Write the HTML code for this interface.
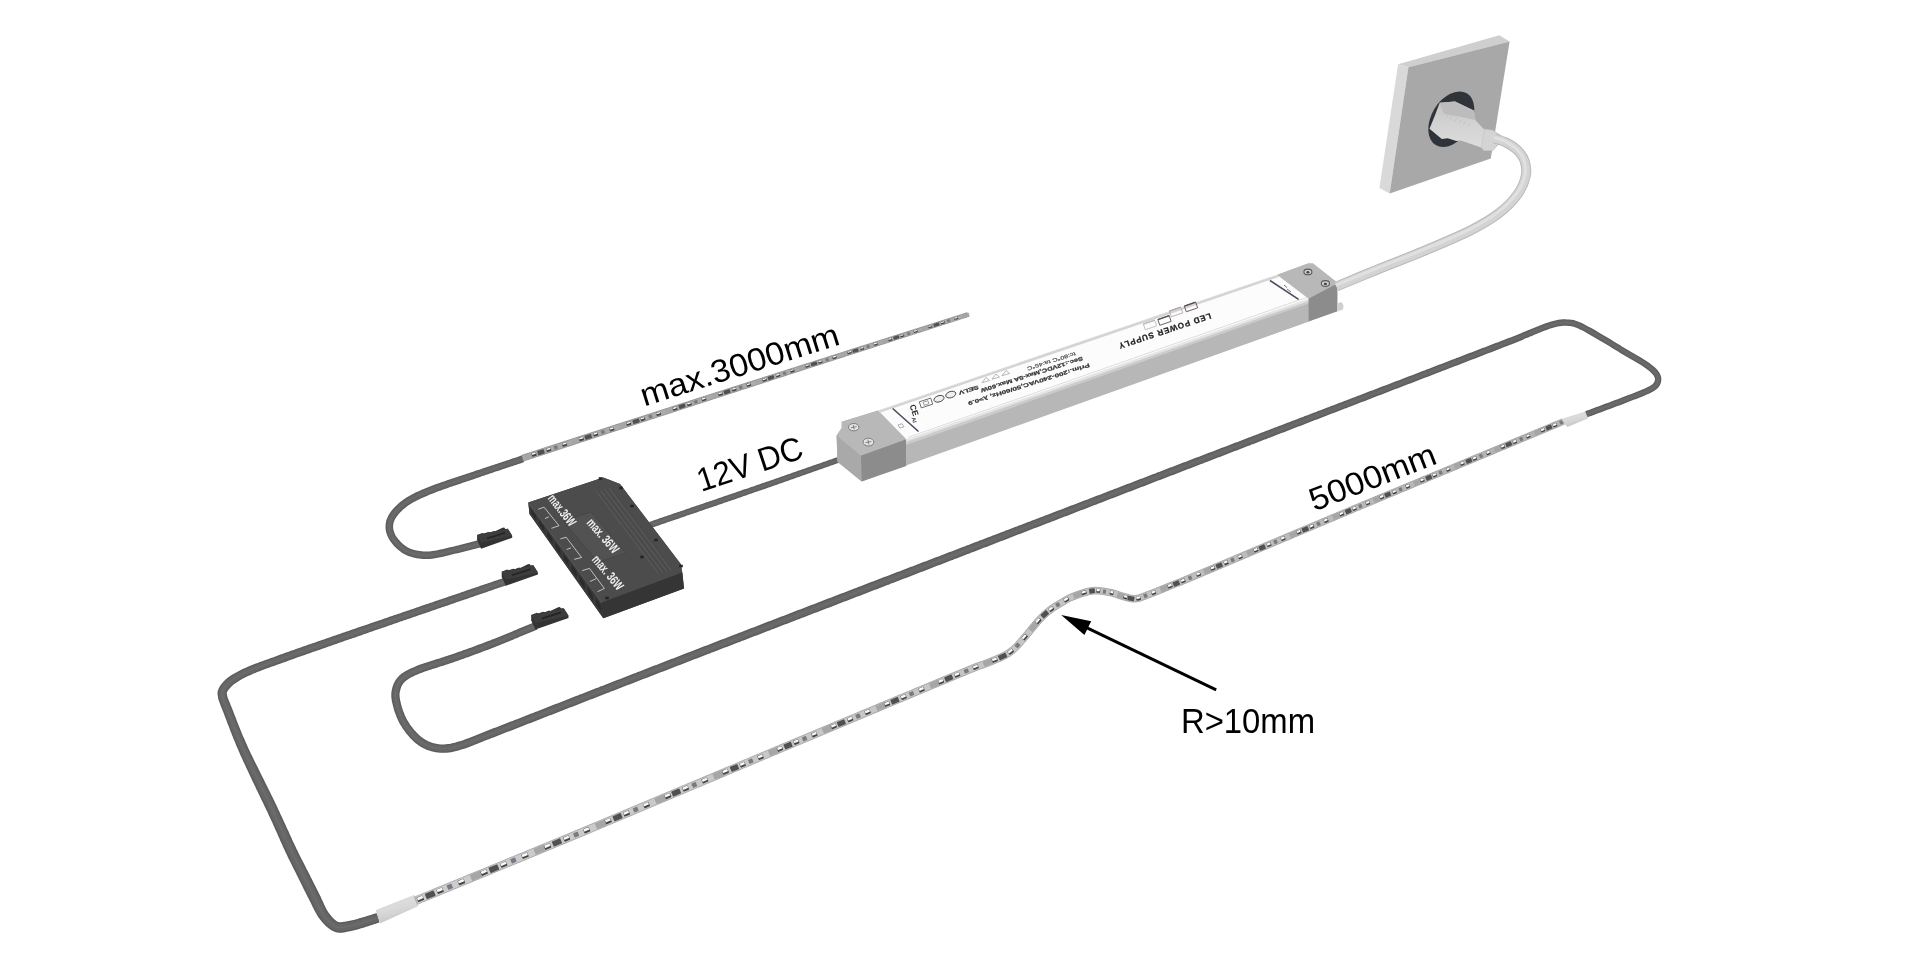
<!DOCTYPE html>
<html><head><meta charset="utf-8"><style>
html,body{margin:0;padding:0;background:#fff;width:1920px;height:961px;overflow:hidden}
svg{display:block;position:absolute;left:0;top:0;will-change:transform}
text{font-family:"Liberation Sans",sans-serif}
</style></head><body>
<svg width="1920" height="961" viewBox="0 0 1920 961">
<rect width="1920" height="961" fill="#ffffff"/>
<polygon points="534.5,622.2 532.7,623.0 530.8,623.7 529.0,624.5 527.1,625.3 525.3,626.0 523.4,626.8 521.6,627.6 519.7,628.3 517.9,629.1 516.0,629.9 514.2,630.6 512.3,631.4 510.5,632.2 508.6,632.9 506.8,633.7 504.9,634.4 503.1,635.2 501.2,635.9 499.4,636.7 497.5,637.4 495.7,638.2 493.8,638.9 492.0,639.6 490.1,640.4 488.3,641.1 486.4,641.8 484.5,642.5 482.7,643.2 480.8,643.9 478.9,644.6 477.1,645.3 475.2,646.0 473.3,646.7 471.5,647.4 469.6,648.1 467.7,648.7 465.8,649.4 463.9,650.1 462.1,650.8 460.2,651.4 458.3,652.1 456.4,652.7 454.5,653.4 452.7,654.1 450.8,654.7 448.9,655.3 447.0,655.9 445.1,656.6 443.2,657.2 441.3,657.8 439.4,658.4 437.5,659.0 435.6,659.6 433.7,660.2 431.8,660.8 429.9,661.4 428.0,662.0 426.0,662.7 424.1,663.3 422.2,664.0 420.2,664.6 418.3,665.3 416.4,666.1 414.5,666.9 412.6,667.7 410.6,668.5 408.7,669.4 406.8,670.4 404.9,671.5 403.0,672.7 401.2,674.1 399.4,675.6 397.8,677.3 396.2,679.2 394.9,681.2 393.9,683.3 393.0,685.5 392.3,687.7 391.8,690.0 391.4,692.3 391.3,694.6 391.3,697.0 391.6,699.3 391.9,701.4 392.4,703.6 392.9,705.6 393.4,707.6 394.0,709.7 394.6,711.7 395.3,713.6 396.0,715.6 396.8,717.6 397.7,719.6 398.6,721.5 399.6,723.4 400.7,725.3 401.8,727.1 403.0,728.9 404.2,730.6 405.4,732.3 406.7,734.0 408.1,735.6 409.5,737.2 410.9,738.7 412.5,740.3 414.0,741.7 415.7,743.2 417.4,744.5 419.2,745.8 421.1,747.0 423.1,748.1 425.1,749.0 427.1,749.9 429.2,750.6 431.3,751.3 433.5,751.8 435.7,752.3 437.9,752.6 440.1,752.7 442.3,752.8 444.5,752.8 446.6,752.7 448.8,752.5 451.0,752.2 453.1,751.8 455.2,751.3 457.3,750.8 459.3,750.2 461.2,749.6 463.2,749.0 465.1,748.4 467.1,747.7 469.1,747.0 471.0,746.2 472.9,745.5 474.7,744.7 476.6,744.0 478.5,743.2 480.3,742.5 482.2,741.8 484.0,741.0 485.9,740.3 487.8,739.6 489.6,738.9 491.5,738.1 493.3,737.4 495.2,736.7 497.1,736.0 498.9,735.2 500.8,734.5 502.7,733.8 504.5,733.1 506.4,732.3 508.3,731.6 510.1,730.9 512.0,730.2 513.9,729.4 515.7,728.7 517.6,728.0 519.5,727.2 521.3,726.5 523.2,725.8 525.1,725.1 526.9,724.3 528.8,723.6 530.7,722.9 532.5,722.2 534.4,721.4 536.2,720.7 538.1,720.0 540.0,719.2 541.8,718.5 543.7,717.8 545.6,717.1 547.4,716.3 549.3,715.6 551.2,714.9 553.0,714.2 554.9,713.4 556.8,712.7 558.6,712.0 560.5,711.2 562.4,710.5 564.2,709.8 566.1,709.1 568.0,708.3 569.8,707.6 571.7,706.9 573.6,706.2 575.4,705.4 577.3,704.7 579.1,704.0 581.0,703.3 582.9,702.5 584.7,701.8 586.6,701.1 588.5,700.3 590.3,699.6 592.2,698.9 594.1,698.2 595.9,697.4 597.8,696.7 599.7,696.0 601.5,695.3 603.4,694.5 605.3,693.8 607.1,693.1 609.0,692.4 610.9,691.6 612.7,690.9 614.6,690.2 616.5,689.5 618.3,688.7 620.2,688.0 622.1,687.3 623.9,686.6 625.8,685.8 627.7,685.1 629.5,684.4 631.4,683.7 633.3,682.9 635.1,682.2 637.0,681.5 638.9,680.8 640.7,680.1 642.6,679.3 644.5,678.6 646.3,677.9 648.2,677.2 650.1,676.4 651.9,675.7 653.8,675.0 655.7,674.3 657.5,673.6 659.4,672.8 661.3,672.1 663.1,671.4 665.0,670.7 666.9,669.9 668.7,669.2 670.6,668.5 672.5,667.8 674.3,667.1 676.2,666.3 678.1,665.6 679.9,664.9 681.8,664.2 683.7,663.5 685.5,662.7 687.4,662.0 689.3,661.3 691.1,660.6 693.0,659.8 694.9,659.1 696.7,658.4 698.6,657.7 700.5,657.0 702.3,656.2 704.2,655.5 706.1,654.8 707.9,654.1 709.8,653.4 711.7,652.6 713.5,651.9 715.4,651.2 717.3,650.5 719.1,649.8 721.0,649.1 722.9,648.3 724.8,647.6 726.6,646.9 728.5,646.2 730.4,645.5 732.2,644.7 734.1,644.0 736.0,643.3 737.8,642.6 739.7,641.9 741.6,641.1 743.4,640.4 745.3,639.7 747.2,639.0 749.0,638.3 750.9,637.5 752.8,636.8 754.6,636.1 756.5,635.4 758.4,634.7 760.3,634.0 762.1,633.2 764.0,632.5 765.9,631.8 767.7,631.1 769.6,630.4 771.5,629.6 773.3,628.9 775.2,628.2 777.1,627.5 778.9,626.8 780.8,626.0 782.7,625.3 784.5,624.6 786.4,623.9 788.3,623.2 790.1,622.5 792.0,621.7 793.9,621.0 795.8,620.3 797.6,619.6 799.5,618.9 801.4,618.1 803.2,617.4 805.1,616.7 807.0,616.0 808.8,615.3 810.7,614.6 812.6,613.8 814.4,613.1 816.3,612.4 818.2,611.7 820.0,611.0 821.9,610.2 823.8,609.5 825.7,608.8 827.5,608.1 829.4,607.4 831.3,606.7 833.1,605.9 835.0,605.2 836.9,604.5 838.7,603.8 840.6,603.1 842.5,602.3 844.3,601.6 846.2,600.9 848.1,600.2 849.9,599.5 851.8,598.7 853.7,598.0 855.5,597.3 857.4,596.6 859.3,595.9 861.2,595.2 863.0,594.4 864.9,593.7 866.8,593.0 868.6,592.3 870.5,591.6 872.4,590.8 874.2,590.1 876.1,589.4 878.0,588.7 879.8,588.0 881.7,587.2 883.6,586.5 885.4,585.8 887.3,585.1 889.2,584.4 891.0,583.6 892.9,582.9 894.8,582.2 896.6,581.5 898.5,580.8 900.4,580.0 902.2,579.3 904.1,578.6 906.0,577.9 907.9,577.2 909.7,576.4 911.6,575.7 913.5,575.0 915.3,574.3 917.2,573.6 919.1,572.8 920.9,572.1 922.8,571.4 924.7,570.7 926.5,569.9 928.4,569.2 930.3,568.5 932.1,567.8 934.0,567.1 935.9,566.3 937.7,565.6 939.6,564.9 941.5,564.2 943.3,563.5 945.2,562.7 947.1,562.0 948.9,561.3 950.8,560.6 952.7,559.9 954.5,559.1 956.4,558.4 958.3,557.7 960.1,557.0 962.0,556.3 963.9,555.5 965.8,554.8 967.6,554.1 969.5,553.4 971.4,552.6 973.2,551.9 975.1,551.2 977.0,550.5 978.8,549.8 980.7,549.0 982.6,548.3 984.4,547.6 986.3,546.9 988.2,546.2 990.0,545.4 991.9,544.7 993.8,544.0 995.6,543.3 997.5,542.5 999.4,541.8 1001.2,541.1 1003.1,540.4 1005.0,539.7 1006.8,538.9 1008.7,538.2 1010.6,537.5 1012.4,536.8 1014.3,536.1 1016.2,535.3 1018.0,534.6 1019.9,533.9 1021.8,533.2 1023.6,532.5 1025.5,531.7 1027.4,531.0 1029.2,530.3 1031.1,529.6 1033.0,528.8 1034.9,528.1 1036.7,527.4 1038.6,526.7 1040.5,526.0 1042.3,525.2 1044.2,524.5 1046.1,523.8 1047.9,523.1 1049.8,522.4 1051.7,521.6 1053.5,520.9 1055.4,520.2 1057.3,519.5 1059.1,518.8 1061.0,518.0 1062.9,517.3 1064.7,516.6 1066.6,515.9 1068.5,515.2 1070.3,514.4 1072.2,513.7 1074.1,513.0 1075.9,512.3 1077.8,511.6 1079.7,510.8 1081.5,510.1 1083.4,509.4 1085.3,508.7 1087.1,507.9 1089.0,507.2 1090.9,506.5 1092.8,505.8 1094.6,505.1 1096.5,504.4 1098.4,503.6 1100.2,502.9 1102.1,502.2 1104.0,501.5 1105.8,500.8 1107.7,500.0 1109.6,499.3 1111.4,498.6 1113.3,497.9 1115.2,497.2 1117.0,496.4 1118.9,495.7 1120.8,495.0 1122.6,494.3 1124.5,493.6 1126.4,492.8 1128.3,492.1 1130.1,491.4 1132.0,490.7 1133.9,490.0 1135.7,489.3 1137.6,488.5 1139.5,487.8 1141.3,487.1 1143.2,486.4 1145.1,485.7 1146.9,484.9 1148.8,484.2 1150.7,483.5 1152.5,482.8 1154.4,482.1 1156.3,481.3 1158.1,480.6 1160.0,479.9 1161.9,479.2 1163.8,478.5 1165.6,477.8 1167.5,477.0 1169.4,476.3 1171.2,475.6 1173.1,474.9 1175.0,474.2 1176.8,473.4 1178.7,472.7 1180.6,472.0 1182.4,471.3 1184.3,470.6 1186.2,469.8 1188.0,469.1 1189.9,468.4 1191.8,467.7 1193.6,467.0 1195.5,466.2 1197.4,465.5 1199.2,464.8 1201.1,464.1 1203.0,463.4 1204.9,462.6 1206.7,461.9 1208.6,461.2 1210.5,460.5 1212.3,459.8 1214.2,459.0 1216.1,458.3 1217.9,457.6 1219.8,456.9 1221.7,456.2 1223.5,455.4 1225.4,454.7 1227.3,454.0 1229.1,453.3 1231.0,452.6 1232.9,451.8 1234.7,451.1 1236.6,450.4 1238.5,449.7 1240.3,449.0 1242.2,448.2 1244.1,447.5 1245.9,446.8 1247.8,446.1 1249.7,445.4 1251.5,444.6 1253.4,443.9 1255.3,443.2 1257.2,442.5 1259.0,441.7 1260.9,441.0 1262.8,440.3 1264.6,439.6 1266.5,438.9 1268.4,438.1 1270.2,437.4 1272.1,436.7 1274.0,436.0 1275.8,435.3 1277.7,434.5 1279.6,433.8 1281.4,433.1 1283.3,432.4 1285.2,431.7 1287.0,430.9 1288.9,430.2 1290.8,429.5 1292.6,428.8 1294.5,428.0 1296.4,427.3 1298.2,426.6 1300.1,425.9 1302.0,425.2 1303.8,424.4 1305.7,423.7 1307.6,423.0 1309.4,422.3 1311.3,421.6 1313.2,420.8 1315.0,420.1 1316.9,419.4 1318.8,418.7 1320.6,418.0 1322.5,417.2 1324.4,416.5 1326.3,415.8 1328.1,415.1 1330.0,414.3 1331.9,413.6 1333.7,412.9 1335.6,412.2 1337.5,411.5 1339.3,410.7 1341.2,410.0 1343.1,409.3 1344.9,408.6 1346.8,407.9 1348.7,407.1 1350.5,406.4 1352.4,405.7 1354.3,405.0 1356.1,404.3 1358.0,403.5 1359.9,402.8 1361.7,402.1 1363.6,401.4 1365.5,400.7 1367.3,399.9 1369.2,399.2 1371.1,398.5 1372.9,397.8 1374.8,397.0 1376.7,396.3 1378.5,395.6 1380.4,394.9 1382.3,394.2 1384.2,393.4 1386.0,392.7 1387.9,392.0 1389.8,391.3 1391.6,390.6 1393.5,389.8 1395.4,389.1 1397.2,388.4 1399.1,387.7 1401.0,387.0 1402.8,386.2 1404.7,385.5 1406.6,384.8 1408.4,384.1 1410.3,383.4 1412.2,382.7 1414.0,381.9 1415.9,381.2 1417.8,380.5 1419.6,379.8 1421.5,379.1 1423.4,378.3 1425.3,377.6 1427.1,376.9 1429.0,376.2 1430.9,375.5 1432.7,374.7 1434.6,374.0 1436.5,373.3 1438.3,372.6 1440.2,371.9 1442.1,371.1 1443.9,370.4 1445.8,369.7 1447.7,369.0 1449.5,368.3 1451.4,367.6 1453.3,366.8 1455.1,366.1 1457.0,365.4 1458.9,364.7 1460.8,364.0 1462.6,363.2 1464.5,362.5 1466.4,361.8 1468.2,361.1 1470.1,360.3 1472.0,359.6 1473.8,358.9 1475.7,358.2 1477.6,357.5 1479.4,356.7 1481.3,356.0 1483.2,355.3 1485.0,354.6 1486.9,353.8 1488.8,353.1 1490.6,352.4 1492.5,351.7 1494.4,350.9 1496.2,350.2 1498.1,349.5 1500.0,348.8 1501.8,348.0 1503.7,347.3 1505.6,346.6 1507.4,345.9 1509.3,345.1 1511.2,344.4 1513.0,343.7 1514.9,342.9 1516.8,342.2 1518.6,341.5 1520.5,340.7 1522.4,340.0 1524.5,339.1 1524.7,338.9 1522.9,339.5 1524.5,338.8 1526.3,338.1 1528.2,337.4 1530.0,336.6 1531.9,335.9 1533.7,335.1 1535.6,334.3 1537.4,333.6 1539.3,332.8 1541.1,332.0 1542.9,331.3 1544.8,330.6 1546.6,329.9 1548.4,329.2 1550.3,328.6 1552.1,328.1 1554.0,327.5 1555.8,327.0 1557.7,326.6 1559.5,326.2 1561.3,325.9 1563.1,325.8 1564.9,325.7 1566.8,325.8 1568.6,325.9 1570.4,326.1 1572.2,326.4 1573.9,326.8 1575.6,327.4 1577.3,328.1 1579.0,328.9 1580.8,329.8 1582.5,330.6 1584.3,331.5 1586.0,332.5 1587.7,333.4 1589.4,334.4 1591.1,335.4 1592.9,336.4 1594.6,337.4 1596.3,338.4 1598.0,339.4 1599.7,340.4 1601.4,341.5 1603.2,342.5 1604.9,343.5 1606.6,344.6 1608.3,345.6 1610.0,346.6 1611.7,347.7 1613.4,348.7 1615.1,349.7 1616.8,350.8 1618.5,351.8 1620.3,352.9 1622.0,353.9 1623.7,354.9 1625.4,356.0 1627.2,357.0 1628.9,358.0 1630.6,359.0 1632.4,360.0 1634.1,361.0 1635.8,362.0 1637.5,363.0 1639.2,364.1 1640.9,365.1 1642.5,366.1 1644.1,367.2 1645.7,368.3 1647.2,369.4 1648.7,370.6 1650.1,371.8 1651.4,373.0 1652.6,374.3 1653.6,375.6 1654.4,376.9 1654.9,378.2 1655.0,379.4 1654.8,380.7 1654.3,381.9 1653.6,383.1 1652.6,384.2 1651.4,385.1 1649.9,386.0 1648.3,386.8 1646.5,387.7 1644.8,388.5 1643.0,389.3 1641.2,390.0 1639.4,390.8 1637.5,391.5 1635.7,392.2 1633.8,392.9 1632.0,393.7 1630.1,394.4 1628.2,395.1 1626.4,395.8 1624.5,396.5 1622.6,397.2 1620.8,398.0 1618.9,398.7 1617.0,399.4 1615.2,400.1 1613.3,400.8 1611.4,401.5 1609.6,402.2 1607.7,402.9 1605.8,403.6 1603.9,404.3 1602.1,405.0 1600.2,405.7 1598.3,406.4 1596.4,407.1 1594.6,407.8 1592.7,408.5 1590.8,409.2 1588.9,409.9 1587.1,410.6 1585.2,411.3 1587.4,417.3 1589.3,416.6 1591.2,415.9 1593.0,415.2 1594.9,414.5 1596.8,413.8 1598.7,413.1 1600.5,412.4 1602.4,411.7 1604.3,411.0 1606.2,410.3 1608.1,409.6 1609.9,408.9 1611.8,408.2 1613.7,407.5 1615.6,406.8 1617.4,406.1 1619.3,405.4 1621.2,404.7 1623.1,403.9 1624.9,403.2 1626.8,402.5 1628.7,401.8 1630.5,401.1 1632.4,400.3 1634.3,399.6 1636.2,398.9 1638.0,398.2 1639.9,397.4 1641.8,396.7 1643.7,395.9 1645.6,395.1 1647.4,394.3 1649.3,393.4 1651.2,392.5 1653.1,391.5 1655.1,390.3 1657.0,388.8 1658.7,386.9 1660.1,384.7 1661.0,382.2 1661.4,379.5 1661.1,376.8 1660.2,374.3 1659.0,372.2 1657.6,370.3 1656.0,368.6 1654.4,367.1 1652.8,365.7 1651.1,364.4 1649.5,363.1 1647.8,361.9 1646.0,360.8 1644.3,359.7 1642.5,358.6 1640.8,357.5 1639.1,356.5 1637.3,355.5 1635.6,354.5 1633.9,353.5 1632.1,352.5 1630.4,351.5 1628.7,350.5 1627.0,349.4 1625.3,348.4 1623.6,347.4 1621.9,346.4 1620.2,345.3 1618.4,344.3 1616.7,343.2 1615.0,342.2 1613.3,341.2 1611.6,340.1 1609.9,339.1 1608.2,338.0 1606.5,337.0 1604.7,336.0 1603.0,334.9 1601.3,333.9 1599.6,332.9 1597.8,331.9 1596.1,330.8 1594.3,329.8 1592.6,328.8 1590.8,327.8 1589.0,326.9 1587.2,325.9 1585.4,324.9 1583.6,324.0 1581.7,323.1 1579.8,322.2 1577.8,321.4 1575.7,320.7 1573.6,320.1 1571.4,319.7 1569.2,319.5 1567.1,319.4 1564.9,319.3 1562.8,319.3 1560.6,319.5 1558.4,319.8 1556.3,320.2 1554.3,320.7 1552.2,321.3 1550.3,321.8 1548.3,322.4 1546.3,323.1 1544.4,323.7 1542.4,324.5 1540.5,325.2 1538.7,325.9 1536.8,326.7 1534.9,327.5 1533.1,328.2 1531.2,329.0 1529.4,329.8 1527.5,330.5 1525.7,331.2 1523.8,332.0 1521.9,332.7 1519.8,333.6 1521.6,333.0 1521.5,333.2 1519.8,333.8 1518.0,334.5 1516.2,335.2 1514.3,335.9 1512.4,336.7 1510.6,337.4 1508.7,338.1 1506.8,338.8 1505.0,339.5 1503.1,340.2 1501.2,341.0 1499.4,341.7 1497.5,342.4 1495.6,343.1 1493.8,343.8 1491.9,344.5 1490.0,345.3 1488.2,346.0 1486.3,346.7 1484.4,347.4 1482.5,348.1 1480.7,348.8 1478.8,349.6 1476.9,350.3 1475.1,351.0 1473.2,351.7 1471.3,352.4 1469.5,353.1 1467.6,353.8 1465.7,354.6 1463.9,355.3 1462.0,356.0 1460.1,356.7 1458.2,357.4 1456.4,358.1 1454.5,358.9 1452.6,359.6 1450.8,360.3 1448.9,361.0 1447.0,361.7 1445.2,362.5 1443.3,363.2 1441.4,363.9 1439.6,364.6 1437.7,365.3 1435.8,366.0 1433.9,366.8 1432.1,367.5 1430.2,368.2 1428.3,368.9 1426.5,369.6 1424.6,370.4 1422.7,371.1 1420.9,371.8 1419.0,372.5 1417.1,373.2 1415.3,373.9 1413.4,374.7 1411.5,375.4 1409.7,376.1 1407.8,376.8 1405.9,377.5 1404.0,378.2 1402.2,379.0 1400.3,379.7 1398.4,380.4 1396.6,381.1 1394.7,381.8 1392.8,382.5 1391.0,383.3 1389.1,384.0 1387.2,384.7 1385.4,385.4 1383.5,386.1 1381.6,386.8 1379.7,387.6 1377.9,388.3 1376.0,389.0 1374.1,389.7 1372.3,390.4 1370.4,391.1 1368.5,391.8 1366.7,392.6 1364.8,393.3 1362.9,394.0 1361.0,394.7 1359.2,395.4 1357.3,396.1 1355.4,396.9 1353.6,397.6 1351.7,398.3 1349.8,399.0 1348.0,399.7 1346.1,400.4 1344.2,401.1 1342.3,401.9 1340.5,402.6 1338.6,403.3 1336.7,404.0 1334.9,404.7 1333.0,405.4 1331.1,406.1 1329.3,406.9 1327.4,407.6 1325.5,408.3 1323.6,409.0 1321.8,409.7 1319.9,410.4 1318.0,411.1 1316.2,411.9 1314.3,412.6 1312.4,413.3 1310.6,414.0 1308.7,414.7 1306.8,415.4 1304.9,416.1 1303.1,416.9 1301.2,417.6 1299.3,418.3 1297.5,419.0 1295.6,419.7 1293.7,420.4 1291.9,421.1 1290.0,421.9 1288.1,422.6 1286.2,423.3 1284.4,424.0 1282.5,424.7 1280.6,425.4 1278.8,426.1 1276.9,426.9 1275.0,427.6 1273.2,428.3 1271.3,429.0 1269.4,429.7 1267.5,430.4 1265.7,431.1 1263.8,431.9 1261.9,432.6 1260.1,433.3 1258.2,434.0 1256.3,434.7 1254.4,435.4 1252.6,436.1 1250.7,436.9 1248.8,437.6 1247.0,438.3 1245.1,439.0 1243.2,439.7 1241.4,440.4 1239.5,441.2 1237.6,441.9 1235.7,442.6 1233.9,443.3 1232.0,444.0 1230.1,444.7 1228.3,445.4 1226.4,446.2 1224.5,446.9 1222.7,447.6 1220.8,448.3 1218.9,449.0 1217.0,449.7 1215.2,450.4 1213.3,451.2 1211.4,451.9 1209.6,452.6 1207.7,453.3 1205.8,454.0 1204.0,454.7 1202.1,455.5 1200.2,456.2 1198.4,456.9 1196.5,457.6 1194.6,458.3 1192.7,459.0 1190.9,459.7 1189.0,460.5 1187.1,461.2 1185.3,461.9 1183.4,462.6 1181.5,463.3 1179.7,464.0 1177.8,464.8 1175.9,465.5 1174.0,466.2 1172.2,466.9 1170.3,467.6 1168.4,468.3 1166.6,469.1 1164.7,469.8 1162.8,470.5 1161.0,471.2 1159.1,471.9 1157.2,472.6 1155.4,473.4 1153.5,474.1 1151.6,474.8 1149.7,475.5 1147.9,476.2 1146.0,476.9 1144.1,477.7 1142.3,478.4 1140.4,479.1 1138.5,479.8 1136.7,480.5 1134.8,481.3 1132.9,482.0 1131.1,482.7 1129.2,483.4 1127.3,484.1 1125.5,484.8 1123.6,485.6 1121.7,486.3 1119.8,487.0 1118.0,487.7 1116.1,488.4 1114.2,489.1 1112.4,489.9 1110.5,490.6 1108.6,491.3 1106.8,492.0 1104.9,492.7 1103.0,493.4 1101.2,494.2 1099.3,494.9 1097.4,495.6 1095.5,496.3 1093.7,497.0 1091.8,497.7 1089.9,498.5 1088.1,499.2 1086.2,499.9 1084.3,500.6 1082.5,501.3 1080.6,502.0 1078.7,502.8 1076.9,503.5 1075.0,504.2 1073.1,504.9 1071.2,505.6 1069.4,506.3 1067.5,507.1 1065.6,507.8 1063.8,508.5 1061.9,509.2 1060.0,509.9 1058.2,510.6 1056.3,511.3 1054.4,512.1 1052.5,512.8 1050.7,513.5 1048.8,514.2 1046.9,514.9 1045.1,515.6 1043.2,516.4 1041.3,517.1 1039.5,517.8 1037.6,518.5 1035.7,519.2 1033.8,519.9 1032.0,520.6 1030.1,521.4 1028.2,522.1 1026.4,522.8 1024.5,523.5 1022.6,524.2 1020.8,524.9 1018.9,525.6 1017.0,526.4 1015.1,527.1 1013.3,527.8 1011.4,528.5 1009.5,529.2 1007.7,529.9 1005.8,530.6 1003.9,531.4 1002.1,532.1 1000.2,532.8 998.3,533.5 996.4,534.2 994.6,534.9 992.7,535.6 990.8,536.4 989.0,537.1 987.1,537.8 985.2,538.5 983.4,539.2 981.5,539.9 979.6,540.6 977.7,541.4 975.9,542.1 974.0,542.8 972.1,543.5 970.3,544.2 968.4,544.9 966.5,545.6 964.7,546.4 962.8,547.1 960.9,547.8 959.0,548.5 957.2,549.2 955.3,549.9 953.4,550.7 951.6,551.4 949.7,552.1 947.8,552.8 946.0,553.5 944.1,554.2 942.2,554.9 940.3,555.7 938.5,556.4 936.6,557.1 934.7,557.8 932.9,558.5 931.0,559.2 929.1,559.9 927.3,560.7 925.4,561.4 923.5,562.1 921.6,562.8 919.8,563.5 917.9,564.2 916.0,564.9 914.2,565.7 912.3,566.4 910.4,567.1 908.6,567.8 906.7,568.5 904.8,569.2 902.9,570.0 901.1,570.7 899.2,571.4 897.3,572.1 895.5,572.8 893.6,573.5 891.7,574.2 889.9,575.0 888.0,575.7 886.1,576.4 884.2,577.1 882.4,577.8 880.5,578.5 878.6,579.3 876.8,580.0 874.9,580.7 873.0,581.4 871.2,582.1 869.3,582.8 867.4,583.6 865.6,584.3 863.7,585.0 861.8,585.7 859.9,586.4 858.1,587.1 856.2,587.9 854.3,588.6 852.5,589.3 850.6,590.0 848.7,590.7 846.9,591.4 845.0,592.2 843.1,592.9 841.3,593.6 839.4,594.3 837.5,595.0 835.6,595.8 833.8,596.5 831.9,597.2 830.0,597.9 828.2,598.6 826.3,599.3 824.4,600.1 822.6,600.8 820.7,601.5 818.8,602.2 817.0,602.9 815.1,603.7 813.2,604.4 811.4,605.1 809.5,605.8 807.6,606.5 805.7,607.2 803.9,608.0 802.0,608.7 800.1,609.4 798.3,610.1 796.4,610.8 794.5,611.6 792.7,612.3 790.8,613.0 788.9,613.7 787.1,614.4 785.2,615.2 783.3,615.9 781.5,616.6 779.6,617.3 777.7,618.0 775.9,618.7 774.0,619.5 772.1,620.2 770.2,620.9 768.4,621.6 766.5,622.3 764.6,623.1 762.8,623.8 760.9,624.5 759.0,625.2 757.2,625.9 755.3,626.7 753.4,627.4 751.6,628.1 749.7,628.8 747.8,629.5 746.0,630.3 744.1,631.0 742.2,631.7 740.4,632.4 738.5,633.1 736.6,633.9 734.8,634.6 732.9,635.3 731.0,636.0 729.1,636.7 727.3,637.5 725.4,638.2 723.5,638.9 721.7,639.6 719.8,640.3 717.9,641.1 716.1,641.8 714.2,642.5 712.3,643.2 710.5,643.9 708.6,644.7 706.7,645.4 704.9,646.1 703.0,646.8 701.1,647.6 699.3,648.3 697.4,649.0 695.5,649.7 693.7,650.4 691.8,651.2 689.9,651.9 688.1,652.6 686.2,653.3 684.3,654.0 682.5,654.8 680.6,655.5 678.7,656.2 676.9,656.9 675.0,657.7 673.1,658.4 671.2,659.1 669.4,659.8 667.5,660.5 665.6,661.3 663.8,662.0 661.9,662.7 660.0,663.4 658.2,664.2 656.3,664.9 654.4,665.6 652.6,666.3 650.7,667.1 648.8,667.8 647.0,668.5 645.1,669.2 643.2,670.0 641.4,670.7 639.5,671.4 637.6,672.1 635.8,672.9 633.9,673.6 632.0,674.3 630.2,675.0 628.3,675.8 626.4,676.5 624.6,677.2 622.7,677.9 620.9,678.7 619.0,679.4 617.1,680.1 615.3,680.8 613.4,681.6 611.5,682.3 609.7,683.0 607.8,683.7 605.9,684.5 604.1,685.2 602.2,685.9 600.3,686.6 598.5,687.4 596.6,688.1 594.7,688.8 592.9,689.6 591.0,690.3 589.1,691.0 587.3,691.7 585.4,692.5 583.5,693.2 581.7,693.9 579.8,694.6 577.9,695.4 576.1,696.1 574.2,696.8 572.3,697.6 570.5,698.3 568.6,699.0 566.8,699.7 564.9,700.5 563.0,701.2 561.2,701.9 559.3,702.7 557.4,703.4 555.6,704.1 553.7,704.8 551.8,705.6 550.0,706.3 548.1,707.0 546.2,707.8 544.4,708.5 542.5,709.2 540.6,709.9 538.8,710.7 536.9,711.4 535.1,712.1 533.2,712.9 531.3,713.6 529.5,714.3 527.6,715.0 525.7,715.8 523.9,716.5 522.0,717.2 520.1,717.9 518.3,718.7 516.4,719.4 514.5,720.1 512.7,720.9 510.8,721.6 508.9,722.3 507.1,723.0 505.2,723.8 503.3,724.5 501.5,725.2 499.6,725.9 497.8,726.7 495.9,727.4 494.0,728.1 492.1,728.8 490.3,729.6 488.4,730.3 486.5,731.0 484.7,731.8 482.8,732.5 481.0,733.2 479.1,734.0 477.2,734.7 475.4,735.4 473.5,736.2 471.6,736.9 469.8,737.7 467.9,738.4 466.1,739.1 464.3,739.8 462.5,740.4 460.7,741.0 458.8,741.6 456.9,742.1 455.1,742.7 453.2,743.1 451.4,743.6 449.6,743.9 447.9,744.1 446.0,744.3 444.2,744.4 442.4,744.4 440.6,744.4 438.8,744.2 437.0,744.0 435.3,743.6 433.6,743.2 431.9,742.7 430.2,742.1 428.5,741.4 426.9,740.6 425.4,739.8 423.9,738.8 422.4,737.8 421.0,736.7 419.6,735.5 418.3,734.3 417.0,732.9 415.7,731.6 414.4,730.2 413.2,728.7 412.1,727.2 410.9,725.7 409.8,724.2 408.8,722.6 407.8,721.0 406.9,719.4 406.0,717.8 405.2,716.1 404.5,714.4 403.8,712.6 403.1,710.9 402.5,709.1 401.9,707.2 401.4,705.4 400.9,703.6 400.5,701.8 400.1,700.0 399.8,698.2 399.6,696.5 399.5,694.8 399.6,693.2 399.9,691.5 400.3,689.9 400.8,688.3 401.3,686.7 402.1,685.3 402.9,683.9 403.9,682.7 405.1,681.5 406.3,680.4 407.7,679.4 409.2,678.4 410.7,677.5 412.4,676.7 414.1,675.9 415.8,675.1 417.6,674.4 419.4,673.6 421.2,672.9 423.0,672.2 424.8,671.6 426.7,670.9 428.6,670.3 430.5,669.7 432.4,669.1 434.2,668.5 436.1,667.9 438.1,667.2 440.0,666.6 441.9,666.0 443.8,665.4 445.7,664.8 447.6,664.2 449.5,663.5 451.4,662.9 453.4,662.3 455.3,661.6 457.2,660.9 459.1,660.3 461.0,659.6 462.8,658.9 464.7,658.2 466.6,657.6 468.5,656.9 470.4,656.2 472.3,655.5 474.2,654.8 476.1,654.1 477.9,653.4 479.8,652.7 481.7,652.0 483.6,651.3 485.5,650.6 487.4,649.9 489.2,649.2 491.1,648.4 493.0,647.7 494.9,647.0 496.7,646.2 498.6,645.5 500.5,644.7 502.3,644.0 504.2,643.2 506.0,642.4 507.9,641.7 509.7,640.9 511.6,640.2 513.5,639.4 515.3,638.6 517.2,637.9 519.0,637.1 520.9,636.3 522.7,635.6 524.6,634.8 526.4,634.0 528.3,633.2 530.1,632.5 532.0,631.7 533.8,630.9 535.6,630.2 537.5,629.4" fill="#5c5c5c"/><polygon points="535.0,623.3 533.1,624.0 531.3,624.8 529.4,625.6 527.6,626.3 525.7,627.1 523.9,627.9 522.0,628.7 520.2,629.4 518.3,630.2 516.5,631.0 514.6,631.7 512.8,632.5 510.9,633.3 509.1,634.0 507.2,634.8 505.4,635.5 503.5,636.3 501.7,637.0 499.8,637.8 498.0,638.5 496.1,639.3 494.3,640.0 492.4,640.7 490.5,641.5 488.7,642.2 486.8,642.9 485.0,643.6 483.1,644.3 481.2,645.0 479.4,645.7 477.5,646.4 475.6,647.1 473.7,647.8 471.9,648.5 470.0,649.2 468.1,649.9 466.2,650.5 464.4,651.2 462.5,651.9 460.6,652.5 458.7,653.2 456.8,653.9 454.9,654.5 453.1,655.2 451.2,655.8 449.3,656.5 447.4,657.1 445.5,657.7 443.6,658.3 441.7,658.9 439.8,659.5 437.9,660.1 436.0,660.7 434.1,661.3 432.2,661.9 430.2,662.6 428.3,663.2 426.4,663.8 424.5,664.4 422.6,665.1 420.7,665.8 418.7,666.5 416.8,667.2 414.9,668.0 413.0,668.8 411.2,669.6 409.3,670.5 407.4,671.5 405.5,672.5 403.7,673.7 402.0,675.0 400.3,676.5 398.7,678.1 397.2,679.9 396.0,681.8 395.0,683.9 394.2,685.9 393.5,688.1 393.0,690.2 392.7,692.4 392.5,694.7 392.6,696.9 392.8,699.1 393.2,701.2 393.6,703.3 394.1,705.3 394.6,707.3 395.2,709.3 395.8,711.3 396.5,713.2 397.2,715.2 398.0,717.1 398.8,719.0 399.7,720.9 400.7,722.8 401.7,724.6 402.8,726.4 404.0,728.2 405.2,729.9 406.4,731.5 407.7,733.2 409.0,734.8 410.4,736.3 411.8,737.9 413.3,739.4 414.9,740.8 416.5,742.2 418.2,743.5 419.9,744.8 421.8,745.9 423.7,747.0 425.6,747.9 427.6,748.7 429.6,749.5 431.7,750.1 433.8,750.6 435.9,751.0 438.0,751.3 440.2,751.5 442.3,751.5 444.4,751.5 446.5,751.4 448.7,751.2 450.8,750.9 452.9,750.5 454.9,750.1 456.9,749.5 458.9,749.0 460.9,748.4 462.8,747.8 464.8,747.2 466.7,746.5 468.6,745.8 470.5,745.1 472.4,744.3 474.3,743.6 476.1,742.8 478.0,742.1 479.8,741.3 481.7,740.6 483.6,739.9 485.4,739.1 487.3,738.4 489.2,737.7 491.0,737.0 492.9,736.2 494.7,735.5 496.6,734.8 498.5,734.0 500.3,733.3 502.2,732.6 504.1,731.9 505.9,731.2 507.8,730.4 509.7,729.7 511.5,729.0 513.4,728.3 515.3,727.5 517.1,726.8 519.0,726.1 520.9,725.3 522.7,724.6 524.6,723.9 526.5,723.2 528.3,722.4 530.2,721.7 532.1,721.0 533.9,720.3 535.8,719.5 537.7,718.8 539.5,718.1 541.4,717.3 543.2,716.6 545.1,715.9 547.0,715.2 548.8,714.4 550.7,713.7 552.6,713.0 554.4,712.2 556.3,711.5 558.2,710.8 560.0,710.1 561.9,709.3 563.8,708.6 565.6,707.9 567.5,707.2 569.4,706.4 571.2,705.7 573.1,705.0 575.0,704.2 576.8,703.5 578.7,702.8 580.6,702.1 582.4,701.3 584.3,700.6 586.1,699.9 588.0,699.2 589.9,698.4 591.7,697.7 593.6,697.0 595.5,696.3 597.3,695.5 599.2,694.8 601.1,694.1 602.9,693.4 604.8,692.6 606.7,691.9 608.5,691.2 610.4,690.5 612.3,689.7 614.1,689.0 616.0,688.3 617.9,687.6 619.7,686.8 621.6,686.1 623.5,685.4 625.3,684.7 627.2,683.9 629.1,683.2 630.9,682.5 632.8,681.8 634.7,681.0 636.5,680.3 638.4,679.6 640.3,678.9 642.1,678.1 644.0,677.4 645.9,676.7 647.7,676.0 649.6,675.3 651.5,674.5 653.3,673.8 655.2,673.1 657.1,672.4 658.9,671.6 660.8,670.9 662.7,670.2 664.5,669.5 666.4,668.7 668.3,668.0 670.1,667.3 672.0,666.6 673.9,665.9 675.7,665.1 677.6,664.4 679.5,663.7 681.3,663.0 683.2,662.3 685.1,661.5 686.9,660.8 688.8,660.1 690.7,659.4 692.5,658.7 694.4,657.9 696.3,657.2 698.1,656.5 700.0,655.8 701.9,655.1 703.7,654.3 705.6,653.6 707.5,652.9 709.3,652.2 711.2,651.5 713.1,650.7 715.0,650.0 716.8,649.3 718.7,648.6 720.6,647.9 722.4,647.1 724.3,646.4 726.2,645.7 728.0,645.0 729.9,644.3 731.8,643.5 733.6,642.8 735.5,642.1 737.4,641.4 739.2,640.7 741.1,639.9 743.0,639.2 744.8,638.5 746.7,637.8 748.6,637.1 750.4,636.3 752.3,635.6 754.2,634.9 756.1,634.2 757.9,633.5 759.8,632.8 761.7,632.0 763.5,631.3 765.4,630.6 767.3,629.9 769.1,629.2 771.0,628.4 772.9,627.7 774.7,627.0 776.6,626.3 778.5,625.6 780.3,624.8 782.2,624.1 784.1,623.4 785.9,622.7 787.8,622.0 789.7,621.3 791.6,620.5 793.4,619.8 795.3,619.1 797.2,618.4 799.0,617.7 800.9,616.9 802.8,616.2 804.6,615.5 806.5,614.8 808.4,614.1 810.2,613.3 812.1,612.6 814.0,611.9 815.8,611.2 817.7,610.5 819.6,609.8 821.5,609.0 823.3,608.3 825.2,607.6 827.1,606.9 828.9,606.2 830.8,605.4 832.7,604.7 834.5,604.0 836.4,603.3 838.3,602.6 840.1,601.9 842.0,601.1 843.9,600.4 845.7,599.7 847.6,599.0 849.5,598.3 851.3,597.5 853.2,596.8 855.1,596.1 857.0,595.4 858.8,594.7 860.7,594.0 862.6,593.2 864.4,592.5 866.3,591.8 868.2,591.1 870.0,590.4 871.9,589.6 873.8,588.9 875.6,588.2 877.5,587.5 879.4,586.8 881.2,586.0 883.1,585.3 885.0,584.6 886.8,583.9 888.7,583.2 890.6,582.4 892.5,581.7 894.3,581.0 896.2,580.3 898.1,579.6 899.9,578.8 901.8,578.1 903.7,577.4 905.5,576.7 907.4,576.0 909.3,575.2 911.1,574.5 913.0,573.8 914.9,573.1 916.7,572.4 918.6,571.6 920.5,570.9 922.3,570.2 924.2,569.5 926.1,568.8 927.9,568.0 929.8,567.3 931.7,566.6 933.5,565.9 935.4,565.2 937.3,564.4 939.2,563.7 941.0,563.0 942.9,562.3 944.8,561.6 946.6,560.8 948.5,560.1 950.4,559.4 952.2,558.7 954.1,558.0 956.0,557.2 957.8,556.5 959.7,555.8 961.6,555.1 963.4,554.4 965.3,553.6 967.2,552.9 969.0,552.2 970.9,551.5 972.8,550.8 974.6,550.0 976.5,549.3 978.4,548.6 980.2,547.9 982.1,547.2 984.0,546.4 985.9,545.7 987.7,545.0 989.6,544.3 991.5,543.6 993.3,542.8 995.2,542.1 997.1,541.4 998.9,540.7 1000.8,540.0 1002.7,539.2 1004.5,538.5 1006.4,537.8 1008.3,537.1 1010.1,536.4 1012.0,535.6 1013.9,534.9 1015.7,534.2 1017.6,533.5 1019.5,532.8 1021.3,532.0 1023.2,531.3 1025.1,530.6 1026.9,529.9 1028.8,529.2 1030.7,528.4 1032.6,527.7 1034.4,527.0 1036.3,526.3 1038.2,525.6 1040.0,524.8 1041.9,524.1 1043.8,523.4 1045.6,522.7 1047.5,522.0 1049.4,521.2 1051.2,520.5 1053.1,519.8 1055.0,519.1 1056.8,518.4 1058.7,517.6 1060.6,516.9 1062.4,516.2 1064.3,515.5 1066.2,514.8 1068.0,514.0 1069.9,513.3 1071.8,512.6 1073.6,511.9 1075.5,511.2 1077.4,510.4 1079.3,509.7 1081.1,509.0 1083.0,508.3 1084.9,507.6 1086.7,506.8 1088.6,506.1 1090.5,505.4 1092.3,504.7 1094.2,504.0 1096.1,503.3 1097.9,502.5 1099.8,501.8 1101.7,501.1 1103.5,500.4 1105.4,499.7 1107.3,498.9 1109.1,498.2 1111.0,497.5 1112.9,496.8 1114.8,496.1 1116.6,495.3 1118.5,494.6 1120.4,493.9 1122.2,493.2 1124.1,492.5 1126.0,491.7 1127.8,491.0 1129.7,490.3 1131.6,489.6 1133.4,488.9 1135.3,488.2 1137.2,487.4 1139.0,486.7 1140.9,486.0 1142.8,485.3 1144.6,484.6 1146.5,483.9 1148.4,483.1 1150.3,482.4 1152.1,481.7 1154.0,481.0 1155.9,480.3 1157.7,479.5 1159.6,478.8 1161.5,478.1 1163.3,477.4 1165.2,476.7 1167.1,475.9 1168.9,475.2 1170.8,474.5 1172.7,473.8 1174.5,473.1 1176.4,472.4 1178.3,471.6 1180.2,470.9 1182.0,470.2 1183.9,469.5 1185.8,468.8 1187.6,468.0 1189.5,467.3 1191.4,466.6 1193.2,465.9 1195.1,465.2 1197.0,464.4 1198.8,463.7 1200.7,463.0 1202.6,462.3 1204.4,461.6 1206.3,460.8 1208.2,460.1 1210.0,459.4 1211.9,458.7 1213.8,458.0 1215.6,457.2 1217.5,456.5 1219.4,455.8 1221.3,455.1 1223.1,454.4 1225.0,453.7 1226.9,452.9 1228.7,452.2 1230.6,451.5 1232.5,450.8 1234.3,450.1 1236.2,449.3 1238.1,448.6 1239.9,447.9 1241.8,447.2 1243.7,446.5 1245.5,445.7 1247.4,445.0 1249.3,444.3 1251.1,443.6 1253.0,442.9 1254.9,442.1 1256.7,441.4 1258.6,440.7 1260.5,440.0 1262.3,439.3 1264.2,438.5 1266.1,437.8 1268.0,437.1 1269.8,436.4 1271.7,435.7 1273.6,434.9 1275.4,434.2 1277.3,433.5 1279.2,432.8 1281.0,432.1 1282.9,431.3 1284.8,430.6 1286.6,429.9 1288.5,429.2 1290.4,428.5 1292.2,427.7 1294.1,427.0 1296.0,426.3 1297.8,425.6 1299.7,424.9 1301.6,424.1 1303.4,423.4 1305.3,422.7 1307.2,422.0 1309.0,421.3 1310.9,420.5 1312.8,419.8 1314.7,419.1 1316.5,418.4 1318.4,417.7 1320.3,416.9 1322.1,416.2 1324.0,415.5 1325.9,414.8 1327.7,414.1 1329.6,413.3 1331.5,412.6 1333.3,411.9 1335.2,411.2 1337.1,410.4 1338.9,409.7 1340.8,409.0 1342.7,408.3 1344.5,407.6 1346.4,406.9 1348.3,406.1 1350.1,405.4 1352.0,404.7 1353.9,404.0 1355.7,403.3 1357.6,402.5 1359.5,401.8 1361.4,401.1 1363.2,400.4 1365.1,399.7 1367.0,398.9 1368.8,398.2 1370.7,397.5 1372.6,396.8 1374.4,396.1 1376.3,395.3 1378.2,394.6 1380.0,393.9 1381.9,393.2 1383.8,392.5 1385.6,391.7 1387.5,391.0 1389.4,390.3 1391.2,389.6 1393.1,388.9 1395.0,388.1 1396.8,387.4 1398.7,386.7 1400.6,386.0 1402.5,385.3 1404.3,384.5 1406.2,383.8 1408.1,383.1 1409.9,382.4 1411.8,381.7 1413.7,380.9 1415.5,380.2 1417.4,379.5 1419.3,378.8 1421.1,378.1 1423.0,377.4 1424.9,376.6 1426.7,375.9 1428.6,375.2 1430.5,374.5 1432.3,373.8 1434.2,373.0 1436.1,372.3 1438.0,371.6 1439.8,370.9 1441.7,370.2 1443.6,369.4 1445.4,368.7 1447.3,368.0 1449.2,367.3 1451.0,366.6 1452.9,365.9 1454.8,365.1 1456.6,364.4 1458.5,363.7 1460.4,363.0 1462.2,362.3 1464.1,361.5 1466.0,360.8 1467.8,360.1 1469.7,359.4 1471.6,358.6 1473.4,357.9 1475.3,357.2 1477.2,356.5 1479.1,355.8 1480.9,355.0 1482.8,354.3 1484.7,353.6 1486.5,352.9 1488.4,352.2 1490.3,351.4 1492.1,350.7 1494.0,350.0 1495.9,349.3 1497.7,348.5 1499.6,347.8 1501.5,347.1 1503.3,346.4 1505.2,345.6 1507.1,344.9 1508.9,344.2 1510.8,343.5 1512.7,342.7 1514.5,342.0 1516.4,341.3 1518.3,340.5 1520.1,339.8 1522.0,339.0 1524.0,338.2 1524.2,338.0 1522.4,338.6 1524.1,337.9 1525.9,337.2 1527.8,336.5 1529.6,335.7 1531.5,335.0 1533.4,334.2 1535.2,333.4 1537.1,332.6 1538.9,331.9 1540.7,331.1 1542.6,330.4 1544.4,329.7 1546.3,329.0 1548.1,328.3 1550.0,327.7 1551.8,327.1 1553.7,326.6 1555.6,326.1 1557.5,325.6 1559.3,325.2 1561.2,325.0 1563.0,324.8 1564.9,324.8 1566.8,324.8 1568.7,325.0 1570.6,325.1 1572.4,325.4 1574.2,325.9 1575.9,326.5 1577.7,327.3 1579.4,328.1 1581.2,328.9 1583.0,329.8 1584.7,330.7 1586.4,331.6 1588.2,332.6 1589.9,333.6 1591.6,334.6 1593.3,335.6 1595.1,336.6 1596.8,337.6 1598.5,338.6 1600.2,339.6 1601.9,340.6 1603.6,341.7 1605.4,342.7 1607.1,343.7 1608.8,344.8 1610.5,345.8 1612.2,346.8 1613.9,347.9 1615.6,348.9 1617.3,350.0 1619.0,351.0 1620.8,352.0 1622.5,353.1 1624.2,354.1 1625.9,355.1 1627.7,356.2 1629.4,357.2 1631.1,358.2 1632.9,359.2 1634.6,360.2 1636.3,361.2 1638.0,362.2 1639.7,363.2 1641.4,364.3 1643.1,365.3 1644.7,366.4 1646.3,367.5 1647.8,368.7 1649.3,369.9 1650.8,371.1 1652.1,372.4 1653.3,373.7 1654.4,375.1 1655.3,376.5 1655.8,378.0 1656.0,379.4 1655.7,380.9 1655.2,382.3 1654.4,383.7 1653.3,384.9 1651.9,385.9 1650.4,386.8 1648.7,387.7 1647.0,388.5 1645.2,389.3 1643.4,390.1 1641.6,390.9 1639.7,391.7 1637.9,392.4 1636.1,393.1 1634.2,393.8 1632.3,394.6 1630.5,395.3 1628.6,396.0 1626.7,396.7 1624.9,397.4 1623.0,398.1 1621.1,398.9 1619.3,399.6 1617.4,400.3 1615.5,401.0 1613.6,401.7 1611.8,402.4 1609.9,403.1 1608.0,403.8 1606.1,404.5 1604.3,405.2 1602.4,405.9 1600.5,406.6 1598.6,407.3 1596.8,408.0 1594.9,408.7 1593.0,409.4 1591.1,410.1 1589.3,410.8 1587.4,411.5 1585.5,412.2 1587.1,416.4 1589.0,415.7 1590.8,415.0 1592.7,414.3 1594.6,413.6 1596.5,412.9 1598.3,412.2 1600.2,411.5 1602.1,410.8 1604.0,410.1 1605.8,409.4 1607.7,408.7 1609.6,408.0 1611.5,407.3 1613.3,406.6 1615.2,405.9 1617.1,405.2 1619.0,404.5 1620.8,403.8 1622.7,403.0 1624.6,402.3 1626.5,401.6 1628.3,400.9 1630.2,400.2 1632.1,399.5 1633.9,398.7 1635.8,398.0 1637.7,397.3 1639.6,396.6 1641.4,395.8 1643.3,395.0 1645.2,394.2 1647.0,393.4 1648.9,392.6 1650.8,391.6 1652.6,390.7 1654.5,389.5 1656.4,388.1 1657.9,386.4 1659.2,384.3 1660.1,382.0 1660.5,379.5 1660.2,377.0 1659.4,374.7 1658.2,372.7 1656.8,370.9 1655.3,369.3 1653.8,367.8 1652.2,366.4 1650.6,365.1 1648.9,363.9 1647.2,362.7 1645.5,361.6 1643.8,360.5 1642.0,359.4 1640.3,358.4 1638.6,357.3 1636.8,356.3 1635.1,355.3 1633.4,354.3 1631.7,353.3 1629.9,352.3 1628.2,351.3 1626.5,350.3 1624.8,349.2 1623.1,348.2 1621.4,347.2 1619.7,346.1 1617.9,345.1 1616.2,344.1 1614.5,343.0 1612.8,342.0 1611.1,340.9 1609.4,339.9 1607.7,338.9 1606.0,337.8 1604.2,336.8 1602.5,335.8 1600.8,334.7 1599.1,333.7 1597.3,332.7 1595.6,331.7 1593.9,330.7 1592.1,329.7 1590.4,328.7 1588.6,327.7 1586.8,326.7 1585.0,325.8 1583.2,324.9 1581.3,324.0 1579.4,323.1 1577.5,322.3 1575.5,321.6 1573.4,321.0 1571.2,320.7 1569.1,320.5 1567.0,320.3 1564.9,320.2 1562.8,320.3 1560.7,320.5 1558.6,320.8 1556.5,321.2 1554.5,321.7 1552.5,322.2 1550.5,322.8 1548.6,323.4 1546.6,324.0 1544.7,324.7 1542.8,325.4 1540.9,326.1 1539.0,326.9 1537.2,327.6 1535.3,328.4 1533.4,329.1 1531.6,329.9 1529.7,330.7 1527.9,331.4 1526.1,332.2 1524.2,332.9 1522.3,333.7 1520.3,334.5 1522.1,333.9 1521.9,334.0 1520.2,334.7 1518.4,335.4 1516.5,336.1 1514.7,336.9 1512.8,337.6 1510.9,338.3 1509.1,339.0 1507.2,339.8 1505.3,340.5 1503.5,341.2 1501.6,341.9 1499.7,342.6 1497.9,343.3 1496.0,344.1 1494.1,344.8 1492.3,345.5 1490.4,346.2 1488.5,346.9 1486.7,347.7 1484.8,348.4 1482.9,349.1 1481.0,349.8 1479.2,350.5 1477.3,351.2 1475.4,352.0 1473.6,352.7 1471.7,353.4 1469.8,354.1 1468.0,354.8 1466.1,355.5 1464.2,356.3 1462.4,357.0 1460.5,357.7 1458.6,358.4 1456.8,359.1 1454.9,359.8 1453.0,360.6 1451.1,361.3 1449.3,362.0 1447.4,362.7 1445.5,363.4 1443.7,364.2 1441.8,364.9 1439.9,365.6 1438.1,366.3 1436.2,367.0 1434.3,367.7 1432.5,368.5 1430.6,369.2 1428.7,369.9 1426.9,370.6 1425.0,371.3 1423.1,372.1 1421.2,372.8 1419.4,373.5 1417.5,374.2 1415.6,374.9 1413.8,375.6 1411.9,376.4 1410.0,377.1 1408.2,377.8 1406.3,378.5 1404.4,379.2 1402.6,379.9 1400.7,380.7 1398.8,381.4 1396.9,382.1 1395.1,382.8 1393.2,383.5 1391.3,384.2 1389.5,385.0 1387.6,385.7 1385.7,386.4 1383.9,387.1 1382.0,387.8 1380.1,388.5 1378.3,389.3 1376.4,390.0 1374.5,390.7 1372.6,391.4 1370.8,392.1 1368.9,392.8 1367.0,393.6 1365.2,394.3 1363.3,395.0 1361.4,395.7 1359.6,396.4 1357.7,397.1 1355.8,397.9 1354.0,398.6 1352.1,399.3 1350.2,400.0 1348.3,400.7 1346.5,401.4 1344.6,402.1 1342.7,402.9 1340.9,403.6 1339.0,404.3 1337.1,405.0 1335.3,405.7 1333.4,406.4 1331.5,407.2 1329.6,407.9 1327.8,408.6 1325.9,409.3 1324.0,410.0 1322.2,410.7 1320.3,411.5 1318.4,412.2 1316.6,412.9 1314.7,413.6 1312.8,414.3 1310.9,415.0 1309.1,415.7 1307.2,416.5 1305.3,417.2 1303.5,417.9 1301.6,418.6 1299.7,419.3 1297.9,420.0 1296.0,420.8 1294.1,421.5 1292.2,422.2 1290.4,422.9 1288.5,423.6 1286.6,424.3 1284.8,425.0 1282.9,425.8 1281.0,426.5 1279.2,427.2 1277.3,427.9 1275.4,428.6 1273.6,429.3 1271.7,430.0 1269.8,430.8 1267.9,431.5 1266.1,432.2 1264.2,432.9 1262.3,433.6 1260.5,434.3 1258.6,435.1 1256.7,435.8 1254.9,436.5 1253.0,437.2 1251.1,437.9 1249.2,438.6 1247.4,439.4 1245.5,440.1 1243.6,440.8 1241.8,441.5 1239.9,442.2 1238.0,442.9 1236.2,443.6 1234.3,444.4 1232.4,445.1 1230.5,445.8 1228.7,446.5 1226.8,447.2 1224.9,447.9 1223.1,448.7 1221.2,449.4 1219.3,450.1 1217.5,450.8 1215.6,451.5 1213.7,452.2 1211.9,453.0 1210.0,453.7 1208.1,454.4 1206.2,455.1 1204.4,455.8 1202.5,456.5 1200.6,457.2 1198.8,458.0 1196.9,458.7 1195.0,459.4 1193.2,460.1 1191.3,460.8 1189.4,461.5 1187.5,462.3 1185.7,463.0 1183.8,463.7 1181.9,464.4 1180.1,465.1 1178.2,465.8 1176.3,466.6 1174.5,467.3 1172.6,468.0 1170.7,468.7 1168.9,469.4 1167.0,470.1 1165.1,470.9 1163.2,471.6 1161.4,472.3 1159.5,473.0 1157.6,473.7 1155.8,474.4 1153.9,475.2 1152.0,475.9 1150.2,476.6 1148.3,477.3 1146.4,478.0 1144.6,478.8 1142.7,479.5 1140.8,480.2 1139.0,480.9 1137.1,481.6 1135.2,482.3 1133.3,483.1 1131.5,483.8 1129.6,484.5 1127.7,485.2 1125.9,485.9 1124.0,486.7 1122.1,487.4 1120.3,488.1 1118.4,488.8 1116.5,489.5 1114.7,490.2 1112.8,491.0 1110.9,491.7 1109.1,492.4 1107.2,493.1 1105.3,493.8 1103.4,494.5 1101.6,495.3 1099.7,496.0 1097.8,496.7 1096.0,497.4 1094.1,498.1 1092.2,498.8 1090.4,499.6 1088.5,500.3 1086.6,501.0 1084.8,501.7 1082.9,502.4 1081.0,503.1 1079.1,503.9 1077.3,504.6 1075.4,505.3 1073.5,506.0 1071.7,506.7 1069.8,507.4 1067.9,508.2 1066.1,508.9 1064.2,509.6 1062.3,510.3 1060.5,511.0 1058.6,511.7 1056.7,512.5 1054.8,513.2 1053.0,513.9 1051.1,514.6 1049.2,515.3 1047.4,516.0 1045.5,516.8 1043.6,517.5 1041.8,518.2 1039.9,518.9 1038.0,519.6 1036.1,520.3 1034.3,521.0 1032.4,521.8 1030.5,522.5 1028.7,523.2 1026.8,523.9 1024.9,524.6 1023.1,525.3 1021.2,526.1 1019.3,526.8 1017.4,527.5 1015.6,528.2 1013.7,528.9 1011.8,529.6 1010.0,530.4 1008.1,531.1 1006.2,531.8 1004.4,532.5 1002.5,533.2 1000.6,533.9 998.8,534.6 996.9,535.4 995.0,536.1 993.1,536.8 991.3,537.5 989.4,538.2 987.5,538.9 985.7,539.7 983.8,540.4 981.9,541.1 980.1,541.8 978.2,542.5 976.3,543.2 974.4,543.9 972.6,544.7 970.7,545.4 968.8,546.1 967.0,546.8 965.1,547.5 963.2,548.2 961.4,549.0 959.5,549.7 957.6,550.4 955.7,551.1 953.9,551.8 952.0,552.5 950.1,553.2 948.3,554.0 946.4,554.7 944.5,555.4 942.7,556.1 940.8,556.8 938.9,557.5 937.1,558.3 935.2,559.0 933.3,559.7 931.4,560.4 929.6,561.1 927.7,561.8 925.8,562.6 924.0,563.3 922.1,564.0 920.2,564.7 918.4,565.4 916.5,566.1 914.6,566.8 912.7,567.6 910.9,568.3 909.0,569.0 907.1,569.7 905.3,570.4 903.4,571.1 901.5,571.9 899.7,572.6 897.8,573.3 895.9,574.0 894.1,574.7 892.2,575.4 890.3,576.2 888.4,576.9 886.6,577.6 884.7,578.3 882.8,579.0 881.0,579.7 879.1,580.5 877.2,581.2 875.4,581.9 873.5,582.6 871.6,583.3 869.8,584.0 867.9,584.8 866.0,585.5 864.1,586.2 862.3,586.9 860.4,587.6 858.5,588.3 856.7,589.1 854.8,589.8 852.9,590.5 851.1,591.2 849.2,591.9 847.3,592.6 845.5,593.4 843.6,594.1 841.7,594.8 839.8,595.5 838.0,596.2 836.1,597.0 834.2,597.7 832.4,598.4 830.5,599.1 828.6,599.8 826.8,600.5 824.9,601.3 823.0,602.0 821.2,602.7 819.3,603.4 817.4,604.1 815.6,604.9 813.7,605.6 811.8,606.3 809.9,607.0 808.1,607.7 806.2,608.5 804.3,609.2 802.5,609.9 800.6,610.6 798.7,611.3 796.9,612.0 795.0,612.8 793.1,613.5 791.3,614.2 789.4,614.9 787.5,615.6 785.7,616.4 783.8,617.1 781.9,617.8 780.1,618.5 778.2,619.2 776.3,620.0 774.4,620.7 772.6,621.4 770.7,622.1 768.8,622.8 767.0,623.5 765.1,624.3 763.2,625.0 761.4,625.7 759.5,626.4 757.6,627.1 755.8,627.9 753.9,628.6 752.0,629.3 750.2,630.0 748.3,630.7 746.4,631.5 744.6,632.2 742.7,632.9 740.8,633.6 738.9,634.3 737.1,635.1 735.2,635.8 733.3,636.5 731.5,637.2 729.6,637.9 727.7,638.7 725.9,639.4 724.0,640.1 722.1,640.8 720.3,641.5 718.4,642.3 716.5,643.0 714.7,643.7 712.8,644.4 710.9,645.1 709.1,645.9 707.2,646.6 705.3,647.3 703.5,648.0 701.6,648.7 699.7,649.5 697.9,650.2 696.0,650.9 694.1,651.6 692.3,652.4 690.4,653.1 688.5,653.8 686.6,654.5 684.8,655.2 682.9,656.0 681.0,656.7 679.2,657.4 677.3,658.1 675.4,658.9 673.6,659.6 671.7,660.3 669.8,661.0 668.0,661.7 666.1,662.5 664.2,663.2 662.4,663.9 660.5,664.6 658.6,665.4 656.8,666.1 654.9,666.8 653.0,667.5 651.2,668.3 649.3,669.0 647.4,669.7 645.6,670.4 643.7,671.1 641.8,671.9 640.0,672.6 638.1,673.3 636.2,674.0 634.4,674.8 632.5,675.5 630.6,676.2 628.8,676.9 626.9,677.7 625.0,678.4 623.2,679.1 621.3,679.8 619.4,680.6 617.6,681.3 615.7,682.0 613.8,682.7 612.0,683.5 610.1,684.2 608.3,684.9 606.4,685.7 604.5,686.4 602.7,687.1 600.8,687.8 598.9,688.6 597.1,689.3 595.2,690.0 593.3,690.7 591.5,691.5 589.6,692.2 587.7,692.9 585.9,693.6 584.0,694.4 582.1,695.1 580.3,695.8 578.4,696.6 576.5,697.3 574.7,698.0 572.8,698.7 570.9,699.5 569.1,700.2 567.2,700.9 565.3,701.7 563.5,702.4 561.6,703.1 559.8,703.8 557.9,704.6 556.0,705.3 554.2,706.0 552.3,706.7 550.4,707.5 548.6,708.2 546.7,708.9 544.8,709.7 543.0,710.4 541.1,711.1 539.2,711.8 537.4,712.6 535.5,713.3 533.6,714.0 531.8,714.8 529.9,715.5 528.1,716.2 526.2,716.9 524.3,717.7 522.5,718.4 520.6,719.1 518.7,719.9 516.9,720.6 515.0,721.3 513.1,722.0 511.3,722.8 509.4,723.5 507.5,724.2 505.7,724.9 503.8,725.7 501.9,726.4 500.1,727.1 498.2,727.8 496.3,728.6 494.5,729.3 492.6,730.0 490.7,730.7 488.9,731.5 487.0,732.2 485.1,732.9 483.3,733.7 481.4,734.4 479.5,735.1 477.7,735.9 475.8,736.6 474.0,737.4 472.1,738.1 470.2,738.8 468.4,739.6 466.6,740.3 464.8,741.0 462.9,741.6 461.0,742.2 459.2,742.8 457.3,743.3 455.4,743.9 453.5,744.4 451.7,744.8 449.8,745.1 448.0,745.4 446.1,745.6 444.3,745.6 442.4,745.7 440.5,745.6 438.7,745.5 436.8,745.2 435.0,744.9 433.2,744.4 431.5,743.9 429.7,743.2 428.0,742.5 426.3,741.7 424.7,740.9 423.2,739.9 421.7,738.8 420.2,737.7 418.8,736.4 417.4,735.2 416.1,733.8 414.8,732.4 413.5,731.0 412.3,729.5 411.1,728.0 409.9,726.4 408.8,724.9 407.7,723.3 406.7,721.7 405.8,720.0 404.9,718.3 404.1,716.6 403.3,714.9 402.6,713.1 402.0,711.3 401.3,709.5 400.7,707.6 400.2,705.8 399.7,703.9 399.2,702.0 398.8,700.2 398.5,698.4 398.3,696.6 398.3,694.8 398.4,693.0 398.7,691.3 399.1,689.6 399.6,687.9 400.2,686.2 401.0,684.7 401.9,683.2 403.0,681.9 404.2,680.7 405.6,679.5 407.0,678.4 408.5,677.4 410.1,676.5 411.8,675.6 413.5,674.8 415.3,674.0 417.1,673.2 418.9,672.5 420.8,671.8 422.6,671.1 424.4,670.4 426.3,669.8 428.2,669.2 430.1,668.5 432.0,667.9 433.9,667.3 435.8,666.7 437.7,666.1 439.6,665.5 441.5,664.9 443.4,664.3 445.3,663.7 447.2,663.0 449.1,662.4 451.1,661.8 453.0,661.1 454.9,660.5 456.8,659.8 458.7,659.1 460.6,658.5 462.4,657.8 464.3,657.1 466.2,656.4 468.1,655.8 470.0,655.1 471.9,654.4 473.8,653.7 475.7,653.0 477.5,652.3 479.4,651.6 481.3,650.9 483.2,650.2 485.1,649.5 486.9,648.8 488.8,648.0 490.7,647.3 492.5,646.6 494.4,645.9 496.3,645.1 498.2,644.4 500.0,643.6 501.9,642.9 503.7,642.1 505.6,641.4 507.4,640.6 509.3,639.8 511.2,639.1 513.0,638.3 514.9,637.5 516.7,636.8 518.6,636.0 520.4,635.2 522.3,634.5 524.1,633.7 526.0,632.9 527.8,632.2 529.7,631.4 531.5,630.6 533.3,629.9 535.2,629.1 537.0,628.3" fill="#666666"/><polygon points="535.8,625.2 533.9,626.0 532.1,626.8 530.2,627.5 528.4,628.3 526.5,629.1 524.7,629.8 522.8,630.6 521.0,631.4 519.1,632.1 517.3,632.9 515.4,633.7 513.6,634.4 511.7,635.2 509.9,636.0 508.0,636.7 506.2,637.5 504.3,638.2 502.5,639.0 500.6,639.7 498.8,640.5 496.9,641.2 495.0,642.0 493.2,642.7 491.3,643.4 489.5,644.2 487.6,644.9 485.7,645.6 483.9,646.3 482.0,647.0 480.1,647.7 478.2,648.4 476.4,649.1 474.5,649.8 472.6,650.5 470.7,651.2 468.8,651.9 467.0,652.5 465.1,653.2 463.2,653.9 461.3,654.6 459.4,655.2 457.5,655.9 455.6,656.6 453.8,657.2 451.9,657.9 450.0,658.5 448.1,659.1 446.2,659.8 444.3,660.4 442.4,661.0 440.5,661.6 438.5,662.2 436.6,662.8 434.7,663.4 432.8,664.0 430.9,664.6 429.0,665.2 427.1,665.9 425.2,666.5 423.3,667.2 421.4,667.8 419.5,668.5 417.6,669.2 415.8,670.0 413.9,670.8 412.1,671.6 410.2,672.5 408.4,673.4 406.7,674.4 405.0,675.5 403.3,676.8 401.8,678.1 400.3,679.6 399.0,681.2 397.9,682.9 397.0,684.8 396.3,686.7 395.7,688.6 395.2,690.6 394.9,692.7 394.7,694.7 394.8,696.8 395.0,698.8 395.4,700.8 395.8,702.8 396.2,704.8 396.8,706.7 397.3,708.6 397.9,710.6 398.6,712.5 399.3,714.4 400.0,716.3 400.8,718.1 401.7,719.9 402.6,721.7 403.7,723.5 404.7,725.2 405.8,726.9 407.0,728.5 408.2,730.2 409.5,731.8 410.8,733.3 412.1,734.8 413.5,736.3 414.9,737.7 416.4,739.1 417.9,740.5 419.5,741.7 421.2,742.9 422.9,744.0 424.7,744.9 426.5,745.8 428.4,746.6 430.3,747.3 432.3,747.9 434.2,748.4 436.2,748.8 438.3,749.1 440.3,749.2 442.3,749.3 444.4,749.2 446.4,749.2 448.4,749.0 450.4,748.7 452.4,748.3 454.4,747.9 456.3,747.4 458.3,746.8 460.2,746.2 462.1,745.6 464.0,745.0 466.0,744.4 467.8,743.7 469.7,742.9 471.6,742.2 473.4,741.5 475.3,740.7 477.2,740.0 479.0,739.2 480.9,738.5 482.7,737.8 484.6,737.0 486.5,736.3 488.3,735.6 490.2,734.8 492.1,734.1 493.9,733.4 495.8,732.7 497.7,731.9 499.5,731.2 501.4,730.5 503.2,729.8 505.1,729.0 507.0,728.3 508.8,727.6 510.7,726.9 512.6,726.1 514.4,725.4 516.3,724.7 518.2,724.0 520.0,723.2 521.9,722.5 523.8,721.8 525.6,721.0 527.5,720.3 529.4,719.6 531.2,718.9 533.1,718.1 535.0,717.4 536.8,716.7 538.7,716.0 540.6,715.2 542.4,714.5 544.3,713.8 546.2,713.0 548.0,712.3 549.9,711.6 551.7,710.9 553.6,710.1 555.5,709.4 557.3,708.7 559.2,707.9 561.1,707.2 562.9,706.5 564.8,705.8 566.7,705.0 568.5,704.3 570.4,703.6 572.3,702.9 574.1,702.1 576.0,701.4 577.9,700.7 579.7,699.9 581.6,699.2 583.5,698.5 585.3,697.8 587.2,697.0 589.0,696.3 590.9,695.6 592.8,694.9 594.6,694.1 596.5,693.4 598.4,692.7 600.2,692.0 602.1,691.2 604.0,690.5 605.8,689.8 607.7,689.0 609.6,688.3 611.4,687.6 613.3,686.9 615.2,686.1 617.0,685.4 618.9,684.7 620.8,684.0 622.6,683.2 624.5,682.5 626.4,681.8 628.2,681.1 630.1,680.3 632.0,679.6 633.8,678.9 635.7,678.2 637.6,677.5 639.4,676.7 641.3,676.0 643.2,675.3 645.0,674.6 646.9,673.8 648.8,673.1 650.6,672.4 652.5,671.7 654.4,670.9 656.2,670.2 658.1,669.5 660.0,668.8 661.8,668.0 663.7,667.3 665.6,666.6 667.4,665.9 669.3,665.2 671.2,664.4 673.0,663.7 674.9,663.0 676.8,662.3 678.6,661.6 680.5,660.8 682.4,660.1 684.2,659.4 686.1,658.7 688.0,657.9 689.8,657.2 691.7,656.5 693.6,655.8 695.4,655.1 697.3,654.3 699.2,653.6 701.0,652.9 702.9,652.2 704.8,651.5 706.6,650.7 708.5,650.0 710.4,649.3 712.3,648.6 714.1,647.9 716.0,647.1 717.9,646.4 719.7,645.7 721.6,645.0 723.5,644.3 725.3,643.5 727.2,642.8 729.1,642.1 730.9,641.4 732.8,640.7 734.7,639.9 736.5,639.2 738.4,638.5 740.3,637.8 742.1,637.1 744.0,636.3 745.9,635.6 747.7,634.9 749.6,634.2 751.5,633.5 753.4,632.7 755.2,632.0 757.1,631.3 759.0,630.6 760.8,629.9 762.7,629.2 764.6,628.4 766.4,627.7 768.3,627.0 770.2,626.3 772.0,625.6 773.9,624.8 775.8,624.1 777.6,623.4 779.5,622.7 781.4,622.0 783.2,621.2 785.1,620.5 787.0,619.8 788.9,619.1 790.7,618.4 792.6,617.6 794.5,616.9 796.3,616.2 798.2,615.5 800.1,614.8 801.9,614.1 803.8,613.3 805.7,612.6 807.5,611.9 809.4,611.2 811.3,610.5 813.1,609.7 815.0,609.0 816.9,608.3 818.7,607.6 820.6,606.9 822.5,606.2 824.4,605.4 826.2,604.7 828.1,604.0 830.0,603.3 831.8,602.6 833.7,601.8 835.6,601.1 837.4,600.4 839.3,599.7 841.2,599.0 843.0,598.3 844.9,597.5 846.8,596.8 848.6,596.1 850.5,595.4 852.4,594.7 854.3,593.9 856.1,593.2 858.0,592.5 859.9,591.8 861.7,591.1 863.6,590.4 865.5,589.6 867.3,588.9 869.2,588.2 871.1,587.5 872.9,586.8 874.8,586.0 876.7,585.3 878.5,584.6 880.4,583.9 882.3,583.2 884.2,582.4 886.0,581.7 887.9,581.0 889.8,580.3 891.6,579.6 893.5,578.9 895.4,578.1 897.2,577.4 899.1,576.7 901.0,576.0 902.8,575.3 904.7,574.5 906.6,573.8 908.4,573.1 910.3,572.4 912.2,571.7 914.1,571.0 915.9,570.2 917.8,569.5 919.7,568.8 921.5,568.1 923.4,567.4 925.3,566.6 927.1,565.9 929.0,565.2 930.9,564.5 932.7,563.8 934.6,563.1 936.5,562.3 938.3,561.6 940.2,560.9 942.1,560.2 943.9,559.5 945.8,558.7 947.7,558.0 949.6,557.3 951.4,556.6 953.3,555.9 955.2,555.2 957.0,554.4 958.9,553.7 960.8,553.0 962.6,552.3 964.5,551.6 966.4,550.8 968.2,550.1 970.1,549.4 972.0,548.7 973.8,548.0 975.7,547.3 977.6,546.5 979.5,545.8 981.3,545.1 983.2,544.4 985.1,543.7 986.9,542.9 988.8,542.2 990.7,541.5 992.5,540.8 994.4,540.1 996.3,539.3 998.1,538.6 1000.0,537.9 1001.9,537.2 1003.7,536.5 1005.6,535.8 1007.5,535.0 1009.4,534.3 1011.2,533.6 1013.1,532.9 1015.0,532.2 1016.8,531.4 1018.7,530.7 1020.6,530.0 1022.4,529.3 1024.3,528.6 1026.2,527.9 1028.0,527.1 1029.9,526.4 1031.8,525.7 1033.6,525.0 1035.5,524.3 1037.4,523.5 1039.2,522.8 1041.1,522.1 1043.0,521.4 1044.9,520.7 1046.7,520.0 1048.6,519.2 1050.5,518.5 1052.3,517.8 1054.2,517.1 1056.1,516.4 1057.9,515.6 1059.8,514.9 1061.7,514.2 1063.5,513.5 1065.4,512.8 1067.3,512.1 1069.1,511.3 1071.0,510.6 1072.9,509.9 1074.8,509.2 1076.6,508.5 1078.5,507.7 1080.4,507.0 1082.2,506.3 1084.1,505.6 1086.0,504.9 1087.8,504.1 1089.7,503.4 1091.6,502.7 1093.4,502.0 1095.3,501.3 1097.2,500.6 1099.0,499.8 1100.9,499.1 1102.8,498.4 1104.7,497.7 1106.5,497.0 1108.4,496.2 1110.3,495.5 1112.1,494.8 1114.0,494.1 1115.9,493.4 1117.7,492.7 1119.6,491.9 1121.5,491.2 1123.3,490.5 1125.2,489.8 1127.1,489.1 1128.9,488.3 1130.8,487.6 1132.7,486.9 1134.5,486.2 1136.4,485.5 1138.3,484.8 1140.2,484.0 1142.0,483.3 1143.9,482.6 1145.8,481.9 1147.6,481.2 1149.5,480.4 1151.4,479.7 1153.2,479.0 1155.1,478.3 1157.0,477.6 1158.8,476.9 1160.7,476.1 1162.6,475.4 1164.4,474.7 1166.3,474.0 1168.2,473.3 1170.1,472.6 1171.9,471.8 1173.8,471.1 1175.7,470.4 1177.5,469.7 1179.4,469.0 1181.3,468.2 1183.1,467.5 1185.0,466.8 1186.9,466.1 1188.7,465.4 1190.6,464.7 1192.5,463.9 1194.3,463.2 1196.2,462.5 1198.1,461.8 1200.0,461.1 1201.8,460.3 1203.7,459.6 1205.6,458.9 1207.4,458.2 1209.3,457.5 1211.2,456.8 1213.0,456.0 1214.9,455.3 1216.8,454.6 1218.6,453.9 1220.5,453.2 1222.4,452.4 1224.2,451.7 1226.1,451.0 1228.0,450.3 1229.9,449.6 1231.7,448.9 1233.6,448.1 1235.5,447.4 1237.3,446.7 1239.2,446.0 1241.1,445.3 1242.9,444.5 1244.8,443.8 1246.7,443.1 1248.5,442.4 1250.4,441.7 1252.3,441.0 1254.1,440.2 1256.0,439.5 1257.9,438.8 1259.8,438.1 1261.6,437.4 1263.5,436.6 1265.4,435.9 1267.2,435.2 1269.1,434.5 1271.0,433.8 1272.8,433.0 1274.7,432.3 1276.6,431.6 1278.4,430.9 1280.3,430.2 1282.2,429.5 1284.0,428.7 1285.9,428.0 1287.8,427.3 1289.7,426.6 1291.5,425.9 1293.4,425.1 1295.3,424.4 1297.1,423.7 1299.0,423.0 1300.9,422.3 1302.7,421.6 1304.6,420.8 1306.5,420.1 1308.3,419.4 1310.2,418.7 1312.1,418.0 1313.9,417.2 1315.8,416.5 1317.7,415.8 1319.6,415.1 1321.4,414.4 1323.3,413.7 1325.2,412.9 1327.0,412.2 1328.9,411.5 1330.8,410.8 1332.6,410.1 1334.5,409.3 1336.4,408.6 1338.2,407.9 1340.1,407.2 1342.0,406.5 1343.8,405.8 1345.7,405.0 1347.6,404.3 1349.4,403.6 1351.3,402.9 1353.2,402.2 1355.1,401.4 1356.9,400.7 1358.8,400.0 1360.7,399.3 1362.5,398.6 1364.4,397.9 1366.3,397.1 1368.1,396.4 1370.0,395.7 1371.9,395.0 1373.7,394.3 1375.6,393.5 1377.5,392.8 1379.3,392.1 1381.2,391.4 1383.1,390.7 1385.0,390.0 1386.8,389.2 1388.7,388.5 1390.6,387.8 1392.4,387.1 1394.3,386.4 1396.2,385.6 1398.0,384.9 1399.9,384.2 1401.8,383.5 1403.6,382.8 1405.5,382.1 1407.4,381.3 1409.2,380.6 1411.1,379.9 1413.0,379.2 1414.9,378.5 1416.7,377.7 1418.6,377.0 1420.5,376.3 1422.3,375.6 1424.2,374.9 1426.1,374.1 1427.9,373.4 1429.8,372.7 1431.7,372.0 1433.5,371.3 1435.4,370.6 1437.3,369.8 1439.1,369.1 1441.0,368.4 1442.9,367.7 1444.7,367.0 1446.6,366.2 1448.5,365.5 1450.4,364.8 1452.2,364.1 1454.1,363.4 1456.0,362.7 1457.8,361.9 1459.7,361.2 1461.6,360.5 1463.4,359.8 1465.3,359.1 1467.2,358.3 1469.0,357.6 1470.9,356.9 1472.8,356.2 1474.6,355.5 1476.5,354.7 1478.4,354.0 1480.2,353.3 1482.1,352.6 1484.0,351.9 1485.9,351.1 1487.7,350.4 1489.6,349.7 1491.5,349.0 1493.3,348.3 1495.2,347.5 1497.1,346.8 1498.9,346.1 1500.8,345.4 1502.7,344.6 1504.5,343.9 1506.4,343.2 1508.3,342.5 1510.1,341.7 1512.0,341.0 1513.9,340.3 1515.7,339.6 1517.6,338.8 1519.5,338.1 1521.3,337.4 1523.2,336.6 1523.4,336.4 1521.6,337.0 1523.4,336.3 1525.3,335.6 1527.1,334.8 1529.0,334.1 1530.8,333.3 1532.7,332.5 1534.5,331.8 1536.4,331.0 1538.2,330.2 1540.1,329.5 1541.9,328.7 1543.8,328.0 1545.7,327.3 1547.5,326.6 1549.4,326.0 1551.3,325.4 1553.2,324.9 1555.2,324.4 1557.1,323.9 1559.0,323.5 1561.0,323.2 1562.9,323.1 1564.9,323.0 1566.9,323.1 1568.9,323.2 1570.8,323.4 1572.8,323.7 1574.7,324.2 1576.5,324.9 1578.4,325.7 1580.2,326.5 1582.0,327.4 1583.7,328.2 1585.5,329.2 1587.3,330.1 1589.0,331.1 1590.8,332.1 1592.5,333.1 1594.2,334.1 1595.9,335.1 1597.7,336.1 1599.4,337.1 1601.1,338.1 1602.8,339.2 1604.5,340.2 1606.3,341.2 1608.0,342.3 1609.7,343.3 1611.4,344.3 1613.1,345.4 1614.8,346.4 1616.5,347.4 1618.2,348.5 1619.9,349.5 1621.7,350.6 1623.4,351.6 1625.1,352.6 1626.8,353.7 1628.5,354.7 1630.3,355.7 1632.0,356.7 1633.7,357.7 1635.5,358.7 1637.2,359.7 1638.9,360.7 1640.6,361.8 1642.3,362.8 1644.0,363.9 1645.7,365.0 1647.3,366.1 1648.9,367.3 1650.4,368.5 1651.9,369.8 1653.4,371.2 1654.7,372.6 1655.9,374.2 1656.8,375.8 1657.5,377.6 1657.7,379.5 1657.4,381.3 1656.7,383.1 1655.7,384.7 1654.5,386.1 1652.9,387.3 1651.2,388.3 1649.5,389.2 1647.7,390.1 1645.9,390.9 1644.1,391.7 1642.2,392.5 1640.4,393.3 1638.5,394.0 1636.7,394.7 1634.8,395.4 1632.9,396.2 1631.1,396.9 1629.2,397.6 1627.3,398.3 1625.5,399.0 1623.6,399.8 1621.7,400.5 1619.9,401.2 1618.0,401.9 1616.1,402.6 1614.2,403.3 1612.4,404.0 1610.5,404.7 1608.6,405.4 1606.7,406.1 1604.9,406.8 1603.0,407.5 1601.1,408.2 1599.2,408.9 1597.4,409.6 1595.5,410.3 1593.6,411.0 1591.7,411.7 1589.9,412.4 1588.0,413.1 1586.1,413.8 1586.5,414.8 1588.4,414.1 1590.2,413.4 1592.1,412.7 1594.0,412.0 1595.9,411.3 1597.7,410.6 1599.6,409.9 1601.5,409.2 1603.4,408.5 1605.2,407.8 1607.1,407.1 1609.0,406.4 1610.9,405.7 1612.7,405.0 1614.6,404.3 1616.5,403.6 1618.4,402.8 1620.2,402.1 1622.1,401.4 1624.0,400.7 1625.8,400.0 1627.7,399.3 1629.6,398.6 1631.4,397.8 1633.3,397.1 1635.2,396.4 1637.1,395.7 1638.9,394.9 1640.8,394.2 1642.6,393.4 1644.5,392.7 1646.3,391.8 1648.2,391.0 1650.0,390.1 1651.8,389.2 1653.5,388.1 1655.2,386.9 1656.6,385.3 1657.7,383.5 1658.4,381.6 1658.7,379.5 1658.5,377.4 1657.8,375.4 1656.7,373.6 1655.5,372.0 1654.1,370.5 1652.6,369.1 1651.1,367.8 1649.5,366.5 1647.9,365.3 1646.2,364.1 1644.6,363.0 1642.9,361.9 1641.2,360.9 1639.4,359.9 1637.7,358.8 1636.0,357.8 1634.2,356.8 1632.5,355.8 1630.8,354.8 1629.1,353.8 1627.3,352.8 1625.6,351.8 1623.9,350.7 1622.2,349.7 1620.5,348.7 1618.8,347.6 1617.1,346.6 1615.3,345.5 1613.6,344.5 1611.9,343.5 1610.2,342.4 1608.5,341.4 1606.8,340.3 1605.1,339.3 1603.3,338.3 1601.6,337.2 1599.9,336.2 1598.2,335.2 1596.5,334.2 1594.7,333.2 1593.0,332.2 1591.3,331.2 1589.5,330.2 1587.8,329.2 1586.0,328.3 1584.2,327.3 1582.4,326.4 1580.6,325.6 1578.8,324.7 1576.9,323.9 1575.0,323.3 1573.0,322.7 1571.0,322.4 1569.0,322.2 1566.9,322.1 1564.9,322.0 1562.9,322.0 1560.9,322.2 1558.9,322.5 1556.9,322.9 1554.9,323.4 1553.0,323.9 1551.0,324.4 1549.1,325.0 1547.2,325.7 1545.3,326.3 1543.4,327.0 1541.5,327.8 1539.7,328.5 1537.8,329.3 1536.0,330.0 1534.1,330.8 1532.3,331.6 1530.4,332.3 1528.6,333.1 1526.7,333.8 1524.9,334.6 1523.0,335.3 1521.1,336.1 1522.9,335.5 1522.7,335.7 1520.9,336.4 1519.1,337.1 1517.2,337.8 1515.3,338.6 1513.5,339.3 1511.6,340.0 1509.7,340.7 1507.9,341.5 1506.0,342.2 1504.1,342.9 1502.3,343.6 1500.4,344.3 1498.5,345.1 1496.7,345.8 1494.8,346.5 1492.9,347.2 1491.1,347.9 1489.2,348.7 1487.3,349.4 1485.5,350.1 1483.6,350.8 1481.7,351.5 1479.8,352.3 1478.0,353.0 1476.1,353.7 1474.2,354.4 1472.4,355.1 1470.5,355.9 1468.6,356.6 1466.8,357.3 1464.9,358.0 1463.0,358.7 1461.2,359.5 1459.3,360.2 1457.4,360.9 1455.6,361.6 1453.7,362.3 1451.8,363.0 1450.0,363.8 1448.1,364.5 1446.2,365.2 1444.3,365.9 1442.5,366.6 1440.6,367.4 1438.7,368.1 1436.9,368.8 1435.0,369.5 1433.1,370.2 1431.3,370.9 1429.4,371.7 1427.5,372.4 1425.7,373.1 1423.8,373.8 1421.9,374.5 1420.1,375.3 1418.2,376.0 1416.3,376.7 1414.4,377.4 1412.6,378.1 1410.7,378.8 1408.8,379.6 1407.0,380.3 1405.1,381.0 1403.2,381.7 1401.4,382.4 1399.5,383.2 1397.6,383.9 1395.8,384.6 1393.9,385.3 1392.0,386.0 1390.2,386.7 1388.3,387.5 1386.4,388.2 1384.5,388.9 1382.7,389.6 1380.8,390.3 1378.9,391.0 1377.1,391.8 1375.2,392.5 1373.3,393.2 1371.5,393.9 1369.6,394.6 1367.7,395.4 1365.9,396.1 1364.0,396.8 1362.1,397.5 1360.3,398.2 1358.4,398.9 1356.5,399.7 1354.6,400.4 1352.8,401.1 1350.9,401.8 1349.0,402.5 1347.2,403.2 1345.3,404.0 1343.4,404.7 1341.6,405.4 1339.7,406.1 1337.8,406.8 1336.0,407.5 1334.1,408.3 1332.2,409.0 1330.3,409.7 1328.5,410.4 1326.6,411.1 1324.7,411.9 1322.9,412.6 1321.0,413.3 1319.1,414.0 1317.3,414.7 1315.4,415.4 1313.5,416.2 1311.7,416.9 1309.8,417.6 1307.9,418.3 1306.0,419.0 1304.2,419.7 1302.3,420.5 1300.4,421.2 1298.6,421.9 1296.7,422.6 1294.8,423.3 1293.0,424.0 1291.1,424.8 1289.2,425.5 1287.4,426.2 1285.5,426.9 1283.6,427.6 1281.8,428.3 1279.9,429.1 1278.0,429.8 1276.1,430.5 1274.3,431.2 1272.4,431.9 1270.5,432.7 1268.7,433.4 1266.8,434.1 1264.9,434.8 1263.1,435.5 1261.2,436.2 1259.3,437.0 1257.5,437.7 1255.6,438.4 1253.7,439.1 1251.8,439.8 1250.0,440.5 1248.1,441.3 1246.2,442.0 1244.4,442.7 1242.5,443.4 1240.6,444.1 1238.8,444.8 1236.9,445.6 1235.0,446.3 1233.2,447.0 1231.3,447.7 1229.4,448.4 1227.5,449.1 1225.7,449.9 1223.8,450.6 1221.9,451.3 1220.1,452.0 1218.2,452.7 1216.3,453.5 1214.5,454.2 1212.6,454.9 1210.7,455.6 1208.9,456.3 1207.0,457.0 1205.1,457.8 1203.3,458.5 1201.4,459.2 1199.5,459.9 1197.6,460.6 1195.8,461.3 1193.9,462.1 1192.0,462.8 1190.2,463.5 1188.3,464.2 1186.4,464.9 1184.6,465.6 1182.7,466.4 1180.8,467.1 1179.0,467.8 1177.1,468.5 1175.2,469.2 1173.3,470.0 1171.5,470.7 1169.6,471.4 1167.7,472.1 1165.9,472.8 1164.0,473.5 1162.1,474.3 1160.3,475.0 1158.4,475.7 1156.5,476.4 1154.7,477.1 1152.8,477.8 1150.9,478.6 1149.1,479.3 1147.2,480.0 1145.3,480.7 1143.4,481.4 1141.6,482.2 1139.7,482.9 1137.8,483.6 1136.0,484.3 1134.1,485.0 1132.2,485.7 1130.4,486.5 1128.5,487.2 1126.6,487.9 1124.8,488.6 1122.9,489.3 1121.0,490.1 1119.2,490.8 1117.3,491.5 1115.4,492.2 1113.5,492.9 1111.7,493.6 1109.8,494.4 1107.9,495.1 1106.1,495.8 1104.2,496.5 1102.3,497.2 1100.5,498.0 1098.6,498.7 1096.7,499.4 1094.9,500.1 1093.0,500.8 1091.1,501.5 1089.3,502.3 1087.4,503.0 1085.5,503.7 1083.6,504.4 1081.8,505.1 1079.9,505.8 1078.0,506.6 1076.2,507.3 1074.3,508.0 1072.4,508.7 1070.6,509.4 1068.7,510.2 1066.8,510.9 1065.0,511.6 1063.1,512.3 1061.2,513.0 1059.3,513.7 1057.5,514.5 1055.6,515.2 1053.7,515.9 1051.9,516.6 1050.0,517.3 1048.1,518.0 1046.3,518.8 1044.4,519.5 1042.5,520.2 1040.7,520.9 1038.8,521.6 1036.9,522.4 1035.1,523.1 1033.2,523.8 1031.3,524.5 1029.4,525.2 1027.6,525.9 1025.7,526.7 1023.8,527.4 1022.0,528.1 1020.1,528.8 1018.2,529.5 1016.4,530.2 1014.5,531.0 1012.6,531.7 1010.8,532.4 1008.9,533.1 1007.0,533.8 1005.1,534.5 1003.3,535.3 1001.4,536.0 999.5,536.7 997.7,537.4 995.8,538.1 993.9,538.8 992.1,539.6 990.2,540.3 988.3,541.0 986.5,541.7 984.6,542.4 982.7,543.2 980.8,543.9 979.0,544.6 977.1,545.3 975.2,546.0 973.4,546.7 971.5,547.5 969.6,548.2 967.8,548.9 965.9,549.6 964.0,550.3 962.2,551.0 960.3,551.8 958.4,552.5 956.6,553.2 954.7,553.9 952.8,554.6 950.9,555.3 949.1,556.1 947.2,556.8 945.3,557.5 943.5,558.2 941.6,558.9 939.7,559.6 937.9,560.4 936.0,561.1 934.1,561.8 932.3,562.5 930.4,563.2 928.5,564.0 926.6,564.7 924.8,565.4 922.9,566.1 921.0,566.8 919.2,567.5 917.3,568.3 915.4,569.0 913.6,569.7 911.7,570.4 909.8,571.1 908.0,571.8 906.1,572.6 904.2,573.3 902.4,574.0 900.5,574.7 898.6,575.4 896.7,576.2 894.9,576.9 893.0,577.6 891.1,578.3 889.3,579.0 887.4,579.7 885.5,580.5 883.7,581.2 881.8,581.9 879.9,582.6 878.1,583.3 876.2,584.0 874.3,584.8 872.4,585.5 870.6,586.2 868.7,586.9 866.8,587.6 865.0,588.4 863.1,589.1 861.2,589.8 859.4,590.5 857.5,591.2 855.6,591.9 853.8,592.7 851.9,593.4 850.0,594.1 848.2,594.8 846.3,595.5 844.4,596.3 842.5,597.0 840.7,597.7 838.8,598.4 836.9,599.1 835.1,599.8 833.2,600.6 831.3,601.3 829.5,602.0 827.6,602.7 825.7,603.4 823.9,604.2 822.0,604.9 820.1,605.6 818.3,606.3 816.4,607.0 814.5,607.7 812.6,608.5 810.8,609.2 808.9,609.9 807.0,610.6 805.2,611.3 803.3,612.1 801.4,612.8 799.6,613.5 797.7,614.2 795.8,614.9 794.0,615.6 792.1,616.4 790.2,617.1 788.4,617.8 786.5,618.5 784.6,619.2 782.8,620.0 780.9,620.7 779.0,621.4 777.1,622.1 775.3,622.8 773.4,623.6 771.5,624.3 769.7,625.0 767.8,625.7 765.9,626.4 764.1,627.1 762.2,627.9 760.3,628.6 758.5,629.3 756.6,630.0 754.7,630.7 752.9,631.5 751.0,632.2 749.1,632.9 747.3,633.6 745.4,634.3 743.5,635.1 741.6,635.8 739.8,636.5 737.9,637.2 736.0,637.9 734.2,638.7 732.3,639.4 730.4,640.1 728.6,640.8 726.7,641.5 724.8,642.3 723.0,643.0 721.1,643.7 719.2,644.4 717.4,645.1 715.5,645.9 713.6,646.6 711.8,647.3 709.9,648.0 708.0,648.7 706.2,649.5 704.3,650.2 702.4,650.9 700.6,651.6 698.7,652.3 696.8,653.1 695.0,653.8 693.1,654.5 691.2,655.2 689.3,655.9 687.5,656.7 685.6,657.4 683.7,658.1 681.9,658.8 680.0,659.6 678.1,660.3 676.3,661.0 674.4,661.7 672.5,662.4 670.7,663.2 668.8,663.9 666.9,664.6 665.1,665.3 663.2,666.1 661.3,666.8 659.5,667.5 657.6,668.2 655.7,668.9 653.9,669.7 652.0,670.4 650.1,671.1 648.3,671.8 646.4,672.6 644.5,673.3 642.7,674.0 640.8,674.7 638.9,675.5 637.1,676.2 635.2,676.9 633.3,677.6 631.5,678.4 629.6,679.1 627.7,679.8 625.9,680.5 624.0,681.3 622.1,682.0 620.3,682.7 618.4,683.4 616.5,684.2 614.7,684.9 612.8,685.6 610.9,686.3 609.1,687.1 607.2,687.8 605.3,688.5 603.5,689.2 601.6,690.0 599.8,690.7 597.9,691.4 596.0,692.1 594.2,692.9 592.3,693.6 590.4,694.3 588.6,695.0 586.7,695.8 584.8,696.5 583.0,697.2 581.1,698.0 579.2,698.7 577.4,699.4 575.5,700.1 573.6,700.9 571.8,701.6 569.9,702.3 568.0,703.0 566.2,703.8 564.3,704.5 562.4,705.2 560.6,706.0 558.7,706.7 556.9,707.4 555.0,708.1 553.1,708.9 551.3,709.6 549.4,710.3 547.5,711.1 545.7,711.8 543.8,712.5 541.9,713.2 540.1,714.0 538.2,714.7 536.3,715.4 534.5,716.2 532.6,716.9 530.7,717.6 528.9,718.3 527.0,719.1 525.1,719.8 523.3,720.5 521.4,721.2 519.6,722.0 517.7,722.7 515.8,723.4 514.0,724.2 512.1,724.9 510.2,725.6 508.4,726.3 506.5,727.1 504.6,727.8 502.8,728.5 500.9,729.2 499.0,730.0 497.2,730.7 495.3,731.4 493.4,732.1 491.6,732.9 489.7,733.6 487.8,734.3 486.0,735.0 484.1,735.8 482.2,736.5 480.4,737.2 478.5,738.0 476.7,738.7 474.8,739.5 472.9,740.2 471.1,740.9 469.2,741.7 467.4,742.4 465.5,743.1 463.6,743.7 461.7,744.3 459.8,744.9 457.9,745.5 456.0,746.1 454.1,746.6 452.1,747.0 450.2,747.4 448.3,747.7 446.3,747.8 444.3,747.9 442.3,747.9 440.4,747.9 438.4,747.7 436.5,747.5 434.5,747.1 432.6,746.6 430.7,746.0 428.9,745.4 427.1,744.6 425.3,743.8 423.6,742.8 421.9,741.8 420.3,740.6 418.8,739.4 417.3,738.1 415.8,736.8 414.4,735.4 413.1,733.9 411.8,732.4 410.5,730.9 409.3,729.4 408.1,727.8 406.9,726.1 405.8,724.5 404.8,722.8 403.8,721.1 402.9,719.3 402.1,717.6 401.3,715.7 400.5,713.9 399.8,712.0 399.2,710.2 398.6,708.3 398.0,706.4 397.5,704.4 397.1,702.5 396.7,700.6 396.3,698.6 396.1,696.7 396.1,694.7 396.2,692.8 396.5,690.9 396.9,689.0 397.5,687.1 398.2,685.3 399.1,683.6 400.1,681.9 401.3,680.4 402.7,679.1 404.2,677.8 405.7,676.6 407.4,675.5 409.1,674.5 410.8,673.6 412.6,672.8 414.4,672.0 416.3,671.2 418.1,670.5 420.0,669.7 421.8,669.0 423.7,668.4 425.6,667.7 427.5,667.1 429.4,666.5 431.3,665.9 433.2,665.2 435.1,664.6 437.0,664.0 438.9,663.4 440.8,662.8 442.8,662.2 444.7,661.6 446.6,661.0 448.5,660.4 450.4,659.7 452.3,659.1 454.2,658.4 456.1,657.8 458.0,657.1 459.8,656.4 461.7,655.8 463.6,655.1 465.5,654.4 467.4,653.7 469.3,653.1 471.2,652.4 473.0,651.7 474.9,651.0 476.8,650.3 478.7,649.6 480.5,648.9 482.4,648.2 484.3,647.5 486.2,646.8 488.0,646.1 489.9,645.3 491.8,644.6 493.6,643.9 495.5,643.2 497.4,642.4 499.2,641.7 501.1,640.9 502.9,640.2 504.8,639.4 506.6,638.6 508.5,637.9 510.4,637.1 512.2,636.4 514.1,635.6 515.9,634.8 517.8,634.1 519.6,633.3 521.5,632.5 523.3,631.8 525.1,631.0 527.0,630.2 528.8,629.4 530.7,628.7 532.5,627.9 534.4,627.1 536.2,626.4" fill="#6d6d6d"/>
<polygon points="505.7,577.2 503.8,577.9 502.0,578.5 500.1,579.2 498.2,579.8 496.3,580.4 494.4,581.1 492.5,581.7 490.6,582.4 488.7,583.0 486.8,583.7 484.9,584.3 483.0,585.0 481.1,585.6 479.2,586.3 477.3,586.9 475.4,587.6 473.5,588.2 471.6,588.8 469.8,589.5 467.9,590.1 466.0,590.8 464.1,591.4 462.2,592.1 460.3,592.7 458.4,593.4 456.5,594.0 454.6,594.7 452.7,595.3 450.8,595.9 448.9,596.6 447.0,597.2 445.1,597.9 443.2,598.5 441.3,599.2 439.4,599.8 437.5,600.5 435.6,601.1 433.8,601.8 431.9,602.4 430.0,603.0 428.1,603.7 426.2,604.3 424.3,605.0 422.4,605.6 420.5,606.3 418.6,606.9 416.7,607.6 414.8,608.2 412.9,608.9 411.0,609.5 409.1,610.2 407.2,610.8 405.3,611.4 403.4,612.1 401.5,612.7 399.7,613.4 397.8,614.0 395.9,614.7 394.0,615.3 392.1,616.0 390.2,616.6 388.3,617.3 386.4,617.9 384.5,618.6 382.6,619.2 380.7,619.9 378.8,620.5 376.9,621.2 375.0,621.8 373.1,622.5 371.2,623.1 369.4,623.8 367.5,624.4 365.6,625.0 363.7,625.7 361.8,626.3 359.9,627.0 358.0,627.6 356.1,628.3 354.2,628.9 352.3,629.6 350.4,630.2 348.5,630.9 346.6,631.5 344.7,632.2 342.8,632.8 341.0,633.5 339.1,634.2 337.2,634.8 335.3,635.5 333.4,636.1 331.5,636.8 329.6,637.4 327.7,638.1 325.8,638.7 323.9,639.4 322.0,640.0 320.1,640.7 318.2,641.3 316.4,642.0 314.5,642.7 312.6,643.3 310.7,644.0 308.8,644.6 306.9,645.3 305.0,645.9 303.1,646.6 301.2,647.3 299.3,647.9 297.4,648.6 295.6,649.3 293.7,649.9 291.8,650.6 289.9,651.3 288.0,651.9 286.1,652.6 284.2,653.3 282.3,654.0 280.4,654.6 278.6,655.3 276.7,656.0 274.8,656.7 272.9,657.4 271.0,658.0 269.1,658.7 267.3,659.4 265.4,660.1 263.5,660.8 261.6,661.4 259.7,662.1 257.8,662.9 255.9,663.6 254.0,664.3 252.1,665.0 250.2,665.8 248.3,666.6 246.4,667.4 244.6,668.2 242.7,669.1 240.8,670.0 238.9,670.9 237.1,671.9 235.2,672.9 233.4,674.0 231.6,675.1 229.8,676.3 228.0,677.6 226.3,679.1 224.6,680.6 223.0,682.2 221.5,684.0 220.0,686.0 218.7,688.4 217.7,691.1 217.5,693.9 217.9,696.6 218.3,699.1 219.0,701.3 219.8,703.3 220.5,705.3 221.3,707.2 222.0,709.0 222.7,710.8 223.5,712.7 224.2,714.5 224.9,716.4 225.6,718.3 226.3,720.1 227.0,722.0 227.7,723.9 228.5,725.8 229.2,727.6 229.9,729.5 230.6,731.4 231.4,733.3 232.1,735.2 232.9,737.0 233.6,738.9 234.4,740.8 235.1,742.6 235.9,744.5 236.7,746.4 237.5,748.2 238.3,750.1 239.1,752.0 239.9,753.8 240.7,755.7 241.6,757.5 242.4,759.3 243.2,761.2 244.1,763.0 244.9,764.8 245.8,766.7 246.6,768.5 247.5,770.3 248.3,772.1 249.2,773.9 250.0,775.7 250.9,777.6 251.7,779.4 252.6,781.2 253.5,783.0 254.3,784.8 255.2,786.6 256.0,788.4 256.9,790.2 257.8,792.0 258.6,793.8 259.5,795.6 260.4,797.4 261.2,799.2 262.1,801.0 263.0,802.8 263.8,804.6 264.7,806.4 265.6,808.2 266.4,810.0 267.3,811.8 268.1,813.6 268.9,815.4 269.8,817.2 270.6,819.0 271.4,820.8 272.3,822.6 273.1,824.5 273.9,826.3 274.7,828.1 275.5,829.9 276.4,831.7 277.2,833.6 278.0,835.4 278.8,837.2 279.6,839.1 280.4,840.9 281.3,842.7 282.1,844.6 282.9,846.4 283.7,848.2 284.6,850.1 285.4,851.9 286.3,853.7 287.2,855.6 288.0,857.4 288.9,859.2 289.8,861.0 290.7,862.8 291.6,864.6 292.5,866.4 293.4,868.2 294.3,870.0 295.2,871.8 296.1,873.6 297.0,875.4 297.9,877.2 298.8,879.0 299.7,880.7 300.5,882.5 301.4,884.3 302.3,886.1 303.2,887.9 304.1,889.7 305.0,891.5 305.9,893.3 306.8,895.1 307.7,896.9 308.6,898.6 309.5,900.4 310.4,902.1 311.3,903.9 312.1,905.7 313.0,907.5 313.9,909.3 314.9,911.2 315.9,913.1 317.0,915.0 318.2,916.9 319.5,918.7 320.9,920.5 322.3,922.2 323.7,923.8 325.3,925.5 327.0,927.0 328.9,928.6 331.0,930.0 333.4,931.3 336.0,932.2 338.8,932.7 341.5,932.7 343.9,932.4 346.1,932.0 348.2,931.6 350.2,931.2 352.2,930.8 354.3,930.3 356.3,929.8 358.4,929.2 360.3,928.6 362.3,928.0 364.2,927.4 366.1,926.8 368.0,926.2 369.9,925.6 371.9,924.9 373.8,924.3 375.7,923.7 377.6,923.1 379.5,922.5 376.5,913.1 374.6,913.7 372.7,914.3 370.8,914.9 368.9,915.5 367.0,916.1 365.1,916.7 363.2,917.2 361.3,917.8 359.3,918.3 357.4,918.9 355.6,919.4 353.8,919.9 352.0,920.3 350.1,920.7 348.2,921.0 346.2,921.4 344.4,921.8 342.7,922.1 341.1,922.3 339.8,922.3 338.6,922.1 337.5,921.7 336.4,921.0 335.2,920.1 334.0,919.1 332.9,917.9 331.7,916.6 330.6,915.2 329.5,913.8 328.4,912.4 327.5,910.9 326.6,909.4 325.7,907.8 324.9,906.1 324.1,904.4 323.3,902.6 322.5,900.8 321.6,899.0 320.8,897.1 319.9,895.3 319.0,893.4 318.1,891.6 317.2,889.9 316.3,888.1 315.4,886.3 314.5,884.5 313.6,882.7 312.7,880.9 311.8,879.1 310.9,877.4 310.0,875.6 309.1,873.8 308.2,872.0 307.3,870.2 306.3,868.4 305.4,866.6 304.5,864.8 303.6,863.1 302.7,861.3 301.8,859.5 300.9,857.7 300.0,856.0 299.1,854.2 298.3,852.4 297.4,850.6 296.5,848.9 295.7,847.1 294.8,845.3 294.0,843.5 293.1,841.7 292.3,839.9 291.5,838.1 290.6,836.3 289.8,834.5 289.0,832.6 288.2,830.8 287.3,829.0 286.5,827.2 285.7,825.3 284.8,823.5 284.0,821.7 283.2,819.9 282.3,818.0 281.5,816.2 280.6,814.4 279.8,812.6 278.9,810.7 278.1,808.9 277.2,807.1 276.4,805.3 275.5,803.5 274.6,801.6 273.7,799.8 272.9,798.0 272.0,796.2 271.1,794.4 270.2,792.6 269.3,790.8 268.4,789.0 267.6,787.2 266.7,785.4 265.8,783.7 264.9,781.9 264.0,780.1 263.1,778.3 262.2,776.5 261.3,774.7 260.4,772.9 259.5,771.1 258.6,769.3 257.8,767.6 256.9,765.8 256.0,764.0 255.1,762.2 254.2,760.4 253.3,758.6 252.5,756.8 251.6,755.0 250.7,753.2 249.9,751.4 249.1,749.7 248.2,747.9 247.4,746.1 246.6,744.3 245.8,742.5 245.0,740.6 244.2,738.8 243.4,737.0 242.6,735.2 241.9,733.4 241.1,731.5 240.4,729.7 239.6,727.8 238.9,726.0 238.1,724.1 237.4,722.3 236.7,720.4 236.0,718.6 235.3,716.7 234.5,714.8 233.8,713.0 233.1,711.1 232.4,709.2 231.6,707.3 230.8,705.5 230.1,703.6 229.3,701.8 228.6,700.0 227.9,698.3 227.4,696.7 227.1,695.2 226.8,694.0 226.8,692.8 227.2,691.8 227.8,690.7 228.7,689.5 229.8,688.2 230.9,687.0 232.2,685.8 233.6,684.6 235.0,683.5 236.5,682.5 238.1,681.4 239.6,680.4 241.3,679.5 242.9,678.6 244.6,677.7 246.4,676.8 248.1,676.0 249.9,675.2 251.7,674.4 253.5,673.6 255.3,672.9 257.1,672.1 258.9,671.4 260.8,670.7 262.6,670.0 264.5,669.3 266.4,668.6 268.2,668.0 270.1,667.3 272.0,666.6 273.9,665.9 275.8,665.3 277.6,664.6 279.5,663.9 281.4,663.2 283.3,662.5 285.2,661.9 287.0,661.2 288.9,660.5 290.8,659.8 292.7,659.2 294.6,658.5 296.5,657.8 298.3,657.1 300.2,656.5 302.1,655.8 304.0,655.2 305.9,654.5 307.8,653.8 309.7,653.2 311.5,652.5 313.4,651.8 315.3,651.2 317.2,650.5 319.1,649.9 321.0,649.2 322.9,648.5 324.8,647.9 326.6,647.2 328.5,646.6 330.4,645.9 332.3,645.2 334.2,644.6 336.1,643.9 338.0,643.3 339.9,642.6 341.8,642.0 343.7,641.3 345.5,640.6 347.4,640.0 349.3,639.3 351.2,638.7 353.1,638.0 355.0,637.4 356.9,636.7 358.8,636.0 360.7,635.4 362.6,634.7 364.4,634.1 366.3,633.4 368.2,632.8 370.1,632.1 372.0,631.5 373.9,630.8 375.8,630.1 377.7,629.5 379.6,628.8 381.5,628.2 383.4,627.5 385.2,626.9 387.1,626.2 389.0,625.6 390.9,624.9 392.8,624.3 394.7,623.6 396.6,623.0 398.5,622.3 400.4,621.6 402.3,621.0 404.2,620.3 406.0,619.7 407.9,619.0 409.8,618.4 411.7,617.7 413.6,617.1 415.5,616.4 417.4,615.8 419.3,615.1 421.2,614.5 423.1,613.8 425.0,613.2 426.9,612.5 428.8,611.9 430.6,611.2 432.5,610.6 434.4,609.9 436.3,609.3 438.2,608.6 440.1,608.0 442.0,607.3 443.9,606.7 445.8,606.0 447.7,605.4 449.6,604.7 451.5,604.1 453.4,603.4 455.2,602.8 457.1,602.1 459.0,601.5 460.9,600.8 462.8,600.2 464.7,599.5 466.6,598.9 468.5,598.2 470.4,597.6 472.3,596.9 474.2,596.3 476.1,595.6 478.0,595.0 479.9,594.3 481.8,593.7 483.6,593.0 485.5,592.4 487.4,591.7 489.3,591.1 491.2,590.4 493.1,589.8 495.0,589.1 496.9,588.5 498.8,587.8 500.7,587.2 502.6,586.5 504.5,585.9 506.4,585.2 508.3,584.6" fill="#5c5c5c"/><polygon points="506.1,578.3 504.2,579.0 502.3,579.6 500.4,580.3 498.5,580.9 496.6,581.6 494.8,582.2 492.9,582.8 491.0,583.5 489.1,584.1 487.2,584.8 485.3,585.4 483.4,586.1 481.5,586.7 479.6,587.4 477.7,588.0 475.8,588.7 473.9,589.3 472.0,590.0 470.1,590.6 468.2,591.3 466.3,591.9 464.4,592.5 462.6,593.2 460.7,593.8 458.8,594.5 456.9,595.1 455.0,595.8 453.1,596.4 451.2,597.1 449.3,597.7 447.4,598.4 445.5,599.0 443.6,599.6 441.7,600.3 439.8,600.9 437.9,601.6 436.0,602.2 434.1,602.9 432.2,603.5 430.4,604.2 428.5,604.8 426.6,605.5 424.7,606.1 422.8,606.8 420.9,607.4 419.0,608.1 417.1,608.7 415.2,609.3 413.3,610.0 411.4,610.6 409.5,611.3 407.6,611.9 405.7,612.6 403.8,613.2 401.9,613.9 400.0,614.5 398.2,615.2 396.3,615.8 394.4,616.5 392.5,617.1 390.6,617.8 388.7,618.4 386.8,619.1 384.9,619.7 383.0,620.4 381.1,621.0 379.2,621.7 377.3,622.3 375.4,623.0 373.5,623.6 371.6,624.3 369.8,624.9 367.9,625.6 366.0,626.2 364.1,626.9 362.2,627.5 360.3,628.2 358.4,628.8 356.5,629.5 354.6,630.1 352.7,630.8 350.8,631.4 348.9,632.1 347.0,632.7 345.1,633.4 343.3,634.0 341.4,634.7 339.5,635.3 337.6,636.0 335.7,636.6 333.8,637.3 331.9,637.9 330.0,638.6 328.1,639.2 326.2,639.9 324.3,640.6 322.4,641.2 320.5,641.9 318.7,642.5 316.8,643.2 314.9,643.8 313.0,644.5 311.1,645.1 309.2,645.8 307.3,646.5 305.4,647.1 303.5,647.8 301.6,648.4 299.7,649.1 297.9,649.8 296.0,650.4 294.1,651.1 292.2,651.8 290.3,652.4 288.4,653.1 286.5,653.8 284.6,654.5 282.8,655.1 280.9,655.8 279.0,656.5 277.1,657.2 275.2,657.9 273.3,658.5 271.5,659.2 269.6,659.9 267.7,660.6 265.8,661.3 263.9,661.9 262.0,662.6 260.1,663.3 258.3,664.0 256.4,664.7 254.5,665.5 252.6,666.2 250.7,667.0 248.8,667.8 247.0,668.6 245.1,669.4 243.2,670.2 241.4,671.1 239.5,672.1 237.7,673.0 235.9,674.0 234.1,675.1 232.3,676.2 230.6,677.4 228.9,678.7 227.2,680.1 225.6,681.5 224.0,683.1 222.6,684.8 221.2,686.7 219.9,688.9 219.1,691.3 218.9,693.9 219.2,696.4 219.7,698.7 220.3,700.8 221.1,702.8 221.9,704.8 222.6,706.6 223.3,708.5 224.1,710.3 224.8,712.2 225.5,714.0 226.2,715.9 226.9,717.8 227.6,719.6 228.4,721.5 229.1,723.4 229.8,725.2 230.5,727.1 231.3,729.0 232.0,730.9 232.7,732.7 233.5,734.6 234.2,736.5 235.0,738.3 235.7,740.2 236.5,742.1 237.3,743.9 238.1,745.8 238.9,747.6 239.7,749.5 240.5,751.3 241.3,753.2 242.1,755.0 242.9,756.9 243.8,758.7 244.6,760.5 245.5,762.3 246.3,764.2 247.2,766.0 248.0,767.8 248.9,769.6 249.7,771.4 250.6,773.2 251.4,775.1 252.3,776.9 253.2,778.7 254.0,780.5 254.9,782.3 255.8,784.1 256.6,785.9 257.5,787.7 258.4,789.5 259.2,791.3 260.1,793.1 261.0,794.9 261.8,796.7 262.7,798.5 263.6,800.3 264.5,802.1 265.3,803.9 266.2,805.7 267.0,807.5 267.9,809.3 268.8,811.1 269.6,812.9 270.4,814.7 271.3,816.5 272.1,818.3 273.0,820.1 273.8,822.0 274.6,823.8 275.4,825.6 276.2,827.4 277.1,829.2 277.9,831.1 278.7,832.9 279.5,834.7 280.3,836.5 281.1,838.4 282.0,840.2 282.8,842.0 283.6,843.9 284.4,845.7 285.3,847.5 286.1,849.4 287.0,851.2 287.8,853.0 288.7,854.8 289.6,856.6 290.5,858.5 291.3,860.3 292.2,862.1 293.1,863.9 294.0,865.7 294.9,867.5 295.8,869.3 296.7,871.0 297.6,872.8 298.5,874.6 299.4,876.4 300.3,878.2 301.2,880.0 302.1,881.8 303.0,883.5 303.9,885.3 304.8,887.1 305.7,888.9 306.6,890.7 307.5,892.5 308.4,894.3 309.3,896.1 310.2,897.9 311.1,899.6 312.0,901.4 312.8,903.2 313.7,905.0 314.6,906.8 315.5,908.6 316.4,910.4 317.4,912.3 318.4,914.1 319.6,916.0 320.8,917.8 322.1,919.5 323.5,921.1 324.9,922.7 326.4,924.3 328.1,925.9 329.8,927.3 331.8,928.7 334.0,929.8 336.4,930.7 338.9,931.1 341.4,931.1 343.7,930.9 345.9,930.5 347.9,930.1 349.9,929.7 351.9,929.3 353.9,928.8 355.9,928.3 357.9,927.7 359.9,927.1 361.8,926.5 363.7,925.9 365.7,925.3 367.6,924.8 369.5,924.1 371.4,923.5 373.3,922.9 375.2,922.3 377.1,921.7 379.0,921.1 377.0,914.5 375.0,915.1 373.1,915.7 371.2,916.3 369.3,916.9 367.4,917.5 365.5,918.1 363.6,918.7 361.7,919.2 359.8,919.8 357.9,920.3 356.0,920.9 354.1,921.4 352.3,921.8 350.4,922.2 348.5,922.6 346.5,922.9 344.6,923.3 342.8,923.7 341.2,923.8 339.7,923.8 338.2,923.6 336.9,923.1 335.6,922.4 334.3,921.4 333.0,920.3 331.7,919.0 330.5,917.7 329.3,916.3 328.2,914.8 327.1,913.3 326.1,911.8 325.1,910.2 324.3,908.6 323.4,906.9 322.6,905.1 321.7,903.3 320.9,901.5 320.1,899.7 319.2,897.9 318.3,896.0 317.4,894.2 316.5,892.4 315.6,890.6 314.7,888.9 313.8,887.1 312.9,885.3 312.0,883.5 311.1,881.7 310.2,879.9 309.3,878.1 308.4,876.3 307.5,874.5 306.6,872.8 305.7,871.0 304.8,869.2 303.9,867.4 303.0,865.6 302.1,863.8 301.2,862.1 300.3,860.3 299.4,858.5 298.5,856.7 297.6,854.9 296.7,853.2 295.9,851.4 295.0,849.6 294.1,847.8 293.3,846.0 292.4,844.2 291.6,842.4 290.8,840.6 289.9,838.8 289.1,837.0 288.3,835.1 287.5,833.3 286.6,831.5 285.8,829.7 285.0,827.9 284.2,826.0 283.3,824.2 282.5,822.4 281.7,820.6 280.8,818.7 280.0,816.9 279.1,815.1 278.3,813.3 277.4,811.4 276.6,809.6 275.7,807.8 274.9,806.0 274.0,804.2 273.1,802.4 272.3,800.6 271.4,798.7 270.5,796.9 269.6,795.1 268.7,793.3 267.9,791.5 267.0,789.8 266.1,788.0 265.2,786.2 264.3,784.4 263.4,782.6 262.5,780.8 261.7,779.0 260.8,777.2 259.9,775.4 259.0,773.6 258.1,771.8 257.2,770.0 256.3,768.2 255.5,766.4 254.6,764.7 253.7,762.9 252.8,761.1 252.0,759.3 251.1,757.5 250.2,755.7 249.4,753.9 248.5,752.1 247.7,750.3 246.9,748.5 246.0,746.7 245.2,744.9 244.4,743.0 243.6,741.2 242.8,739.4 242.0,737.6 241.3,735.7 240.5,733.9 239.8,732.1 239.0,730.2 238.3,728.4 237.5,726.5 236.8,724.7 236.1,722.8 235.4,721.0 234.6,719.1 233.9,717.2 233.2,715.4 232.5,713.5 231.8,711.6 231.0,709.7 230.3,707.9 229.5,706.0 228.8,704.1 228.0,702.3 227.3,700.5 226.6,698.8 226.0,697.1 225.7,695.4 225.4,694.0 225.4,692.6 225.9,691.3 226.6,690.0 227.6,688.7 228.8,687.3 230.0,686.0 231.3,684.8 232.7,683.6 234.2,682.4 235.8,681.4 237.4,680.3 239.0,679.3 240.6,678.4 242.3,677.4 244.1,676.5 245.8,675.7 247.6,674.8 249.4,674.0 251.2,673.2 253.0,672.5 254.8,671.7 256.6,671.0 258.5,670.2 260.3,669.5 262.2,668.8 264.1,668.1 265.9,667.5 267.8,666.8 269.7,666.1 271.6,665.4 273.4,664.7 275.3,664.1 277.2,663.4 279.1,662.7 281.0,662.0 282.9,661.4 284.7,660.7 286.6,660.0 288.5,659.3 290.4,658.6 292.3,658.0 294.2,657.3 296.0,656.6 297.9,656.0 299.8,655.3 301.7,654.6 303.6,654.0 305.5,653.3 307.4,652.6 309.2,652.0 311.1,651.3 313.0,650.7 314.9,650.0 316.8,649.3 318.7,648.7 320.6,648.0 322.5,647.4 324.3,646.7 326.2,646.0 328.1,645.4 330.0,644.7 331.9,644.1 333.8,643.4 335.7,642.8 337.6,642.1 339.5,641.4 341.4,640.8 343.2,640.1 345.1,639.5 347.0,638.8 348.9,638.2 350.8,637.5 352.7,636.9 354.6,636.2 356.5,635.5 358.4,634.9 360.3,634.2 362.2,633.6 364.0,632.9 365.9,632.3 367.8,631.6 369.7,631.0 371.6,630.3 373.5,629.6 375.4,629.0 377.3,628.3 379.2,627.7 381.1,627.0 383.0,626.4 384.8,625.7 386.7,625.1 388.6,624.4 390.5,623.8 392.4,623.1 394.3,622.5 396.2,621.8 398.1,621.2 400.0,620.5 401.9,619.8 403.8,619.2 405.7,618.5 407.6,617.9 409.4,617.2 411.3,616.6 413.2,615.9 415.1,615.3 417.0,614.6 418.9,614.0 420.8,613.3 422.7,612.7 424.6,612.0 426.5,611.4 428.4,610.7 430.3,610.1 432.2,609.4 434.0,608.8 435.9,608.1 437.8,607.5 439.7,606.8 441.6,606.2 443.5,605.5 445.4,604.9 447.3,604.2 449.2,603.6 451.1,602.9 453.0,602.3 454.9,601.6 456.8,601.0 458.7,600.3 460.5,599.7 462.4,599.0 464.3,598.4 466.2,597.7 468.1,597.1 470.0,596.4 471.9,595.8 473.8,595.1 475.7,594.5 477.6,593.8 479.5,593.2 481.4,592.6 483.3,591.9 485.2,591.3 487.1,590.6 488.9,590.0 490.8,589.3 492.7,588.7 494.6,588.0 496.5,587.4 498.4,586.7 500.3,586.1 502.2,585.4 504.1,584.8 506.0,584.1 507.9,583.5" fill="#666666"/><polygon points="506.8,580.3 504.9,581.0 503.0,581.6 501.1,582.3 499.2,582.9 497.3,583.5 495.4,584.2 493.5,584.8 491.6,585.5 489.8,586.1 487.9,586.8 486.0,587.4 484.1,588.1 482.2,588.7 480.3,589.4 478.4,590.0 476.5,590.7 474.6,591.3 472.7,592.0 470.8,592.6 468.9,593.3 467.0,593.9 465.1,594.5 463.2,595.2 461.3,595.8 459.5,596.5 457.6,597.1 455.7,597.8 453.8,598.4 451.9,599.1 450.0,599.7 448.1,600.4 446.2,601.0 444.3,601.7 442.4,602.3 440.5,603.0 438.6,603.6 436.7,604.3 434.8,604.9 432.9,605.6 431.0,606.2 429.2,606.8 427.3,607.5 425.4,608.1 423.5,608.8 421.6,609.4 419.7,610.1 417.8,610.7 415.9,611.4 414.0,612.0 412.1,612.7 410.2,613.3 408.3,614.0 406.4,614.6 404.5,615.3 402.6,615.9 400.8,616.6 398.9,617.2 397.0,617.9 395.1,618.5 393.2,619.2 391.3,619.8 389.4,620.5 387.5,621.1 385.6,621.8 383.7,622.4 381.8,623.1 379.9,623.7 378.0,624.4 376.1,625.0 374.3,625.7 372.4,626.3 370.5,627.0 368.6,627.6 366.7,628.3 364.8,628.9 362.9,629.6 361.0,630.2 359.1,630.9 357.2,631.6 355.3,632.2 353.4,632.9 351.5,633.5 349.7,634.2 347.8,634.8 345.9,635.5 344.0,636.1 342.1,636.8 340.2,637.4 338.3,638.1 336.4,638.7 334.5,639.4 332.6,640.0 330.7,640.7 328.8,641.4 327.0,642.0 325.1,642.7 323.2,643.3 321.3,644.0 319.4,644.6 317.5,645.3 315.6,646.0 313.7,646.6 311.8,647.3 309.9,647.9 308.1,648.6 306.2,649.3 304.3,649.9 302.4,650.6 300.5,651.2 298.6,651.9 296.7,652.6 294.8,653.2 292.9,653.9 291.1,654.6 289.2,655.3 287.3,655.9 285.4,656.6 283.5,657.3 281.6,658.0 279.8,658.6 277.9,659.3 276.0,660.0 274.1,660.7 272.2,661.3 270.3,662.0 268.5,662.7 266.6,663.4 264.7,664.1 262.8,664.8 260.9,665.5 259.1,666.2 257.2,666.9 255.3,667.6 253.4,668.3 251.6,669.1 249.7,669.9 247.9,670.7 246.1,671.5 244.2,672.3 242.4,673.2 240.6,674.1 238.8,675.1 237.1,676.1 235.4,677.1 233.6,678.2 232.0,679.4 230.4,680.6 228.8,681.9 227.3,683.3 225.9,684.7 224.5,686.3 223.3,688.0 222.2,689.8 221.5,691.8 221.4,693.9 221.7,696.0 222.1,698.1 222.7,700.0 223.5,701.9 224.2,703.8 225.0,705.7 225.7,707.5 226.5,709.4 227.2,711.2 227.9,713.1 228.6,715.0 229.4,716.8 230.1,718.7 230.8,720.6 231.5,722.4 232.2,724.3 232.9,726.2 233.7,728.0 234.4,729.9 235.1,731.8 235.9,733.6 236.6,735.5 237.4,737.3 238.2,739.2 238.9,741.0 239.7,742.9 240.5,744.7 241.3,746.6 242.1,748.4 242.9,750.2 243.8,752.1 244.6,753.9 245.4,755.7 246.3,757.5 247.1,759.3 248.0,761.2 248.8,763.0 249.7,764.8 250.5,766.6 251.4,768.4 252.3,770.2 253.1,772.0 254.0,773.8 254.9,775.6 255.8,777.4 256.6,779.2 257.5,781.0 258.4,782.8 259.3,784.6 260.1,786.4 261.0,788.2 261.9,790.0 262.8,791.8 263.6,793.6 264.5,795.4 265.4,797.2 266.3,799.0 267.1,800.8 268.0,802.6 268.9,804.4 269.7,806.2 270.6,808.0 271.4,809.8 272.3,811.6 273.1,813.4 274.0,815.3 274.8,817.1 275.7,818.9 276.5,820.7 277.3,822.5 278.2,824.3 279.0,826.2 279.8,828.0 280.6,829.8 281.4,831.6 282.3,833.5 283.1,835.3 283.9,837.1 284.7,838.9 285.5,840.8 286.4,842.6 287.2,844.4 288.0,846.2 288.9,848.1 289.7,849.9 290.6,851.7 291.5,853.5 292.3,855.3 293.2,857.1 294.1,858.9 295.0,860.7 295.9,862.5 296.8,864.3 297.7,866.1 298.6,867.9 299.5,869.6 300.4,871.4 301.3,873.2 302.2,875.0 303.1,876.8 304.0,878.6 304.9,880.4 305.8,882.1 306.7,883.9 307.6,885.7 308.5,887.5 309.4,889.3 310.3,891.1 311.2,892.9 312.1,894.7 313.0,896.5 313.9,898.2 314.8,900.0 315.6,901.8 316.5,903.6 317.3,905.4 318.2,907.3 319.1,909.1 320.0,910.9 321.0,912.6 322.1,914.4 323.2,916.0 324.5,917.7 325.7,919.3 327.1,920.8 328.5,922.3 330.0,923.7 331.5,925.0 333.3,926.2 335.1,927.2 337.1,928.0 339.2,928.3 341.3,928.3 343.4,928.1 345.4,927.7 347.4,927.3 349.3,926.9 351.3,926.6 353.3,926.1 355.2,925.6 357.2,925.1 359.1,924.5 361.0,923.9 363.0,923.3 364.9,922.8 366.8,922.2 368.7,921.6 370.6,921.0 372.5,920.4 374.4,919.8 376.3,919.2 378.2,918.5 377.8,917.1 375.9,917.7 373.9,918.3 372.0,918.9 370.1,919.5 368.2,920.1 366.3,920.7 364.4,921.2 362.5,921.8 360.6,922.4 358.7,923.0 356.8,923.5 354.8,924.1 352.9,924.5 351.0,924.9 349.0,925.3 347.1,925.7 345.1,926.1 343.2,926.4 341.3,926.6 339.4,926.6 337.5,926.4 335.8,925.7 334.1,924.8 332.6,923.7 331.1,922.4 329.7,921.1 328.4,919.7 327.1,918.2 325.9,916.6 324.7,915.0 323.6,913.4 322.6,911.7 321.6,910.0 320.7,908.2 319.8,906.5 319.0,904.7 318.1,902.9 317.3,901.0 316.4,899.2 315.5,897.4 314.6,895.6 313.7,893.8 312.8,892.1 311.9,890.3 311.0,888.5 310.1,886.7 309.2,884.9 308.3,883.1 307.4,881.3 306.5,879.5 305.7,877.7 304.8,875.9 303.8,874.2 302.9,872.4 302.0,870.6 301.1,868.8 300.2,867.0 299.3,865.2 298.4,863.5 297.5,861.7 296.6,859.9 295.7,858.1 294.8,856.3 294.0,854.5 293.1,852.7 292.2,850.9 291.4,849.1 290.5,847.3 289.7,845.5 288.8,843.7 288.0,841.9 287.2,840.0 286.4,838.2 285.5,836.4 284.7,834.6 283.9,832.7 283.1,830.9 282.2,829.1 281.4,827.3 280.6,825.4 279.8,823.6 278.9,821.8 278.1,820.0 277.3,818.2 276.4,816.3 275.6,814.5 274.7,812.7 273.9,810.9 273.0,809.1 272.2,807.3 271.3,805.5 270.5,803.6 269.6,801.8 268.7,800.0 267.8,798.2 267.0,796.4 266.1,794.6 265.2,792.8 264.3,791.0 263.4,789.2 262.6,787.4 261.7,785.6 260.8,783.9 259.9,782.1 259.0,780.3 258.2,778.5 257.3,776.7 256.4,774.9 255.5,773.1 254.7,771.3 253.8,769.5 252.9,767.7 252.0,765.9 251.2,764.1 250.3,762.3 249.4,760.5 248.6,758.6 247.7,756.8 246.9,755.0 246.1,753.2 245.2,751.4 244.4,749.6 243.6,747.8 242.8,745.9 242.0,744.1 241.2,742.3 240.4,740.4 239.6,738.6 238.8,736.7 238.1,734.9 237.3,733.0 236.6,731.2 235.8,729.3 235.1,727.5 234.4,725.6 233.7,723.8 232.9,721.9 232.2,720.0 231.5,718.2 230.8,716.3 230.1,714.4 229.3,712.5 228.6,710.7 227.9,708.8 227.1,706.9 226.4,705.1 225.6,703.2 224.9,701.4 224.2,699.6 223.6,697.7 223.2,695.8 222.9,694.0 223.0,692.1 223.6,690.4 224.5,688.7 225.7,687.2 226.9,685.7 228.3,684.3 229.7,683.0 231.2,681.7 232.8,680.5 234.4,679.4 236.1,678.3 237.8,677.3 239.5,676.3 241.3,675.4 243.0,674.5 244.8,673.6 246.6,672.7 248.4,671.9 250.3,671.1 252.1,670.3 254.0,669.6 255.8,668.9 257.7,668.1 259.5,667.4 261.4,666.7 263.3,666.0 265.2,665.3 267.0,664.6 268.9,664.0 270.8,663.3 272.7,662.6 274.6,661.9 276.4,661.3 278.3,660.6 280.2,659.9 282.1,659.2 284.0,658.5 285.9,657.9 287.7,657.2 289.6,656.5 291.5,655.8 293.4,655.2 295.3,654.5 297.2,653.8 299.1,653.2 300.9,652.5 302.8,651.8 304.7,651.2 306.6,650.5 308.5,649.9 310.4,649.2 312.3,648.5 314.2,647.9 316.1,647.2 317.9,646.6 319.8,645.9 321.7,645.2 323.6,644.6 325.5,643.9 327.4,643.3 329.3,642.6 331.2,642.0 333.1,641.3 335.0,640.6 336.8,640.0 338.7,639.3 340.6,638.7 342.5,638.0 344.4,637.4 346.3,636.7 348.2,636.1 350.1,635.4 352.0,634.8 353.9,634.1 355.8,633.4 357.7,632.8 359.5,632.1 361.4,631.5 363.3,630.8 365.2,630.2 367.1,629.5 369.0,628.9 370.9,628.2 372.8,627.6 374.7,626.9 376.6,626.3 378.5,625.6 380.4,625.0 382.2,624.3 384.1,623.7 386.0,623.0 387.9,622.4 389.8,621.7 391.7,621.1 393.6,620.4 395.5,619.7 397.4,619.1 399.3,618.4 401.2,617.8 403.1,617.1 405.0,616.5 406.8,615.8 408.7,615.2 410.6,614.5 412.5,613.9 414.4,613.2 416.3,612.6 418.2,611.9 420.1,611.3 422.0,610.6 423.9,610.0 425.8,609.3 427.7,608.7 429.6,608.1 431.5,607.4 433.4,606.8 435.2,606.1 437.1,605.5 439.0,604.8 440.9,604.2 442.8,603.5 444.7,602.9 446.6,602.2 448.5,601.6 450.4,600.9 452.3,600.3 454.2,599.6 456.1,599.0 458.0,598.3 459.9,597.7 461.8,597.0 463.6,596.4 465.5,595.7 467.4,595.1 469.3,594.4 471.2,593.8 473.1,593.1 475.0,592.5 476.9,591.8 478.8,591.2 480.7,590.6 482.6,589.9 484.5,589.3 486.4,588.6 488.3,588.0 490.2,587.3 492.1,586.7 493.9,586.0 495.8,585.4 497.7,584.7 499.6,584.1 501.5,583.4 503.4,582.8 505.3,582.1 507.2,581.5" fill="#6d6d6d"/>
<defs><linearGradient id="slv" x1="0" y1="0" x2="0.35" y2="1"><stop offset="0" stop-color="#e4e4e4"/><stop offset="0.6" stop-color="#d8d8d8"/><stop offset="1" stop-color="#c6c6c6"/></linearGradient></defs>
<polygon points="376.2,910.4 414.2,895.4 417.9,905.8 380.4,922.9" fill="url(#slv)" stroke="#c8c8c8" stroke-width="0.6"/>
<defs><linearGradient id="s5g" gradientUnits="userSpaceOnUse" x1="420" y1="0" x2="1560" y2="0"><stop offset="0" stop-color="#cdcdcd"/><stop offset="0.55" stop-color="#c4c4c4"/><stop offset="1" stop-color="#b2b2b2"/></linearGradient></defs>
<polygon points="417.5,904.2 418.4,903.8 419.4,903.4 420.5,903.0 421.6,902.5 422.7,902.0 423.9,901.5 425.2,901.0 426.5,900.5 427.8,900.0 429.2,899.4 430.6,898.8 432.0,898.2 433.5,897.6 435.1,897.0 436.6,896.3 438.2,895.7 439.9,895.0 441.5,894.3 443.3,893.6 445.0,892.9 446.8,892.1 448.6,891.4 450.4,890.7 452.2,889.9 454.1,889.1 456.0,888.3 457.9,887.5 459.9,886.7 461.9,885.9 463.8,885.1 465.8,884.3 467.9,883.5 469.9,882.6 472.0,881.8 474.1,880.9 476.1,880.0 478.3,879.2 480.4,878.3 482.5,877.4 484.6,876.6 486.8,875.7 488.9,874.8 491.1,873.9 493.2,873.0 495.4,872.1 497.6,871.2 499.7,870.3 501.9,869.4 504.1,868.5 506.2,867.6 508.4,866.7 510.6,865.9 512.7,865.0 514.9,864.1 517.0,863.2 519.2,862.3 521.3,861.4 523.4,860.6 525.5,859.7 527.6,858.8 529.7,858.0 531.7,857.1 533.8,856.3 535.8,855.4 537.8,854.6 539.8,853.8 541.8,852.9 543.8,852.1 545.7,851.3 547.6,850.5 549.5,849.8 551.3,849.0 553.2,848.2 555.0,847.5 556.7,846.7 558.5,846.0 560.2,845.3 562.0,844.6 564.0,843.7 566.1,842.9 568.1,842.0 570.1,841.2 572.1,840.3 574.1,839.5 576.1,838.7 578.0,837.9 580.0,837.1 581.9,836.3 583.8,835.5 585.7,834.7 587.6,833.9 589.5,833.1 591.4,832.3 593.2,831.5 595.1,830.7 596.9,829.9 598.8,829.2 600.6,828.4 602.4,827.6 604.2,826.9 606.1,826.1 607.9,825.3 609.7,824.6 611.5,823.8 613.2,823.1 615.0,822.3 616.8,821.6 618.6,820.8 620.4,820.1 622.1,819.3 623.9,818.6 625.7,817.8 627.4,817.1 629.2,816.4 631.0,815.6 632.7,814.9 634.5,814.1 636.3,813.4 638.0,812.6 639.8,811.9 641.6,811.1 643.3,810.4 645.1,809.6 646.9,808.9 648.7,808.1 650.5,807.4 652.3,806.6 654.1,805.8 655.9,805.1 657.7,804.3 659.5,803.6 661.3,802.8 663.2,802.0 665.0,801.2 666.9,800.5 668.7,799.7 670.6,798.9 672.5,798.1 674.4,797.3 676.3,796.5 678.1,795.7 679.9,795.0 681.7,794.2 683.4,793.5 685.2,792.7 687.0,792.0 688.7,791.2 690.5,790.5 692.3,789.8 694.0,789.0 695.8,788.3 697.5,787.5 699.3,786.8 701.0,786.1 702.8,785.3 704.5,784.6 706.3,783.8 708.0,783.1 709.8,782.4 711.5,781.6 713.3,780.9 715.1,780.1 716.8,779.4 718.6,778.7 720.3,777.9 722.1,777.2 723.9,776.4 725.6,775.7 727.4,774.9 729.2,774.2 731.0,773.4 732.7,772.7 734.5,771.9 736.3,771.2 738.1,770.4 739.9,769.7 741.7,768.9 743.5,768.1 745.4,767.4 747.2,766.6 749.0,765.8 750.9,765.1 752.7,764.3 754.6,763.5 756.4,762.7 758.3,761.9 760.2,761.1 762.0,760.3 763.9,759.5 765.8,758.7 767.7,757.9 769.7,757.1 771.6,756.3 773.5,755.5 775.5,754.7 777.5,753.9 779.4,753.0 781.4,752.2 783.4,751.3 785.4,750.5 787.4,749.7 789.5,748.8 791.5,747.9 793.6,747.1 795.6,746.2 797.7,745.3 799.8,744.5 801.8,743.6 803.5,742.9 805.1,742.2 806.9,741.5 808.6,740.8 810.4,740.0 812.2,739.3 814.0,738.5 815.8,737.7 817.6,737.0 819.5,736.2 821.4,735.4 823.3,734.6 825.3,733.8 827.2,732.9 829.2,732.1 831.1,731.3 833.1,730.5 835.1,729.6 837.2,728.8 839.2,727.9 841.2,727.1 843.3,726.2 845.4,725.3 847.4,724.4 849.5,723.6 851.6,722.7 853.7,721.8 855.8,720.9 857.9,720.0 860.0,719.2 862.2,718.3 864.3,717.4 866.4,716.5 868.5,715.6 870.6,714.7 872.8,713.8 874.9,712.9 877.0,712.0 879.1,711.2 881.2,710.3 883.3,709.4 885.5,708.5 887.5,707.6 889.6,706.7 891.7,705.9 893.8,705.0 895.9,704.1 897.9,703.3 900.0,702.4 902.0,701.6 904.0,700.7 906.0,699.9 908.0,699.0 910.0,698.2 912.0,697.4 913.9,696.6 915.9,695.7 917.8,694.9 919.7,694.1 921.6,693.4 923.4,692.6 925.3,691.8 927.1,691.1 928.9,690.3 930.6,689.6 932.4,688.8 934.1,688.1 935.8,687.4 937.5,686.7 939.1,686.0 940.7,685.3 942.3,684.7 943.9,684.0 945.4,683.4 946.9,682.8 948.4,682.2 949.8,681.6 951.2,681.0 952.5,680.4 953.9,679.9 955.2,679.3 956.4,678.8 957.6,678.3 958.8,677.8 959.9,677.3 961.0,676.9 966.1,674.8 971.4,672.6 975.4,671.0 978.3,669.8 980.4,669.0 981.7,668.6 982.4,668.3 982.5,668.3 982.3,668.3 982.8,668.3 983.6,668.1 984.4,667.8 985.5,667.4 987.3,666.6 989.4,665.8 991.5,665.0 993.5,664.1 995.5,663.3 997.4,662.5 999.3,661.7 1001.1,661.0 1002.8,660.2 1004.4,659.4 1006.0,658.6 1008.3,657.3 1010.2,656.1 1011.9,654.9 1013.5,653.7 1015.0,652.5 1016.5,651.2 1018.0,649.7 1019.6,648.2 1021.1,646.6 1022.5,644.9 1023.9,643.3 1025.3,641.8 1026.5,640.3 1028.0,638.6 1029.4,636.9 1030.7,635.3 1032.0,633.8 1033.2,632.2 1034.6,630.6 1035.9,629.0 1037.3,627.4 1038.6,625.8 1039.9,624.2 1041.1,622.9 1042.5,621.3 1043.9,619.8 1045.3,618.5 1046.7,617.2 1048.2,615.8 1049.6,614.6 1051.1,613.4 1052.7,612.2 1054.4,610.9 1055.9,609.9 1057.5,608.9 1059.1,607.9 1060.9,606.9 1062.6,605.8 1064.4,604.8 1066.1,603.8 1067.6,602.8 1069.2,601.9 1070.9,601.0 1072.9,600.2 1074.9,599.4 1076.6,598.8 1078.4,598.1 1080.3,597.4 1082.3,596.7 1084.3,596.1 1086.3,595.5 1088.3,594.9 1090.2,594.5 1092.0,594.2 1093.8,594.0 1095.7,593.9 1097.6,594.0 1099.6,594.1 1101.5,594.4 1103.4,594.6 1105.3,595.0 1107.2,595.3 1109.0,595.7 1110.9,596.0 1112.8,596.5 1114.6,597.1 1116.4,597.7 1118.2,598.4 1120.2,599.0 1122.2,599.6 1124.1,600.1 1126.1,600.7 1128.2,601.2 1130.4,601.7 1132.7,602.0 1135.2,602.0 1137.3,601.8 1139.2,601.4 1141.1,600.9 1142.9,600.2 1144.9,599.5 1147.3,598.6 1149.4,597.8 1150.9,597.2 1152.6,596.6 1154.3,595.9 1156.2,595.1 1158.1,594.4 1160.0,593.6 1162.0,592.8 1164.1,591.9 1166.1,591.1 1168.2,590.3 1170.2,589.4 1172.2,588.6 1174.1,587.8 1175.5,587.3 1176.5,586.9 1177.2,586.6 1177.7,586.4 1178.2,586.2 1178.8,586.0 1179.5,585.8 1180.5,585.4 1181.9,584.8 1183.7,584.0 1186.2,583.0 1189.4,581.7 1193.4,580.0 1198.4,577.9 1201.8,576.5 1202.9,576.0 1204.1,575.5 1205.2,575.0 1206.4,574.5 1207.7,574.0 1208.9,573.5 1210.2,572.9 1211.5,572.4 1212.8,571.8 1214.2,571.3 1215.5,570.7 1216.9,570.1 1218.4,569.5 1219.8,568.9 1221.3,568.3 1222.8,567.6 1224.3,567.0 1225.8,566.3 1227.4,565.7 1228.9,565.0 1230.5,564.3 1232.2,563.6 1233.8,563.0 1235.4,562.3 1237.1,561.5 1238.8,560.8 1240.5,560.1 1242.3,559.4 1244.0,558.6 1245.8,557.9 1247.6,557.1 1249.4,556.4 1251.2,555.6 1253.0,554.8 1254.9,554.0 1256.7,553.2 1258.6,552.4 1260.5,551.6 1262.4,550.8 1264.4,550.0 1266.3,549.2 1268.3,548.3 1270.2,547.5 1272.2,546.7 1274.2,545.8 1276.2,545.0 1278.2,544.1 1280.3,543.3 1282.3,542.4 1284.4,541.5 1286.4,540.7 1288.5,539.8 1290.6,538.9 1292.7,538.0 1294.8,537.1 1296.9,536.2 1299.0,535.3 1301.1,534.4 1303.3,533.5 1305.4,532.6 1307.6,531.7 1309.8,530.8 1311.9,529.9 1314.1,529.0 1316.3,528.0 1318.5,527.1 1320.7,526.2 1322.9,525.3 1325.1,524.3 1327.3,523.4 1329.5,522.5 1331.7,521.5 1333.9,520.6 1336.1,519.7 1338.4,518.7 1340.6,517.8 1342.8,516.9 1345.0,515.9 1347.3,515.0 1349.5,514.0 1351.6,513.2 1353.2,512.5 1354.8,511.8 1356.4,511.1 1358.1,510.4 1359.8,509.7 1361.5,509.0 1363.2,508.3 1365.0,507.6 1366.8,506.8 1368.6,506.1 1370.4,505.3 1372.2,504.5 1374.1,503.8 1375.9,503.0 1377.8,502.2 1379.7,501.4 1381.7,500.6 1383.6,499.8 1385.6,498.9 1387.5,498.1 1389.5,497.3 1391.5,496.5 1393.5,495.6 1395.6,494.8 1397.6,493.9 1399.6,493.1 1401.7,492.2 1403.8,491.3 1405.9,490.5 1408.0,489.6 1410.1,488.7 1412.2,487.8 1414.3,486.9 1416.4,486.0 1418.6,485.1 1420.7,484.3 1422.8,483.4 1425.0,482.5 1427.2,481.6 1429.3,480.7 1431.5,479.7 1433.6,478.8 1435.8,477.9 1438.0,477.0 1440.2,476.1 1442.3,475.2 1444.5,474.3 1446.7,473.4 1448.9,472.5 1451.0,471.6 1453.2,470.7 1455.4,469.8 1457.6,468.9 1459.7,468.0 1461.9,467.0 1464.0,466.1 1466.2,465.2 1468.3,464.4 1470.5,463.5 1472.6,462.6 1474.8,461.7 1476.9,460.8 1479.0,459.9 1481.1,459.0 1483.2,458.2 1485.3,457.3 1487.3,456.4 1489.4,455.6 1491.5,454.7 1493.5,453.9 1495.5,453.0 1497.5,452.2 1499.5,451.3 1501.5,450.5 1503.5,449.7 1505.5,448.9 1507.4,448.0 1509.3,447.2 1511.3,446.4 1513.1,445.7 1515.0,444.9 1516.9,444.1 1518.7,443.3 1520.5,442.6 1522.3,441.8 1524.1,441.1 1525.9,440.3 1527.6,439.6 1529.3,438.9 1531.0,438.2 1532.7,437.5 1534.3,436.8 1535.9,436.1 1537.5,435.5 1539.1,434.8 1540.7,434.2 1542.2,433.5 1543.7,432.9 1545.1,432.3 1546.6,431.7 1548.0,431.1 1549.4,430.5 1550.7,430.0 1552.0,429.4 1553.3,428.9 1554.6,428.4 1555.8,427.9 1557.0,427.4 1558.1,426.9 1559.3,426.4 1560.4,426.0 1561.4,425.5 1562.4,425.1 1563.4,424.7 1564.4,424.3 1561.9,419.0 1561.0,419.4 1560.0,419.8 1558.9,420.3 1557.9,420.7 1556.8,421.2 1555.6,421.6 1554.5,422.1 1553.3,422.6 1552.0,423.1 1550.8,423.7 1549.5,424.2 1548.1,424.7 1546.8,425.3 1545.4,425.9 1544.0,426.5 1542.5,427.1 1541.1,427.7 1539.6,428.3 1538.0,428.9 1536.5,429.6 1534.9,430.2 1533.3,430.9 1531.7,431.6 1530.0,432.3 1528.3,433.0 1526.6,433.7 1524.9,434.4 1523.2,435.1 1521.4,435.8 1519.6,436.6 1517.8,437.3 1516.0,438.1 1514.2,438.9 1512.3,439.6 1510.4,440.4 1508.5,441.2 1506.6,442.0 1504.7,442.8 1502.7,443.6 1500.7,444.4 1498.8,445.3 1496.8,446.1 1494.8,446.9 1492.7,447.8 1490.7,448.6 1488.7,449.4 1486.6,450.3 1484.5,451.2 1482.5,452.0 1480.4,452.9 1478.3,453.8 1476.2,454.6 1474.1,455.5 1471.9,456.4 1469.8,457.3 1467.7,458.2 1465.5,459.1 1463.4,460.0 1461.2,460.9 1459.0,461.8 1456.9,462.7 1454.7,463.6 1452.5,464.5 1450.4,465.4 1448.2,466.3 1446.0,467.2 1443.8,468.1 1441.7,469.0 1439.5,469.9 1437.3,470.8 1435.1,471.7 1433.0,472.6 1430.8,473.5 1428.6,474.4 1426.4,475.3 1424.3,476.2 1422.1,477.1 1420.0,478.0 1417.8,478.9 1415.7,479.8 1413.6,480.7 1411.4,481.6 1409.3,482.4 1407.2,483.3 1405.1,484.2 1403.0,485.1 1400.9,485.9 1398.9,486.8 1396.8,487.7 1394.7,488.5 1392.7,489.4 1390.7,490.2 1388.7,491.0 1386.7,491.9 1384.7,492.7 1382.7,493.5 1380.8,494.3 1378.8,495.1 1376.9,495.9 1375.0,496.7 1373.1,497.5 1371.2,498.3 1369.4,499.1 1367.6,499.8 1365.7,500.6 1363.9,501.3 1362.2,502.1 1360.4,502.8 1358.7,503.5 1357.0,504.2 1355.3,504.9 1353.6,505.6 1352.0,506.3 1350.4,507.0 1348.8,507.7 1346.6,508.6 1344.3,509.5 1342.1,510.5 1339.9,511.4 1337.6,512.3 1335.4,513.3 1333.2,514.2 1331.0,515.1 1328.7,516.1 1326.5,517.0 1324.3,517.9 1322.1,518.8 1319.9,519.8 1317.7,520.7 1315.5,521.6 1313.3,522.5 1311.1,523.4 1309.0,524.4 1306.8,525.3 1304.6,526.2 1302.5,527.1 1300.3,528.0 1298.2,528.9 1296.1,529.8 1293.9,530.7 1291.8,531.6 1289.7,532.5 1287.6,533.3 1285.5,534.2 1283.5,535.1 1281.4,536.0 1279.3,536.8 1277.3,537.7 1275.3,538.5 1273.3,539.4 1271.3,540.2 1269.3,541.1 1267.3,541.9 1265.3,542.7 1263.4,543.6 1261.4,544.4 1259.5,545.2 1257.6,546.0 1255.7,546.8 1253.8,547.6 1251.9,548.4 1250.1,549.2 1248.3,549.9 1246.4,550.7 1244.6,551.5 1242.9,552.2 1241.1,553.0 1239.4,553.7 1237.6,554.4 1235.9,555.1 1234.2,555.9 1232.5,556.6 1230.9,557.3 1229.3,557.9 1227.6,558.6 1226.1,559.3 1224.5,560.0 1222.9,560.6 1221.4,561.3 1219.9,561.9 1218.4,562.5 1217.0,563.1 1215.5,563.7 1214.1,564.3 1212.7,564.9 1211.3,565.5 1210.0,566.1 1208.7,566.6 1207.4,567.2 1206.1,567.7 1204.9,568.2 1203.6,568.7 1202.4,569.2 1201.3,569.7 1200.1,570.2 1199.0,570.7 1194.5,572.5 1189.8,574.5 1186.0,576.1 1183.1,577.3 1180.8,578.3 1179.1,579.0 1177.8,579.5 1177.0,579.8 1176.4,580.0 1175.9,580.2 1175.4,580.4 1174.8,580.6 1174.0,580.9 1172.8,581.4 1171.3,582.0 1169.3,582.8 1167.2,583.6 1165.2,584.5 1163.1,585.3 1161.1,586.1 1159.1,587.0 1157.1,587.8 1155.2,588.5 1153.3,589.3 1151.5,590.0 1149.8,590.6 1148.2,591.3 1146.7,591.8 1144.3,592.7 1142.1,593.6 1140.2,594.3 1138.7,594.8 1137.3,595.2 1136.0,595.4 1134.5,595.5 1132.8,595.4 1131.1,595.2 1129.3,594.7 1127.4,594.2 1125.4,593.6 1123.3,593.1 1121.6,592.6 1119.9,592.0 1118.1,591.4 1116.2,590.7 1114.1,590.1 1111.8,589.5 1109.7,589.1 1107.9,588.8 1106.0,588.4 1104.0,588.1 1101.9,587.8 1099.7,587.5 1097.4,587.4 1095.1,587.3 1092.7,587.5 1090.6,587.7 1088.4,588.1 1086.2,588.6 1084.0,589.2 1081.8,589.9 1079.7,590.6 1077.6,591.3 1075.6,592.0 1073.8,592.7 1072.1,593.3 1069.8,594.3 1067.5,595.3 1065.6,596.4 1063.8,597.4 1062.2,598.3 1060.6,599.3 1058.9,600.3 1057.0,601.4 1055.2,602.5 1053.5,603.5 1051.8,604.6 1050.1,605.8 1048.3,607.1 1046.6,608.4 1045.0,609.8 1043.4,611.2 1041.8,612.6 1040.3,614.0 1038.8,615.5 1037.3,617.1 1035.8,618.7 1034.4,620.3 1033.1,621.9 1031.7,623.5 1030.4,625.1 1029.0,626.8 1027.7,628.4 1026.4,629.9 1025.2,631.5 1023.9,633.0 1022.5,634.6 1021.1,636.2 1019.8,637.7 1018.5,639.3 1017.1,640.9 1015.7,642.4 1014.4,643.8 1013.0,645.2 1011.6,646.5 1010.2,647.7 1008.9,648.7 1007.6,649.7 1006.1,650.7 1004.4,651.7 1002.5,652.8 1001.1,653.5 999.5,654.2 997.9,654.9 996.1,655.7 994.3,656.5 992.4,657.2 990.4,658.0 988.4,658.9 986.4,659.7 984.2,660.5 982.7,661.2 981.9,661.5 981.6,661.6 981.8,661.5 981.7,661.5 981.0,661.6 980.2,661.9 979.1,662.2 977.5,662.8 975.1,663.7 971.9,665.0 967.6,666.8 962.0,669.1 958.1,670.7 957.0,671.1 955.9,671.6 954.7,672.1 953.5,672.6 952.2,673.1 950.9,673.7 949.6,674.2 948.2,674.8 946.8,675.4 945.3,676.0 943.9,676.6 942.4,677.2 940.8,677.8 939.3,678.5 937.7,679.1 936.1,679.8 934.4,680.5 932.7,681.2 931.0,681.9 929.3,682.6 927.5,683.4 925.8,684.1 924.0,684.9 922.1,685.6 920.3,686.4 918.4,687.2 916.5,687.9 914.6,688.7 912.7,689.5 910.8,690.4 908.8,691.2 906.9,692.0 904.9,692.8 902.9,693.7 900.8,694.5 898.8,695.3 896.8,696.2 894.7,697.0 892.7,697.9 890.6,698.8 888.5,699.6 886.4,700.5 884.3,701.4 882.2,702.3 880.1,703.1 878.0,704.0 875.9,704.9 873.8,705.8 871.6,706.7 869.5,707.6 867.4,708.5 865.3,709.3 863.1,710.2 861.0,711.1 858.9,712.0 856.8,712.9 854.7,713.8 852.6,714.7 850.5,715.5 848.4,716.4 846.3,717.3 844.2,718.2 842.1,719.0 840.1,719.9 838.0,720.7 836.0,721.6 833.9,722.4 831.9,723.3 829.9,724.1 827.9,725.0 825.9,725.8 824.0,726.6 822.0,727.4 820.1,728.2 818.2,729.0 816.3,729.8 814.4,730.6 812.6,731.4 810.8,732.1 808.9,732.9 807.2,733.6 805.4,734.4 803.7,735.1 802.0,735.8 800.3,736.5 798.6,737.2 796.5,738.1 794.4,739.0 792.3,739.8 790.3,740.7 788.2,741.6 786.2,742.4 784.2,743.3 782.1,744.1 780.1,744.9 778.1,745.8 776.2,746.6 774.2,747.4 772.2,748.3 770.3,749.1 768.3,749.9 766.4,750.7 764.5,751.5 762.6,752.3 760.7,753.1 758.8,753.9 756.9,754.7 755.0,755.5 753.2,756.3 751.3,757.0 749.4,757.8 747.6,758.6 745.8,759.4 743.9,760.1 742.1,760.9 740.3,761.7 738.5,762.4 736.7,763.2 734.9,763.9 733.1,764.7 731.3,765.4 729.5,766.2 727.7,766.9 725.9,767.7 724.1,768.4 722.4,769.2 720.6,769.9 718.8,770.7 717.1,771.4 715.3,772.1 713.5,772.9 711.8,773.6 710.0,774.4 708.3,775.1 706.5,775.8 704.8,776.6 703.0,777.3 701.3,778.0 699.5,778.8 697.8,779.5 696.0,780.2 694.3,781.0 692.5,781.7 690.7,782.4 689.0,783.2 687.2,783.9 685.5,784.7 683.7,785.4 681.9,786.1 680.2,786.9 678.4,787.6 676.6,788.4 674.8,789.1 672.9,789.9 671.0,790.7 669.2,791.5 667.3,792.3 665.4,793.1 663.5,793.9 661.7,794.6 659.9,795.4 658.0,796.2 656.2,796.9 654.4,797.7 652.6,798.5 650.8,799.2 649.0,800.0 647.2,800.7 645.4,801.5 643.6,802.2 641.8,803.0 640.0,803.7 638.2,804.5 636.5,805.2 634.7,806.0 632.9,806.7 631.2,807.5 629.4,808.2 627.6,808.9 625.9,809.7 624.1,810.4 622.3,811.2 620.6,811.9 618.8,812.7 617.0,813.4 615.3,814.1 613.5,814.9 611.7,815.6 609.9,816.4 608.1,817.1 606.3,817.9 604.5,818.6 602.7,819.4 600.9,820.2 599.1,820.9 597.3,821.7 595.4,822.5 593.6,823.2 591.7,824.0 589.9,824.8 588.0,825.6 586.1,826.3 584.2,827.1 582.3,827.9 580.4,828.7 578.5,829.5 576.6,830.3 574.6,831.1 572.7,832.0 570.7,832.8 568.7,833.6 566.7,834.4 564.7,835.3 562.7,836.1 560.6,837.0 558.6,837.8 556.9,838.5 555.1,839.2 553.4,839.9 551.6,840.7 549.8,841.4 548.0,842.2 546.1,843.0 544.2,843.7 542.3,844.5 540.4,845.3 538.4,846.1 536.4,847.0 534.4,847.8 532.4,848.6 530.4,849.4 528.3,850.3 526.3,851.1 524.2,852.0 522.1,852.9 520.0,853.7 517.8,854.6 515.7,855.5 513.6,856.4 511.4,857.2 509.3,858.1 507.1,859.0 505.0,859.9 502.8,860.8 500.6,861.7 498.4,862.6 496.3,863.5 494.1,864.4 491.9,865.2 489.8,866.1 487.6,867.0 485.5,867.9 483.3,868.8 481.2,869.7 479.0,870.5 476.9,871.4 474.8,872.3 472.7,873.1 470.6,874.0 468.5,874.8 466.5,875.7 464.4,876.5 462.4,877.4 460.4,878.2 458.4,879.0 456.5,879.8 454.5,880.6 452.6,881.4 450.7,882.2 448.8,882.9 447.0,883.7 445.2,884.4 443.4,885.2 441.6,885.9 439.9,886.6 438.2,887.3 436.5,888.0 434.9,888.6 433.3,889.3 431.7,889.9 430.2,890.6 428.7,891.2 427.3,891.8 425.9,892.3 424.5,892.9 423.2,893.4 421.9,894.0 420.7,894.5 419.5,895.0 418.3,895.4 417.3,895.9 416.2,896.3 415.2,896.7 414.5,897.0" fill="url(#s5g)" stroke="#9a9a9a" stroke-width="0.8" stroke-linejoin="round"/><g transform="translate(420.4,898.8) rotate(-22.4)"><rect x="-3.3" y="-2.4" width="6.5" height="4.8" rx="0.6" fill="#444444"/><rect x="-2.9" y="-2.2" width="5.8" height="2.7" rx="0.5" fill="#f8f8f8"/></g><rect x="-4.8" y="-2.9" width="9.6" height="5.8" rx="0.6" fill="#505050" transform="translate(430.2,894.8) rotate(-22.3)"/><g transform="translate(440.1,890.7) rotate(-22.3)"><rect x="-3.3" y="-2.4" width="6.5" height="4.8" rx="0.6" fill="#444444"/><rect x="-2.9" y="-2.2" width="5.8" height="2.6" rx="0.5" fill="#f8f8f8"/></g><rect x="-2.6" y="-2.4" width="5.2" height="4.8" rx="0.6" fill="#767b84" transform="translate(449.8,886.7) rotate(-22.3)"/><g transform="translate(461.4,882.0) rotate(-22.3)"><rect x="-3.3" y="-2.4" width="6.5" height="4.8" rx="0.6" fill="#444444"/><rect x="-2.9" y="-2.2" width="5.8" height="2.6" rx="0.5" fill="#f8f8f8"/></g><rect x="-5.8" y="-3.2" width="11.7" height="6.5" rx="0.6" fill="#a6a6a6" transform="translate(476.3,875.8) rotate(-22.3)"/><g transform="translate(484.2,872.6) rotate(-22.4)"><rect x="-3.3" y="-2.4" width="6.5" height="4.8" rx="0.6" fill="#444444"/><rect x="-2.9" y="-2.2" width="5.8" height="2.6" rx="0.5" fill="#f8f8f8"/></g><rect x="-4.8" y="-2.8" width="9.6" height="5.7" rx="0.6" fill="#505050" transform="translate(493.9,868.6) rotate(-22.4)"/><g transform="translate(503.7,864.6) rotate(-22.4)"><rect x="-3.3" y="-2.4" width="6.5" height="4.7" rx="0.6" fill="#444444"/><rect x="-2.9" y="-2.2" width="5.8" height="2.6" rx="0.5" fill="#f8f8f8"/></g><rect x="-2.6" y="-2.4" width="5.2" height="4.7" rx="0.6" fill="#767b84" transform="translate(513.4,860.5) rotate(-22.4)"/><g transform="translate(525.1,855.7) rotate(-22.4)"><rect x="-3.3" y="-2.4" width="6.5" height="4.7" rx="0.6" fill="#444444"/><rect x="-2.9" y="-2.2" width="5.8" height="2.6" rx="0.5" fill="#f8f8f8"/></g><rect x="-5.8" y="-3.2" width="11.7" height="6.4" rx="0.6" fill="#a6a6a6" transform="translate(539.9,849.6) rotate(-22.5)"/><g transform="translate(547.6,846.5) rotate(-22.5)"><rect x="-3.3" y="-2.3" width="6.5" height="4.7" rx="0.6" fill="#444444"/><rect x="-2.9" y="-2.1" width="5.8" height="2.6" rx="0.5" fill="#f8f8f8"/></g><rect x="-4.6" y="-2.8" width="9.1" height="5.6" rx="0.6" fill="#505050" transform="translate(557.0,842.5) rotate(-22.5)"/><g transform="translate(566.6,838.5) rotate(-22.6)"><rect x="-3.1" y="-2.3" width="6.2" height="4.7" rx="0.6" fill="#444444"/><rect x="-2.7" y="-2.1" width="5.5" height="2.6" rx="0.5" fill="#f8f8f8"/></g><rect x="-2.4" y="-2.3" width="4.9" height="4.7" rx="0.6" fill="#767b84" transform="translate(576.1,834.6) rotate(-22.6)"/><g transform="translate(586.6,830.2) rotate(-22.7)"><rect x="-3.1" y="-2.3" width="6.2" height="4.7" rx="0.6" fill="#444444"/><rect x="-2.7" y="-2.1" width="5.5" height="2.6" rx="0.5" fill="#f8f8f8"/></g><rect x="-5.5" y="-3.1" width="11.1" height="6.3" rx="0.6" fill="#a6a6a6" transform="translate(601.0,824.2) rotate(-22.8)"/><g transform="translate(608.2,821.1) rotate(-22.8)"><rect x="-3.1" y="-2.3" width="6.2" height="4.6" rx="0.6" fill="#444444"/><rect x="-2.7" y="-2.1" width="5.5" height="2.5" rx="0.5" fill="#f8f8f8"/></g><rect x="-4.5" y="-2.8" width="9.0" height="5.5" rx="0.6" fill="#505050" transform="translate(617.6,817.2) rotate(-22.8)"/><g transform="translate(626.4,813.5) rotate(-22.8)"><rect x="-3.0" y="-2.3" width="6.1" height="4.6" rx="0.6" fill="#444444"/><rect x="-2.7" y="-2.1" width="5.4" height="2.5" rx="0.5" fill="#f8f8f8"/></g><rect x="-2.4" y="-2.3" width="4.8" height="4.6" rx="0.6" fill="#767b84" transform="translate(635.7,809.6) rotate(-22.8)"/><g transform="translate(646.4,805.1) rotate(-22.8)"><rect x="-3.0" y="-2.3" width="6.1" height="4.6" rx="0.6" fill="#444444"/><rect x="-2.7" y="-2.1" width="5.4" height="2.5" rx="0.5" fill="#f8f8f8"/></g><rect x="-5.4" y="-3.1" width="10.9" height="6.2" rx="0.6" fill="#a6a6a6" transform="translate(660.4,799.2) rotate(-22.8)"/><g transform="translate(667.8,796.1) rotate(-22.8)"><rect x="-3.0" y="-2.3" width="6.1" height="4.6" rx="0.6" fill="#444444"/><rect x="-2.7" y="-2.1" width="5.4" height="2.5" rx="0.5" fill="#f8f8f8"/></g><rect x="-4.4" y="-2.7" width="8.8" height="5.4" rx="0.6" fill="#505050" transform="translate(676.2,792.5) rotate(-22.8)"/><g transform="translate(685.6,788.6) rotate(-22.8)"><rect x="-3.0" y="-2.3" width="6.0" height="4.5" rx="0.6" fill="#444444"/><rect x="-2.6" y="-2.1" width="5.3" height="2.5" rx="0.5" fill="#f8f8f8"/></g><rect x="-2.4" y="-2.3" width="4.7" height="4.5" rx="0.6" fill="#767b84" transform="translate(694.4,784.9) rotate(-22.8)"/><g transform="translate(704.9,780.5) rotate(-22.8)"><rect x="-3.0" y="-2.3" width="6.0" height="4.5" rx="0.6" fill="#444444"/><rect x="-2.6" y="-2.1" width="5.3" height="2.5" rx="0.5" fill="#f8f8f8"/></g><rect x="-5.3" y="-3.1" width="10.7" height="6.1" rx="0.6" fill="#a6a6a6" transform="translate(718.5,774.8) rotate(-22.8)"/><g transform="translate(725.5,771.8) rotate(-22.8)"><rect x="-3.0" y="-2.3" width="6.0" height="4.5" rx="0.6" fill="#444444"/><rect x="-2.6" y="-2.1" width="5.3" height="2.5" rx="0.5" fill="#f8f8f8"/></g><rect x="-4.1" y="-2.7" width="8.1" height="5.4" rx="0.6" fill="#505050" transform="translate(734.5,768.0) rotate(-22.8)"/><g transform="translate(742.6,764.6) rotate(-22.8)"><rect x="-2.8" y="-2.2" width="5.5" height="4.5" rx="0.6" fill="#444444"/><rect x="-2.4" y="-2.0" width="4.8" height="2.5" rx="0.5" fill="#f8f8f8"/></g><rect x="-2.2" y="-2.2" width="4.4" height="4.5" rx="0.6" fill="#767b84" transform="translate(750.8,761.1) rotate(-22.8)"/><g transform="translate(760.6,757.0) rotate(-22.8)"><rect x="-2.8" y="-2.2" width="5.5" height="4.5" rx="0.6" fill="#444444"/><rect x="-2.4" y="-2.0" width="4.8" height="2.5" rx="0.5" fill="#f8f8f8"/></g><rect x="-4.9" y="-3.0" width="9.9" height="6.0" rx="0.6" fill="#a6a6a6" transform="translate(773.6,751.6) rotate(-22.8)"/><g transform="translate(780.0,748.9) rotate(-22.8)"><rect x="-2.8" y="-2.2" width="5.5" height="4.4" rx="0.6" fill="#444444"/><rect x="-2.4" y="-2.0" width="4.8" height="2.4" rx="0.5" fill="#f8f8f8"/></g><rect x="-4.1" y="-2.6" width="8.1" height="5.3" rx="0.6" fill="#505050" transform="translate(788.1,745.5) rotate(-22.8)"/><g transform="translate(796.3,742.0) rotate(-22.7)"><rect x="-2.8" y="-2.2" width="5.5" height="4.4" rx="0.6" fill="#444444"/><rect x="-2.4" y="-2.0" width="4.8" height="2.4" rx="0.5" fill="#f8f8f8"/></g><rect x="-2.2" y="-2.2" width="4.4" height="4.4" rx="0.6" fill="#767b84" transform="translate(804.6,738.6) rotate(-22.7)"/><g transform="translate(814.4,734.5) rotate(-22.7)"><rect x="-2.8" y="-2.2" width="5.5" height="4.4" rx="0.6" fill="#444444"/><rect x="-2.4" y="-2.0" width="4.8" height="2.4" rx="0.5" fill="#f8f8f8"/></g><rect x="-4.9" y="-3.0" width="9.9" height="6.0" rx="0.6" fill="#a6a6a6" transform="translate(827.3,729.1) rotate(-22.7)"/><g transform="translate(833.8,726.3) rotate(-22.7)"><rect x="-2.8" y="-2.2" width="5.5" height="4.4" rx="0.6" fill="#444444"/><rect x="-2.4" y="-2.0" width="4.8" height="2.4" rx="0.5" fill="#f8f8f8"/></g><rect x="-4.1" y="-2.6" width="8.1" height="5.2" rx="0.6" fill="#505050" transform="translate(841.4,723.1) rotate(-22.7)"/><g transform="translate(850.2,719.4) rotate(-22.7)"><rect x="-2.8" y="-2.2" width="5.5" height="4.4" rx="0.6" fill="#444444"/><rect x="-2.4" y="-2.0" width="4.8" height="2.4" rx="0.5" fill="#f8f8f8"/></g><rect x="-2.2" y="-2.2" width="4.4" height="4.4" rx="0.6" fill="#767b84" transform="translate(858.1,716.1) rotate(-22.7)"/><g transform="translate(867.7,712.1) rotate(-22.7)"><rect x="-2.8" y="-2.2" width="5.5" height="4.4" rx="0.6" fill="#444444"/><rect x="-2.4" y="-2.0" width="4.8" height="2.4" rx="0.5" fill="#f8f8f8"/></g><rect x="-4.9" y="-2.9" width="9.9" height="5.9" rx="0.6" fill="#a6a6a6" transform="translate(880.9,706.6) rotate(-22.7)"/><g transform="translate(887.2,704.0) rotate(-22.7)"><rect x="-2.8" y="-2.2" width="5.5" height="4.3" rx="0.6" fill="#444444"/><rect x="-2.4" y="-2.0" width="4.8" height="2.4" rx="0.5" fill="#f8f8f8"/></g><rect x="-4.1" y="-2.6" width="8.1" height="5.2" rx="0.6" fill="#505050" transform="translate(895.0,700.7) rotate(-22.7)"/><g transform="translate(903.7,697.1) rotate(-22.7)"><rect x="-2.8" y="-2.2" width="5.5" height="4.3" rx="0.6" fill="#444444"/><rect x="-2.4" y="-2.0" width="4.8" height="2.4" rx="0.5" fill="#f8f8f8"/></g><rect x="-2.2" y="-2.2" width="4.4" height="4.3" rx="0.6" fill="#767b84" transform="translate(911.6,693.8) rotate(-22.7)"/><g transform="translate(921.6,689.6) rotate(-22.7)"><rect x="-2.8" y="-2.1" width="5.5" height="4.3" rx="0.6" fill="#444444"/><rect x="-2.4" y="-1.9" width="4.8" height="2.4" rx="0.5" fill="#f8f8f8"/></g><rect x="-4.9" y="-2.9" width="9.9" height="5.8" rx="0.6" fill="#a6a6a6" transform="translate(934.5,684.2) rotate(-22.6)"/><g transform="translate(941.0,681.5) rotate(-22.6)"><rect x="-2.8" y="-2.1" width="5.5" height="4.3" rx="0.6" fill="#444444"/><rect x="-2.4" y="-1.9" width="4.8" height="2.4" rx="0.5" fill="#f8f8f8"/></g><rect x="-4.1" y="-2.5" width="8.1" height="5.1" rx="0.6" fill="#505050" transform="translate(948.8,678.2) rotate(-22.6)"/><g transform="translate(957.2,674.8) rotate(-22.5)"><rect x="-2.8" y="-2.1" width="5.5" height="4.3" rx="0.6" fill="#444444"/><rect x="-2.4" y="-1.9" width="4.8" height="2.3" rx="0.5" fill="#f8f8f8"/></g><rect x="-2.2" y="-2.1" width="4.4" height="4.2" rx="0.6" fill="#767b84" transform="translate(966.3,671.0) rotate(-22.4)"/><g transform="translate(975.7,667.2) rotate(-21.7)"><rect x="-2.8" y="-2.1" width="5.5" height="4.2" rx="0.6" fill="#444444"/><rect x="-2.4" y="-1.9" width="4.8" height="2.3" rx="0.5" fill="#f8f8f8"/></g><rect x="-4.9" y="-2.9" width="9.9" height="5.7" rx="0.6" fill="#a6a6a6" transform="translate(988.1,662.6) rotate(-21.9)"/><g transform="translate(994.7,660.0) rotate(-22.3)"><rect x="-2.8" y="-2.1" width="5.5" height="4.2" rx="0.6" fill="#444444"/><rect x="-2.4" y="-1.9" width="4.8" height="2.3" rx="0.5" fill="#f8f8f8"/></g><rect x="-4.2" y="-2.5" width="8.4" height="5.0" rx="0.6" fill="#505050" transform="translate(1002.6,656.5) rotate(-25.7)"/><g transform="translate(1010.7,651.7) rotate(-37.4)"><rect x="-2.8" y="-2.1" width="5.7" height="4.2" rx="0.6" fill="#444444"/><rect x="-2.5" y="-1.9" width="5.0" height="2.3" rx="0.5" fill="#f8f8f8"/></g><rect x="-2.2" y="-2.1" width="4.5" height="4.2" rx="0.6" fill="#767b84" transform="translate(1017.5,645.4) rotate(-46.3)"/><g transform="translate(1024.7,637.2) rotate(-49.1)"><rect x="-2.8" y="-2.1" width="5.7" height="4.2" rx="0.6" fill="#444444"/><rect x="-2.5" y="-1.9" width="5.0" height="2.3" rx="0.5" fill="#f8f8f8"/></g><rect x="-5.1" y="-2.8" width="10.1" height="5.6" rx="0.6" fill="#a6a6a6" transform="translate(1033.6,626.5) rotate(-50.7)"/><g transform="translate(1038.3,621.0) rotate(-48.3)"><rect x="-2.8" y="-2.1" width="5.7" height="4.2" rx="0.6" fill="#444444"/><rect x="-2.5" y="-1.9" width="5.0" height="2.3" rx="0.5" fill="#f8f8f8"/></g><rect x="-3.7" y="-2.5" width="7.5" height="5.0" rx="0.6" fill="#505050" transform="translate(1044.8,614.3) rotate(-42.3)"/><g transform="translate(1051.2,609.2) rotate(-36.3)"><rect x="-2.5" y="-2.1" width="5.1" height="4.1" rx="0.6" fill="#444444"/><rect x="-2.2" y="-1.9" width="4.4" height="2.3" rx="0.5" fill="#f8f8f8"/></g><rect x="-2.0" y="-2.1" width="4.0" height="4.1" rx="0.6" fill="#767b84" transform="translate(1057.8,604.8) rotate(-31.2)"/><g transform="translate(1066.3,599.7) rotate(-30.5)"><rect x="-2.5" y="-2.1" width="5.1" height="4.1" rx="0.6" fill="#444444"/><rect x="-2.2" y="-1.9" width="4.4" height="2.3" rx="0.5" fill="#f8f8f8"/></g><rect x="-4.5" y="-2.8" width="9.1" height="5.6" rx="0.6" fill="#a6a6a6" transform="translate(1077.7,594.8) rotate(-20.0)"/><g transform="translate(1083.9,592.7) rotate(-17.0)"><rect x="-2.5" y="-2.1" width="5.1" height="4.1" rx="0.6" fill="#444444"/><rect x="-2.2" y="-1.9" width="4.4" height="2.3" rx="0.5" fill="#f8f8f8"/></g><rect x="-2.8" y="-2.4" width="5.7" height="4.9" rx="0.6" fill="#505050" transform="translate(1092.0,590.9) rotate(-7.8)"/><g transform="translate(1098.3,590.7) rotate(3.4)"><rect x="-1.9" y="-2.0" width="3.8" height="4.1" rx="0.6" fill="#444444"/><rect x="-1.6" y="-1.8" width="3.1" height="2.3" rx="0.5" fill="#f8f8f8"/></g><rect x="-1.5" y="-2.0" width="3.0" height="4.1" rx="0.6" fill="#767b84" transform="translate(1104.5,591.5) rotate(9.5)"/><g transform="translate(1111.7,592.8) rotate(12.8)"><rect x="-1.9" y="-2.0" width="3.8" height="4.1" rx="0.6" fill="#444444"/><rect x="-1.6" y="-1.8" width="3.1" height="2.2" rx="0.5" fill="#f8f8f8"/></g><rect x="-3.4" y="-2.8" width="6.9" height="5.5" rx="0.6" fill="#a6a6a6" transform="translate(1120.6,595.7) rotate(17.6)"/><g transform="translate(1125.5,597.1) rotate(16.0)"><rect x="-1.9" y="-2.0" width="3.8" height="4.1" rx="0.6" fill="#444444"/><rect x="-1.6" y="-1.8" width="3.1" height="2.2" rx="0.5" fill="#f8f8f8"/></g><rect x="-3.4" y="-2.4" width="6.7" height="4.8" rx="0.6" fill="#505050" transform="translate(1131.0,598.5) rotate(10.6)"/><g transform="translate(1138.4,598.3) rotate(-13.1)"><rect x="-2.3" y="-2.0" width="4.6" height="4.1" rx="0.6" fill="#444444"/><rect x="-1.9" y="-1.8" width="3.9" height="2.2" rx="0.5" fill="#f8f8f8"/></g><rect x="-1.8" y="-2.0" width="3.6" height="4.0" rx="0.6" fill="#767b84" transform="translate(1145.5,595.8) rotate(-21.0)"/><g transform="translate(1153.6,592.7) rotate(-21.5)"><rect x="-2.3" y="-2.0" width="4.6" height="4.0" rx="0.6" fill="#444444"/><rect x="-1.9" y="-1.8" width="3.9" height="2.2" rx="0.5" fill="#f8f8f8"/></g><rect x="-4.1" y="-2.7" width="8.2" height="5.5" rx="0.6" fill="#a6a6a6" transform="translate(1164.4,588.3) rotate(-22.2)"/><g transform="translate(1170.0,586.0) rotate(-22.1)"><rect x="-2.3" y="-2.0" width="4.6" height="4.0" rx="0.6" fill="#444444"/><rect x="-1.9" y="-1.8" width="3.9" height="2.2" rx="0.5" fill="#f8f8f8"/></g><rect x="-3.3" y="-2.4" width="6.5" height="4.8" rx="0.6" fill="#505050" transform="translate(1176.4,583.5) rotate(-20.3)"/><g transform="translate(1183.1,580.8) rotate(-22.4)"><rect x="-2.2" y="-2.0" width="4.4" height="4.0" rx="0.6" fill="#444444"/><rect x="-1.9" y="-1.8" width="3.7" height="2.2" rx="0.5" fill="#f8f8f8"/></g><rect x="-1.7" y="-2.0" width="3.5" height="4.0" rx="0.6" fill="#767b84" transform="translate(1190.0,577.9) rotate(-22.7)"/><g transform="translate(1198.5,574.4) rotate(-22.8)"><rect x="-2.2" y="-2.0" width="4.4" height="4.0" rx="0.6" fill="#444444"/><rect x="-1.9" y="-1.8" width="3.7" height="2.2" rx="0.5" fill="#f8f8f8"/></g><rect x="-4.0" y="-2.7" width="7.9" height="5.4" rx="0.6" fill="#a6a6a6" transform="translate(1207.7,570.5) rotate(-22.8)"/><g transform="translate(1212.9,568.3) rotate(-22.9)"><rect x="-2.2" y="-2.0" width="4.4" height="4.0" rx="0.6" fill="#444444"/><rect x="-1.9" y="-1.8" width="3.7" height="2.2" rx="0.5" fill="#f8f8f8"/></g><rect x="-3.3" y="-2.4" width="6.5" height="4.7" rx="0.6" fill="#505050" transform="translate(1219.3,565.6) rotate(-22.9)"/><g transform="translate(1226.1,562.7) rotate(-22.9)"><rect x="-2.2" y="-2.0" width="4.4" height="4.0" rx="0.6" fill="#444444"/><rect x="-1.9" y="-1.8" width="3.7" height="2.2" rx="0.5" fill="#f8f8f8"/></g><rect x="-1.7" y="-2.0" width="3.5" height="4.0" rx="0.6" fill="#767b84" transform="translate(1232.5,560.0) rotate(-22.9)"/><g transform="translate(1240.2,556.8) rotate(-22.9)"><rect x="-2.2" y="-2.0" width="4.4" height="3.9" rx="0.6" fill="#444444"/><rect x="-1.9" y="-1.8" width="3.7" height="2.2" rx="0.5" fill="#f8f8f8"/></g><rect x="-4.0" y="-2.7" width="7.9" height="5.3" rx="0.6" fill="#a6a6a6" transform="translate(1250.9,552.3) rotate(-22.9)"/><g transform="translate(1256.0,550.1) rotate(-22.9)"><rect x="-2.2" y="-2.0" width="4.4" height="3.9" rx="0.6" fill="#444444"/><rect x="-1.9" y="-1.8" width="3.7" height="2.2" rx="0.5" fill="#f8f8f8"/></g><rect x="-3.3" y="-2.3" width="6.5" height="4.7" rx="0.6" fill="#505050" transform="translate(1262.2,547.5) rotate(-22.9)"/><g transform="translate(1269.0,544.6) rotate(-22.9)"><rect x="-2.2" y="-2.0" width="4.4" height="3.9" rx="0.6" fill="#444444"/><rect x="-1.9" y="-1.8" width="3.7" height="2.2" rx="0.5" fill="#f8f8f8"/></g><rect x="-1.7" y="-2.0" width="3.5" height="3.9" rx="0.6" fill="#767b84" transform="translate(1275.5,541.9) rotate(-22.9)"/><g transform="translate(1283.1,538.6) rotate(-22.9)"><rect x="-2.2" y="-1.9" width="4.4" height="3.9" rx="0.6" fill="#444444"/><rect x="-1.9" y="-1.7" width="3.7" height="2.1" rx="0.5" fill="#f8f8f8"/></g><rect x="-4.0" y="-2.6" width="7.9" height="5.3" rx="0.6" fill="#a6a6a6" transform="translate(1293.6,534.2) rotate(-22.9)"/><g transform="translate(1298.9,532.0) rotate(-22.9)"><rect x="-2.2" y="-1.9" width="4.4" height="3.9" rx="0.6" fill="#444444"/><rect x="-1.9" y="-1.7" width="3.7" height="2.1" rx="0.5" fill="#f8f8f8"/></g><rect x="-3.3" y="-2.3" width="6.5" height="4.6" rx="0.6" fill="#505050" transform="translate(1305.3,529.3) rotate(-22.9)"/><g transform="translate(1311.8,526.5) rotate(-22.8)"><rect x="-2.2" y="-1.9" width="4.4" height="3.9" rx="0.6" fill="#444444"/><rect x="-1.9" y="-1.7" width="3.7" height="2.1" rx="0.5" fill="#f8f8f8"/></g><rect x="-1.7" y="-1.9" width="3.5" height="3.9" rx="0.6" fill="#767b84" transform="translate(1318.4,523.8) rotate(-22.8)"/><g transform="translate(1326.1,520.5) rotate(-22.8)"><rect x="-2.2" y="-1.9" width="4.4" height="3.9" rx="0.6" fill="#444444"/><rect x="-1.9" y="-1.7" width="3.7" height="2.1" rx="0.5" fill="#f8f8f8"/></g><rect x="-4.0" y="-2.6" width="7.9" height="5.2" rx="0.6" fill="#a6a6a6" transform="translate(1336.6,516.1) rotate(-22.8)"/><g transform="translate(1341.6,514.0) rotate(-22.8)"><rect x="-2.2" y="-1.9" width="4.4" height="3.8" rx="0.6" fill="#444444"/><rect x="-1.9" y="-1.7" width="3.7" height="2.1" rx="0.5" fill="#f8f8f8"/></g><rect x="-3.0" y="-2.3" width="6.1" height="4.6" rx="0.6" fill="#505050" transform="translate(1348.3,511.2) rotate(-22.7)"/><g transform="translate(1354.4,508.6) rotate(-22.7)"><rect x="-2.1" y="-1.9" width="4.1" height="3.8" rx="0.6" fill="#444444"/><rect x="-1.7" y="-1.7" width="3.4" height="2.1" rx="0.5" fill="#f8f8f8"/></g><rect x="-1.6" y="-1.9" width="3.3" height="3.8" rx="0.6" fill="#767b84" transform="translate(1360.3,506.2) rotate(-22.7)"/><g transform="translate(1367.8,503.0) rotate(-22.7)"><rect x="-2.1" y="-1.9" width="4.1" height="3.8" rx="0.6" fill="#444444"/><rect x="-1.7" y="-1.7" width="3.4" height="2.1" rx="0.5" fill="#f8f8f8"/></g><rect x="-3.7" y="-2.6" width="7.4" height="5.1" rx="0.6" fill="#a6a6a6" transform="translate(1377.1,499.2) rotate(-22.7)"/><g transform="translate(1381.9,497.1) rotate(-22.7)"><rect x="-2.1" y="-1.9" width="4.1" height="3.8" rx="0.6" fill="#444444"/><rect x="-1.7" y="-1.7" width="3.4" height="2.1" rx="0.5" fill="#f8f8f8"/></g><rect x="-3.1" y="-2.3" width="6.1" height="4.5" rx="0.6" fill="#505050" transform="translate(1387.8,494.7) rotate(-22.7)"/><g transform="translate(1394.4,492.0) rotate(-22.7)"><rect x="-2.1" y="-1.9" width="4.2" height="3.8" rx="0.6" fill="#444444"/><rect x="-1.7" y="-1.7" width="3.5" height="2.1" rx="0.5" fill="#f8f8f8"/></g><rect x="-1.6" y="-1.9" width="3.3" height="3.8" rx="0.6" fill="#767b84" transform="translate(1400.5,489.4) rotate(-22.6)"/><g transform="translate(1407.8,486.3) rotate(-22.6)"><rect x="-2.1" y="-1.9" width="4.2" height="3.8" rx="0.6" fill="#444444"/><rect x="-1.7" y="-1.7" width="3.5" height="2.1" rx="0.5" fill="#f8f8f8"/></g><rect x="-3.7" y="-2.5" width="7.4" height="5.1" rx="0.6" fill="#a6a6a6" transform="translate(1417.4,482.4) rotate(-22.6)"/><g transform="translate(1422.2,480.3) rotate(-22.6)"><rect x="-2.1" y="-1.9" width="4.2" height="3.7" rx="0.6" fill="#444444"/><rect x="-1.7" y="-1.7" width="3.5" height="2.1" rx="0.5" fill="#f8f8f8"/></g><rect x="-3.0" y="-2.2" width="6.1" height="4.5" rx="0.6" fill="#505050" transform="translate(1428.7,477.6) rotate(-22.6)"/><g transform="translate(1434.7,475.2) rotate(-22.6)"><rect x="-2.1" y="-1.9" width="4.1" height="3.7" rx="0.6" fill="#444444"/><rect x="-1.7" y="-1.7" width="3.4" height="2.1" rx="0.5" fill="#f8f8f8"/></g><rect x="-1.6" y="-1.9" width="3.3" height="3.7" rx="0.6" fill="#767b84" transform="translate(1440.6,472.7) rotate(-22.6)"/><g transform="translate(1448.3,469.5) rotate(-22.6)"><rect x="-2.1" y="-1.9" width="4.1" height="3.7" rx="0.6" fill="#444444"/><rect x="-1.7" y="-1.7" width="3.4" height="2.0" rx="0.5" fill="#f8f8f8"/></g><rect x="-3.7" y="-2.5" width="7.4" height="5.0" rx="0.6" fill="#a6a6a6" transform="translate(1457.5,465.6) rotate(-22.6)"/><g transform="translate(1462.4,463.6) rotate(-22.6)"><rect x="-2.1" y="-1.9" width="4.1" height="3.7" rx="0.6" fill="#444444"/><rect x="-1.7" y="-1.7" width="3.4" height="2.0" rx="0.5" fill="#f8f8f8"/></g><rect x="-3.0" y="-2.2" width="6.1" height="4.4" rx="0.6" fill="#505050" transform="translate(1468.8,460.9) rotate(-22.6)"/><g transform="translate(1474.7,458.5) rotate(-22.6)"><rect x="-2.1" y="-1.8" width="4.1" height="3.7" rx="0.6" fill="#444444"/><rect x="-1.7" y="-1.6" width="3.4" height="2.0" rx="0.5" fill="#f8f8f8"/></g><rect x="-1.6" y="-1.8" width="3.3" height="3.7" rx="0.6" fill="#767b84" transform="translate(1481.0,455.9) rotate(-22.6)"/><g transform="translate(1488.3,452.8) rotate(-22.6)"><rect x="-2.1" y="-1.8" width="4.1" height="3.7" rx="0.6" fill="#444444"/><rect x="-1.7" y="-1.6" width="3.4" height="2.0" rx="0.5" fill="#f8f8f8"/></g><rect x="-3.7" y="-2.5" width="7.4" height="5.0" rx="0.6" fill="#a6a6a6" transform="translate(1497.9,448.8) rotate(-22.6)"/><g transform="translate(1502.9,446.7) rotate(-22.6)"><rect x="-2.1" y="-1.8" width="4.1" height="3.7" rx="0.6" fill="#444444"/><rect x="-1.7" y="-1.6" width="3.4" height="2.0" rx="0.5" fill="#f8f8f8"/></g><rect x="-3.0" y="-2.2" width="6.1" height="4.4" rx="0.6" fill="#505050" transform="translate(1508.7,444.3) rotate(-22.6)"/><g transform="translate(1514.8,441.8) rotate(-22.6)"><rect x="-2.1" y="-1.8" width="4.1" height="3.6" rx="0.6" fill="#444444"/><rect x="-1.7" y="-1.6" width="3.4" height="2.0" rx="0.5" fill="#f8f8f8"/></g><rect x="-1.6" y="-1.8" width="3.3" height="3.6" rx="0.6" fill="#767b84" transform="translate(1521.2,439.1) rotate(-22.6)"/><g transform="translate(1528.2,436.2) rotate(-22.6)"><rect x="-2.1" y="-1.8" width="4.1" height="3.6" rx="0.6" fill="#444444"/><rect x="-1.7" y="-1.6" width="3.4" height="2.0" rx="0.5" fill="#f8f8f8"/></g><rect x="-3.7" y="-2.5" width="7.4" height="4.9" rx="0.6" fill="#a6a6a6" transform="translate(1538.0,432.1) rotate(-22.6)"/><g transform="translate(1542.9,430.1) rotate(-22.6)"><rect x="-2.1" y="-1.8" width="4.1" height="3.6" rx="0.6" fill="#444444"/><rect x="-1.7" y="-1.6" width="3.4" height="2.0" rx="0.5" fill="#f8f8f8"/></g><rect x="-3.0" y="-2.2" width="6.1" height="4.3" rx="0.6" fill="#505050" transform="translate(1548.9,427.6) rotate(-22.6)"/><g transform="translate(1555.0,425.1) rotate(-22.6)"><rect x="-2.1" y="-1.8" width="4.1" height="3.6" rx="0.6" fill="#444444"/><rect x="-1.7" y="-1.6" width="3.4" height="2.0" rx="0.5" fill="#f8f8f8"/></g><rect x="-1.6" y="-1.8" width="3.3" height="3.6" rx="0.6" fill="#767b84" transform="translate(1561.3,422.4) rotate(-22.6)"/>
<polygon points="1561.6,419.4 1584.9,412.2 1587.8,418.0 1567.4,426.7" fill="url(#slv)" stroke="#c8c8c8" stroke-width="0.6"/>
<polygon points="481.1,539.6 479.1,540.1 477.2,540.6 475.2,541.1 473.3,541.6 471.4,542.1 469.5,542.6 467.5,543.1 465.6,543.6 463.7,544.1 461.7,544.6 459.8,545.0 457.9,545.5 455.9,545.9 454.0,546.4 452.0,546.9 450.0,547.3 448.1,547.8 446.2,548.3 444.2,548.8 442.3,549.2 440.4,549.6 438.5,550.0 436.6,550.4 434.7,550.8 432.8,551.0 431.0,551.3 429.1,551.4 427.2,551.5 425.4,551.5 423.5,551.4 421.7,551.3 419.8,551.1 418.0,550.8 416.2,550.5 414.4,550.0 412.7,549.5 411.0,548.9 409.4,548.2 407.8,547.4 406.3,546.5 404.9,545.5 403.5,544.4 402.1,543.2 400.8,542.0 399.5,540.6 398.3,539.3 397.2,537.8 396.2,536.4 395.3,534.9 394.6,533.4 394.0,531.8 393.5,530.3 393.2,528.7 393.1,527.1 393.1,525.5 393.3,523.9 393.7,522.3 394.3,520.8 395.0,519.3 395.9,517.8 396.8,516.4 397.9,514.9 399.1,513.5 400.3,512.2 401.7,510.9 403.0,509.6 404.4,508.4 405.9,507.3 407.4,506.1 408.9,505.1 410.5,504.0 412.2,503.0 413.8,502.1 415.5,501.2 417.2,500.3 418.9,499.4 420.7,498.6 422.5,497.8 424.3,497.0 426.1,496.2 427.9,495.4 429.7,494.6 431.5,493.9 433.4,493.2 435.2,492.5 437.0,491.8 438.9,491.1 440.8,490.4 442.6,489.7 444.5,489.1 446.4,488.4 448.3,487.8 450.1,487.1 452.0,486.5 453.9,485.8 455.8,485.2 457.7,484.5 459.6,483.9 461.5,483.3 463.4,482.6 465.3,482.0 467.2,481.3 469.1,480.7 471.0,480.0 472.9,479.4 474.8,478.7 476.7,478.1 478.6,477.4 480.5,476.8 482.4,476.1 484.3,475.5 486.1,474.8 488.0,474.2 489.9,473.6 491.8,472.9 493.7,472.3 495.6,471.6 497.5,471.0 499.4,470.4 501.3,469.7 503.2,469.1 505.1,468.5 507.0,467.8 508.9,467.2 510.8,466.6 512.7,465.9 514.6,465.3 516.5,464.7 518.4,464.0 520.3,463.4 522.2,462.8 524.1,462.1 521.9,455.5 520.0,456.1 518.1,456.7 516.2,457.4 514.3,458.0 512.4,458.6 510.5,459.3 508.6,459.9 506.7,460.5 504.8,461.2 502.9,461.8 501.0,462.4 499.1,463.0 497.2,463.7 495.3,464.3 493.4,464.9 491.5,465.6 489.6,466.2 487.7,466.8 485.8,467.5 483.9,468.1 482.0,468.7 480.1,469.4 478.2,470.0 476.3,470.6 474.4,471.3 472.5,471.9 470.6,472.5 468.7,473.2 466.8,473.8 464.9,474.4 463.0,475.1 461.1,475.7 459.2,476.3 457.3,477.0 455.4,477.6 453.5,478.2 451.6,478.8 449.7,479.5 447.8,480.1 445.9,480.8 444.0,481.4 442.1,482.1 440.2,482.7 438.2,483.4 436.3,484.1 434.4,484.8 432.5,485.5 430.6,486.2 428.7,486.9 426.8,487.7 425.0,488.5 423.1,489.3 421.2,490.1 419.4,490.9 417.5,491.7 415.6,492.6 413.8,493.5 411.9,494.5 410.1,495.5 408.3,496.5 406.5,497.6 404.7,498.8 403.0,500.0 401.3,501.2 399.6,502.6 398.0,504.0 396.4,505.4 394.9,506.9 393.4,508.5 392.0,510.2 390.6,512.0 389.4,513.8 388.3,515.8 387.3,517.9 386.4,520.1 385.9,522.5 385.6,524.9 385.5,527.3 385.7,529.7 386.1,532.0 386.8,534.3 387.7,536.4 388.7,538.5 389.9,540.5 391.1,542.3 392.5,544.0 393.9,545.7 395.4,547.3 397.0,548.8 398.7,550.2 400.4,551.6 402.3,552.9 404.2,554.0 406.2,555.0 408.3,555.9 410.3,556.6 412.4,557.3 414.6,557.8 416.7,558.2 418.8,558.5 421.0,558.7 423.1,558.9 425.3,559.0 427.4,559.0 429.6,558.9 431.7,558.7 433.8,558.4 435.9,558.1 437.9,557.8 440.0,557.3 442.0,556.9 444.0,556.5 445.9,556.0 447.9,555.5 449.9,555.0 451.8,554.6 453.7,554.1 455.7,553.6 457.6,553.2 459.6,552.7 461.5,552.3 463.5,551.8 465.4,551.3 467.4,550.8 469.4,550.3 471.3,549.8 473.2,549.3 475.2,548.8 477.1,548.3 479.1,547.8 481.0,547.3 482.9,546.8" fill="#5c5c5c"/><polygon points="481.3,540.7 479.4,541.2 477.5,541.7 475.5,542.2 473.6,542.7 471.7,543.2 469.7,543.7 467.8,544.2 465.9,544.7 463.9,545.2 462.0,545.7 460.1,546.1 458.1,546.6 456.2,547.0 454.2,547.5 452.3,547.9 450.3,548.4 448.4,548.9 446.4,549.4 444.5,549.8 442.6,550.3 440.6,550.7 438.7,551.1 436.8,551.5 434.9,551.9 433.0,552.2 431.1,552.4 429.2,552.5 427.3,552.6 425.4,552.6 423.5,552.5 421.6,552.4 419.7,552.2 417.8,551.9 416.0,551.6 414.1,551.1 412.4,550.6 410.6,549.9 408.9,549.2 407.3,548.4 405.7,547.5 404.2,546.4 402.7,545.3 401.3,544.0 400.0,542.8 398.7,541.4 397.5,540.0 396.3,538.5 395.3,537.0 394.3,535.4 393.6,533.8 392.9,532.2 392.4,530.5 392.1,528.8 391.9,527.1 392.0,525.4 392.2,523.7 392.6,522.0 393.2,520.4 394.0,518.8 394.9,517.2 395.9,515.7 397.0,514.2 398.2,512.8 399.5,511.4 400.9,510.1 402.3,508.8 403.7,507.5 405.2,506.3 406.7,505.2 408.3,504.1 409.9,503.1 411.6,502.1 413.2,501.1 415.0,500.2 416.7,499.3 418.4,498.4 420.2,497.6 422.0,496.7 423.8,495.9 425.6,495.1 427.5,494.4 429.3,493.6 431.1,492.8 432.9,492.1 434.8,491.4 436.6,490.7 438.5,490.0 440.4,489.3 442.3,488.7 444.1,488.0 446.0,487.4 447.9,486.7 449.8,486.1 451.7,485.4 453.6,484.8 455.5,484.1 457.4,483.5 459.3,482.9 461.2,482.2 463.1,481.6 465.0,480.9 466.9,480.3 468.8,479.6 470.7,479.0 472.5,478.3 474.4,477.7 476.3,477.0 478.2,476.4 480.1,475.8 482.0,475.1 483.9,474.5 485.8,473.8 487.7,473.2 489.6,472.6 491.5,471.9 493.4,471.3 495.3,470.6 497.2,470.0 499.1,469.4 501.0,468.7 502.9,468.1 504.8,467.5 506.7,466.8 508.6,466.2 510.5,465.6 512.4,464.9 514.3,464.3 516.2,463.7 518.1,463.0 520.0,462.4 521.9,461.8 523.8,461.1 522.2,456.5 520.3,457.1 518.4,457.7 516.5,458.4 514.6,459.0 512.7,459.6 510.8,460.3 508.9,460.9 507.0,461.5 505.1,462.2 503.2,462.8 501.3,463.4 499.4,464.0 497.5,464.7 495.6,465.3 493.7,465.9 491.8,466.6 489.9,467.2 488.0,467.8 486.1,468.5 484.2,469.1 482.3,469.7 480.4,470.4 478.5,471.0 476.6,471.6 474.7,472.3 472.8,472.9 470.9,473.6 469.0,474.2 467.1,474.8 465.2,475.5 463.3,476.1 461.4,476.7 459.5,477.4 457.6,478.0 455.7,478.6 453.8,479.3 451.9,479.9 450.0,480.5 448.1,481.2 446.2,481.8 444.3,482.5 442.4,483.1 440.5,483.8 438.6,484.4 436.7,485.1 434.8,485.8 432.9,486.5 431.0,487.2 429.2,488.0 427.3,488.7 425.4,489.5 423.5,490.3 421.7,491.1 419.8,491.9 418.0,492.8 416.1,493.6 414.3,494.5 412.5,495.5 410.7,496.5 408.9,497.5 407.1,498.6 405.3,499.7 403.6,500.9 402.0,502.1 400.3,503.4 398.7,504.8 397.2,506.2 395.7,507.7 394.2,509.3 392.9,510.9 391.6,512.6 390.4,514.4 389.3,516.3 388.3,518.4 387.5,520.5 387.0,522.7 386.7,525.0 386.6,527.2 386.8,529.5 387.3,531.7 387.9,533.9 388.7,536.0 389.7,538.0 390.8,539.8 392.1,541.6 393.4,543.3 394.8,544.9 396.2,546.5 397.8,548.0 399.4,549.4 401.1,550.7 402.9,551.9 404.8,553.0 406.7,554.0 408.7,554.8 410.7,555.6 412.7,556.2 414.8,556.7 416.9,557.1 419.0,557.4 421.1,557.6 423.2,557.8 425.3,557.8 427.4,557.8 429.5,557.8 431.6,557.6 433.7,557.3 435.7,557.0 437.7,556.7 439.7,556.3 441.7,555.8 443.7,555.4 445.7,554.9 447.6,554.4 449.6,554.0 451.5,553.5 453.5,553.0 455.4,552.5 457.3,552.1 459.3,551.6 461.3,551.2 463.2,550.7 465.2,550.2 467.1,549.7 469.1,549.2 471.0,548.7 473.0,548.2 474.9,547.7 476.8,547.2 478.8,546.7 480.7,546.2 482.7,545.7" fill="#666666"/><polygon points="481.9,542.6 479.9,543.1 478.0,543.6 476.0,544.1 474.1,544.7 472.2,545.2 470.2,545.7 468.3,546.2 466.4,546.6 464.4,547.1 462.5,547.6 460.5,548.1 458.6,548.5 456.6,549.0 454.7,549.4 452.7,549.9 450.8,550.4 448.8,550.9 446.9,551.3 444.9,551.8 443.0,552.3 441.1,552.7 439.1,553.1 437.2,553.5 435.2,553.8 433.2,554.1 431.3,554.4 429.3,554.6 427.3,554.6 425.3,554.6 423.4,554.6 421.4,554.4 419.4,554.2 417.5,553.9 415.5,553.5 413.6,553.1 411.7,552.5 409.9,551.8 408.1,551.0 406.3,550.2 404.6,549.2 403.0,548.1 401.4,546.8 400.0,545.6 398.5,544.2 397.2,542.8 395.9,541.3 394.7,539.7 393.6,538.1 392.6,536.4 391.7,534.7 391.0,532.9 390.4,531.0 390.1,529.1 389.9,527.2 389.9,525.2 390.2,523.3 390.7,521.4 391.3,519.6 392.2,517.8 393.2,516.1 394.2,514.5 395.4,512.9 396.7,511.4 398.0,510.0 399.4,508.6 400.9,507.2 402.4,506.0 403.9,504.7 405.5,503.5 407.2,502.4 408.8,501.3 410.5,500.3 412.2,499.3 414.0,498.4 415.8,497.4 417.6,496.6 419.4,495.7 421.2,494.9 423.0,494.1 424.8,493.3 426.7,492.5 428.5,491.7 430.4,491.0 432.2,490.2 434.1,489.5 435.9,488.8 437.8,488.1 439.7,487.5 441.6,486.8 443.5,486.1 445.4,485.5 447.3,484.8 449.2,484.2 451.0,483.5 452.9,482.9 454.8,482.2 456.7,481.6 458.6,481.0 460.5,480.3 462.4,479.7 464.3,479.1 466.2,478.4 468.1,477.8 470.0,477.1 471.9,476.5 473.8,475.9 475.7,475.2 477.6,474.6 479.5,473.9 481.4,473.3 483.3,472.6 485.2,472.0 487.1,471.4 489.0,470.7 490.9,470.1 492.8,469.5 494.7,468.8 496.6,468.2 498.5,467.6 500.4,466.9 502.3,466.3 504.2,465.7 506.1,465.0 508.0,464.4 509.9,463.8 511.8,463.1 513.7,462.5 515.6,461.9 517.5,461.2 519.4,460.6 521.3,460.0 523.2,459.3 522.8,458.3 520.9,458.9 519.0,459.5 517.1,460.2 515.2,460.8 513.3,461.4 511.4,462.1 509.5,462.7 507.6,463.3 505.7,464.0 503.8,464.6 501.9,465.2 500.0,465.9 498.1,466.5 496.2,467.1 494.3,467.7 492.4,468.4 490.5,469.0 488.6,469.7 486.7,470.3 484.8,470.9 482.9,471.6 481.0,472.2 479.1,472.8 477.2,473.5 475.3,474.1 473.4,474.8 471.5,475.4 469.7,476.1 467.8,476.7 465.9,477.3 464.0,478.0 462.1,478.6 460.2,479.2 458.3,479.9 456.4,480.5 454.5,481.1 452.6,481.8 450.7,482.4 448.8,483.1 446.9,483.7 445.0,484.3 443.1,485.0 441.2,485.7 439.3,486.3 437.4,487.0 435.5,487.7 433.7,488.4 431.8,489.1 429.9,489.9 428.0,490.6 426.2,491.4 424.3,492.2 422.5,493.0 420.7,493.8 418.8,494.6 417.0,495.5 415.2,496.4 413.4,497.3 411.7,498.2 409.9,499.3 408.2,500.3 406.5,501.4 404.8,502.6 403.2,503.8 401.6,505.0 400.1,506.3 398.6,507.7 397.2,509.1 395.8,510.6 394.5,512.2 393.3,513.8 392.1,515.5 391.1,517.3 390.2,519.1 389.5,521.1 389.0,523.1 388.7,525.1 388.7,527.2 388.9,529.2 389.2,531.3 389.8,533.2 390.6,535.2 391.5,537.0 392.5,538.7 393.7,540.4 395.0,542.0 396.3,543.6 397.7,545.0 399.1,546.4 400.7,547.8 402.3,549.0 404.0,550.2 405.7,551.2 407.6,552.1 409.4,552.9 411.3,553.6 413.3,554.2 415.3,554.7 417.3,555.1 419.3,555.4 421.3,555.6 423.3,555.8 425.3,555.8 427.3,555.8 429.4,555.7 431.4,555.6 433.4,555.3 435.4,555.0 437.4,554.7 439.3,554.3 441.3,553.9 443.3,553.4 445.2,553.0 447.2,552.5 449.1,552.0 451.1,551.5 453.0,551.0 454.9,550.6 456.9,550.1 458.8,549.7 460.8,549.2 462.7,548.8 464.7,548.3 466.6,547.8 468.6,547.3 470.5,546.8 472.5,546.3 474.4,545.8 476.3,545.3 478.3,544.8 480.2,544.3 482.1,543.8" fill="#6d6d6d"/>
<polygon points="523.4,461.1 524.4,460.7 525.4,460.4 526.4,460.1 527.5,459.7 528.6,459.4 529.7,459.0 530.8,458.6 532.0,458.2 533.2,457.9 534.4,457.5 535.7,457.0 536.9,456.6 538.2,456.2 539.6,455.8 540.9,455.3 542.3,454.9 543.7,454.4 545.2,453.9 546.6,453.4 548.1,453.0 549.6,452.5 551.1,452.0 552.7,451.4 554.3,450.9 555.9,450.4 557.5,449.9 559.1,449.3 560.8,448.8 562.5,448.2 564.2,447.7 565.9,447.1 567.7,446.5 569.4,445.9 571.2,445.4 573.0,444.8 574.8,444.2 576.7,443.6 578.6,442.9 580.4,442.3 582.3,441.7 584.3,441.1 586.2,440.4 588.1,439.8 590.1,439.2 592.1,438.5 594.1,437.8 596.1,437.2 598.1,436.5 600.2,435.8 602.3,435.2 604.3,434.5 606.4,433.8 608.5,433.1 610.6,432.4 612.8,431.7 614.9,431.0 617.1,430.3 619.2,429.6 621.4,428.9 623.6,428.2 625.8,427.4 628.0,426.7 630.2,426.0 632.5,425.3 634.7,424.5 637.0,423.8 639.2,423.1 641.5,422.3 643.8,421.6 646.1,420.8 648.4,420.1 650.7,419.3 653.0,418.6 655.3,417.8 657.6,417.0 659.9,416.3 662.3,415.5 664.6,414.8 667.0,414.0 669.3,413.2 671.7,412.5 674.0,411.7 676.4,410.9 678.8,410.1 681.1,409.4 683.5,408.6 685.9,407.8 688.3,407.0 690.7,406.3 693.0,405.5 695.4,404.7 697.8,403.9 700.2,403.2 702.0,402.6 703.6,402.1 705.2,401.5 706.9,401.0 708.6,400.5 710.3,399.9 712.0,399.3 713.7,398.8 715.5,398.2 717.3,397.6 719.0,397.1 720.9,396.5 722.7,395.9 724.5,395.3 726.4,394.7 728.3,394.1 730.2,393.4 732.1,392.8 734.0,392.2 736.0,391.6 738.0,390.9 739.9,390.3 741.9,389.6 743.9,389.0 746.0,388.3 748.0,387.7 750.0,387.0 752.1,386.4 754.2,385.7 756.2,385.0 758.3,384.3 760.4,383.7 762.6,383.0 764.7,382.3 766.8,381.6 769.0,380.9 771.1,380.2 773.3,379.5 775.4,378.8 777.6,378.1 779.8,377.4 782.0,376.7 784.2,376.0 786.4,375.3 788.6,374.5 790.8,373.8 793.0,373.1 795.3,372.4 797.5,371.7 799.7,371.0 802.0,370.2 804.2,369.5 806.4,368.8 808.7,368.1 810.9,367.3 813.2,366.6 815.4,365.9 817.7,365.2 819.9,364.4 822.2,363.7 824.4,363.0 826.7,362.2 828.9,361.5 831.2,360.8 833.4,360.1 835.7,359.3 837.9,358.6 840.1,357.9 842.4,357.2 844.6,356.5 846.8,355.7 849.0,355.0 851.3,354.3 853.5,353.6 855.7,352.9 857.9,352.2 860.1,351.5 862.2,350.8 864.4,350.1 866.6,349.4 868.8,348.7 870.9,348.0 873.1,347.3 875.2,346.6 877.3,345.9 879.4,345.2 881.5,344.5 883.6,343.9 885.7,343.2 887.8,342.5 889.8,341.9 891.9,341.2 893.9,340.5 895.9,339.9 897.9,339.2 899.9,338.6 901.9,338.0 903.9,337.3 905.8,336.7 907.8,336.1 909.7,335.5 911.6,334.8 913.5,334.2 915.3,333.6 917.2,333.0 919.0,332.4 920.8,331.9 922.6,331.3 924.4,330.7 926.2,330.1 927.9,329.6 929.6,329.0 931.3,328.5 933.0,327.9 934.7,327.4 936.3,326.9 937.9,326.3 939.5,325.8 941.1,325.3 942.6,324.8 944.1,324.3 945.6,323.9 947.1,323.4 948.6,322.9 950.0,322.5 951.4,322.0 952.7,321.6 954.1,321.1 955.4,320.7 956.7,320.3 958.0,319.9 959.2,319.5 960.4,319.1 961.6,318.7 962.7,318.3 963.9,318.0 965.0,317.6 966.0,317.3 967.0,316.9 968.0,316.6 969.0,316.3 967.1,312.7 966.1,313.0 965.0,313.4 964.0,313.7 962.9,314.0 961.8,314.4 960.6,314.8 959.5,315.1 958.3,315.5 957.0,315.9 955.8,316.3 954.5,316.7 953.2,317.1 951.8,317.6 950.5,318.0 949.1,318.4 947.7,318.9 946.2,319.4 944.8,319.8 943.3,320.3 941.7,320.8 940.2,321.3 938.6,321.8 937.1,322.3 935.4,322.8 933.8,323.3 932.2,323.8 930.5,324.4 928.8,324.9 927.1,325.4 925.3,326.0 923.6,326.6 921.8,327.1 920.0,327.7 918.2,328.3 916.4,328.9 914.5,329.4 912.6,330.0 910.8,330.6 908.9,331.2 906.9,331.8 905.0,332.5 903.1,333.1 901.1,333.7 899.1,334.3 897.1,335.0 895.1,335.6 893.1,336.2 891.1,336.9 889.0,337.5 887.0,338.2 884.9,338.9 882.8,339.5 880.7,340.2 878.6,340.9 876.5,341.5 874.4,342.2 872.2,342.9 870.1,343.6 867.9,344.3 865.8,344.9 863.6,345.6 861.4,346.3 859.2,347.0 857.0,347.7 854.8,348.4 852.6,349.1 850.4,349.8 848.2,350.5 846.0,351.2 843.8,351.9 841.5,352.7 839.3,353.4 837.1,354.1 834.8,354.8 832.6,355.5 830.3,356.2 828.1,356.9 825.8,357.7 823.6,358.4 821.3,359.1 819.1,359.8 816.8,360.5 814.6,361.2 812.3,362.0 810.1,362.7 807.8,363.4 805.6,364.1 803.3,364.8 801.1,365.5 798.8,366.2 796.6,367.0 794.4,367.7 792.1,368.4 789.9,369.1 787.7,369.8 785.5,370.5 783.3,371.2 781.1,371.9 778.9,372.6 776.7,373.3 774.5,374.0 772.3,374.7 770.2,375.4 768.0,376.1 765.8,376.7 763.7,377.4 761.6,378.1 759.5,378.8 757.3,379.5 755.3,380.1 753.2,380.8 751.1,381.5 749.0,382.1 747.0,382.8 744.9,383.4 742.9,384.1 740.9,384.7 738.9,385.3 736.9,386.0 734.9,386.6 733.0,387.2 731.0,387.8 729.1,388.5 727.2,389.1 725.3,389.7 723.4,390.3 721.6,390.9 719.8,391.5 717.9,392.0 716.1,392.6 714.3,393.2 712.6,393.7 710.8,394.3 709.1,394.9 707.4,395.4 705.7,395.9 704.1,396.5 702.4,397.0 700.8,397.5 699.2,398.0 696.8,398.8 694.4,399.6 692.0,400.3 689.6,401.1 687.3,401.9 684.9,402.6 682.5,403.4 680.1,404.1 677.7,404.9 675.4,405.7 673.0,406.4 670.6,407.2 668.3,408.0 665.9,408.7 663.5,409.5 661.2,410.2 658.9,411.0 656.5,411.7 654.2,412.5 651.9,413.2 649.6,414.0 647.2,414.7 644.9,415.5 642.7,416.2 640.4,416.9 638.1,417.7 635.8,418.4 633.6,419.1 631.3,419.8 629.1,420.6 626.9,421.3 624.6,422.0 622.4,422.7 620.2,423.4 618.1,424.1 615.9,424.8 613.7,425.5 611.6,426.2 609.4,426.9 607.3,427.6 605.2,428.3 603.1,429.0 601.0,429.6 599.0,430.3 596.9,431.0 594.9,431.6 592.8,432.3 590.8,432.9 588.8,433.6 586.9,434.2 584.9,434.8 583.0,435.5 581.0,436.1 579.1,436.7 577.2,437.3 575.4,437.9 573.5,438.5 571.7,439.1 569.9,439.7 568.1,440.3 566.3,440.9 564.5,441.4 562.8,442.0 561.1,442.6 559.4,443.1 557.7,443.6 556.1,444.2 554.4,444.7 552.8,445.2 551.3,445.7 549.7,446.2 548.2,446.7 546.6,447.2 545.2,447.7 543.7,448.2 542.2,448.7 540.8,449.1 539.4,449.6 538.1,450.0 536.7,450.4 535.4,450.9 534.1,451.3 532.9,451.7 531.6,452.1 530.4,452.5 529.3,452.9 528.1,453.2 527.0,453.6 525.9,454.0 524.8,454.3 523.8,454.6 522.8,455.0 521.8,455.3 521.6,455.3" fill="#ababab" stroke="#858585" stroke-width="0.8" stroke-linejoin="round"/><rect x="-4.2" y="-2.5" width="8.4" height="5.0" rx="0.6" fill="#a6a6a6" transform="translate(528.5,456.3) rotate(-18.0)"/><g transform="translate(534.1,454.4) rotate(-18.1)"><rect x="-2.4" y="-1.8" width="4.7" height="3.7" rx="0.6" fill="#444444"/><rect x="-2.0" y="-1.6" width="4.0" height="1.5" rx="0.5" fill="#f8f8f8"/></g><rect x="-3.5" y="-2.2" width="6.9" height="4.4" rx="0.6" fill="#505050" transform="translate(541.0,452.2) rotate(-18.1)"/><g transform="translate(548.7,449.7) rotate(-18.1)"><rect x="-2.4" y="-1.8" width="4.7" height="3.6" rx="0.6" fill="#444444"/><rect x="-2.0" y="-1.6" width="4.0" height="1.5" rx="0.5" fill="#f8f8f8"/></g><rect x="-1.9" y="-1.8" width="3.7" height="3.6" rx="0.6" fill="#767b84" transform="translate(555.8,447.4) rotate(-18.1)"/><g transform="translate(564.6,444.5) rotate(-18.1)"><rect x="-2.4" y="-1.8" width="4.7" height="3.6" rx="0.6" fill="#444444"/><rect x="-2.0" y="-1.6" width="4.0" height="1.5" rx="0.5" fill="#f8f8f8"/></g><rect x="-4.2" y="-2.4" width="8.4" height="4.8" rx="0.6" fill="#a6a6a6" transform="translate(575.8,440.8) rotate(-18.1)"/><g transform="translate(581.4,439.0) rotate(-18.1)"><rect x="-2.4" y="-1.8" width="4.7" height="3.6" rx="0.6" fill="#444444"/><rect x="-2.0" y="-1.6" width="4.0" height="1.5" rx="0.5" fill="#f8f8f8"/></g><rect x="-3.5" y="-2.1" width="7.0" height="4.2" rx="0.6" fill="#505050" transform="translate(588.2,436.8) rotate(-18.1)"/><g transform="translate(595.7,434.3) rotate(-18.0)"><rect x="-2.4" y="-1.8" width="4.7" height="3.5" rx="0.6" fill="#444444"/><rect x="-2.0" y="-1.6" width="4.0" height="1.5" rx="0.5" fill="#f8f8f8"/></g><rect x="-1.9" y="-1.7" width="3.7" height="3.5" rx="0.6" fill="#767b84" transform="translate(602.9,432.0) rotate(-18.0)"/><g transform="translate(611.9,429.1) rotate(-18.0)"><rect x="-2.4" y="-1.7" width="4.7" height="3.5" rx="0.6" fill="#444444"/><rect x="-2.0" y="-1.5" width="4.0" height="1.5" rx="0.5" fill="#f8f8f8"/></g><rect x="-4.2" y="-2.3" width="8.5" height="4.7" rx="0.6" fill="#a6a6a6" transform="translate(623.3,425.4) rotate(-18.0)"/><g transform="translate(628.8,423.6) rotate(-18.0)"><rect x="-2.4" y="-1.7" width="4.7" height="3.4" rx="0.6" fill="#444444"/><rect x="-2.0" y="-1.5" width="4.0" height="1.4" rx="0.5" fill="#f8f8f8"/></g><rect x="-3.4" y="-2.0" width="6.8" height="4.1" rx="0.6" fill="#505050" transform="translate(636.1,421.2) rotate(-18.0)"/><g transform="translate(642.9,419.0) rotate(-18.0)"><rect x="-2.3" y="-1.7" width="4.6" height="3.4" rx="0.6" fill="#444444"/><rect x="-2.0" y="-1.5" width="3.9" height="1.4" rx="0.5" fill="#f8f8f8"/></g><rect x="-1.8" y="-1.7" width="3.6" height="3.4" rx="0.6" fill="#767b84" transform="translate(650.4,416.5) rotate(-18.0)"/><g transform="translate(658.5,413.9) rotate(-18.0)"><rect x="-2.3" y="-1.7" width="4.6" height="3.3" rx="0.6" fill="#444444"/><rect x="-2.0" y="-1.5" width="3.9" height="1.4" rx="0.5" fill="#f8f8f8"/></g><rect x="-4.1" y="-2.2" width="8.3" height="4.5" rx="0.6" fill="#a6a6a6" transform="translate(669.7,410.3) rotate(-17.9)"/><g transform="translate(675.0,408.6) rotate(-17.9)"><rect x="-2.3" y="-1.6" width="4.6" height="3.3" rx="0.6" fill="#444444"/><rect x="-2.0" y="-1.4" width="3.9" height="1.4" rx="0.5" fill="#f8f8f8"/></g><rect x="-3.3" y="-2.0" width="6.6" height="3.9" rx="0.6" fill="#505050" transform="translate(682.1,406.3) rotate(-17.9)"/><g transform="translate(689.3,404.0) rotate(-17.9)"><rect x="-2.3" y="-1.6" width="4.5" height="3.3" rx="0.6" fill="#444444"/><rect x="-1.9" y="-1.4" width="3.8" height="1.4" rx="0.5" fill="#f8f8f8"/></g><rect x="-1.8" y="-1.6" width="3.6" height="3.2" rx="0.6" fill="#767b84" transform="translate(695.8,401.8) rotate(-17.9)"/><g transform="translate(704.0,399.2) rotate(-17.9)"><rect x="-2.3" y="-1.6" width="4.5" height="3.2" rx="0.6" fill="#444444"/><rect x="-1.9" y="-1.4" width="3.8" height="1.4" rx="0.5" fill="#f8f8f8"/></g><rect x="-4.0" y="-2.2" width="8.1" height="4.3" rx="0.6" fill="#a6a6a6" transform="translate(715.1,395.6) rotate(-17.8)"/><g transform="translate(720.5,393.9) rotate(-17.8)"><rect x="-2.3" y="-1.6" width="4.5" height="3.2" rx="0.6" fill="#444444"/><rect x="-1.9" y="-1.4" width="3.8" height="1.3" rx="0.5" fill="#f8f8f8"/></g><rect x="-3.2" y="-1.9" width="6.5" height="3.8" rx="0.6" fill="#505050" transform="translate(727.0,391.8) rotate(-17.8)"/><g transform="translate(734.2,389.5) rotate(-17.8)"><rect x="-2.2" y="-1.6" width="4.4" height="3.1" rx="0.6" fill="#444444"/><rect x="-1.8" y="-1.4" width="3.7" height="1.3" rx="0.5" fill="#f8f8f8"/></g><rect x="-1.7" y="-1.6" width="3.5" height="3.1" rx="0.6" fill="#767b84" transform="translate(740.7,387.4) rotate(-17.8)"/><g transform="translate(748.8,384.8) rotate(-17.8)"><rect x="-2.2" y="-1.5" width="4.4" height="3.1" rx="0.6" fill="#444444"/><rect x="-1.8" y="-1.3" width="3.7" height="1.3" rx="0.5" fill="#f8f8f8"/></g><rect x="-3.9" y="-2.1" width="7.9" height="4.1" rx="0.6" fill="#a6a6a6" transform="translate(759.2,381.5) rotate(-17.8)"/><g transform="translate(764.5,379.8) rotate(-17.8)"><rect x="-2.2" y="-1.5" width="4.4" height="3.0" rx="0.6" fill="#444444"/><rect x="-1.8" y="-1.3" width="3.7" height="1.3" rx="0.5" fill="#f8f8f8"/></g><rect x="-3.1" y="-1.8" width="6.3" height="3.6" rx="0.6" fill="#505050" transform="translate(770.9,377.7) rotate(-17.8)"/><g transform="translate(778.0,375.4) rotate(-17.8)"><rect x="-2.1" y="-1.5" width="4.3" height="3.0" rx="0.6" fill="#444444"/><rect x="-1.8" y="-1.3" width="3.6" height="1.3" rx="0.5" fill="#f8f8f8"/></g><rect x="-1.7" y="-1.5" width="3.4" height="3.0" rx="0.6" fill="#767b84" transform="translate(784.6,373.3) rotate(-17.8)"/><g transform="translate(792.3,370.8) rotate(-17.8)"><rect x="-2.1" y="-1.5" width="4.3" height="3.0" rx="0.6" fill="#444444"/><rect x="-1.8" y="-1.3" width="3.6" height="1.2" rx="0.5" fill="#f8f8f8"/></g><rect x="-3.8" y="-2.0" width="7.6" height="4.0" rx="0.6" fill="#a6a6a6" transform="translate(802.4,367.6) rotate(-17.8)"/><g transform="translate(807.4,366.0) rotate(-17.8)"><rect x="-2.1" y="-1.5" width="4.3" height="2.9" rx="0.6" fill="#444444"/><rect x="-1.8" y="-1.3" width="3.6" height="1.2" rx="0.5" fill="#f8f8f8"/></g><rect x="-3.1" y="-1.7" width="6.1" height="3.5" rx="0.6" fill="#505050" transform="translate(814.1,363.8) rotate(-17.8)"/><g transform="translate(820.3,361.8) rotate(-17.8)"><rect x="-2.1" y="-1.4" width="4.2" height="2.9" rx="0.6" fill="#444444"/><rect x="-1.7" y="-1.2" width="3.5" height="1.2" rx="0.5" fill="#f8f8f8"/></g><rect x="-1.6" y="-1.4" width="3.3" height="2.9" rx="0.6" fill="#767b84" transform="translate(827.1,359.7) rotate(-17.8)"/><g transform="translate(834.4,357.3) rotate(-17.8)"><rect x="-2.1" y="-1.4" width="4.2" height="2.9" rx="0.6" fill="#444444"/><rect x="-1.7" y="-1.2" width="3.5" height="1.2" rx="0.5" fill="#f8f8f8"/></g><rect x="-3.7" y="-1.9" width="7.4" height="3.8" rx="0.6" fill="#a6a6a6" transform="translate(844.5,354.1) rotate(-17.8)"/><g transform="translate(849.5,352.5) rotate(-17.8)"><rect x="-2.1" y="-1.4" width="4.2" height="2.8" rx="0.6" fill="#444444"/><rect x="-1.7" y="-1.2" width="3.5" height="1.2" rx="0.5" fill="#f8f8f8"/></g><rect x="-3.0" y="-1.7" width="6.0" height="3.3" rx="0.6" fill="#505050" transform="translate(855.5,350.6) rotate(-17.8)"/><g transform="translate(862.1,348.5) rotate(-17.8)"><rect x="-2.0" y="-1.4" width="4.0" height="2.8" rx="0.6" fill="#444444"/><rect x="-1.7" y="-1.2" width="3.3" height="1.2" rx="0.5" fill="#f8f8f8"/></g><rect x="-1.6" y="-1.4" width="3.2" height="2.8" rx="0.6" fill="#767b84" transform="translate(868.1,346.5) rotate(-17.8)"/><g transform="translate(875.6,344.1) rotate(-17.8)"><rect x="-2.0" y="-1.4" width="4.0" height="2.7" rx="0.6" fill="#444444"/><rect x="-1.7" y="-1.2" width="3.3" height="1.2" rx="0.5" fill="#f8f8f8"/></g><rect x="-3.6" y="-1.8" width="7.2" height="3.7" rx="0.6" fill="#a6a6a6" transform="translate(885.0,341.1) rotate(-17.8)"/><g transform="translate(890.2,339.5) rotate(-17.8)"><rect x="-2.0" y="-1.3" width="4.0" height="2.7" rx="0.6" fill="#444444"/><rect x="-1.7" y="-1.1" width="3.3" height="1.1" rx="0.5" fill="#f8f8f8"/></g><rect x="-3.0" y="-1.6" width="5.9" height="3.2" rx="0.6" fill="#505050" transform="translate(896.3,337.5) rotate(-17.8)"/><g transform="translate(902.2,335.6) rotate(-17.8)"><rect x="-2.0" y="-1.3" width="4.0" height="2.7" rx="0.6" fill="#444444"/><rect x="-1.7" y="-1.1" width="3.3" height="1.1" rx="0.5" fill="#f8f8f8"/></g><rect x="-1.6" y="-1.3" width="3.2" height="2.6" rx="0.6" fill="#767b84" transform="translate(908.6,333.6) rotate(-17.8)"/><g transform="translate(915.6,331.3) rotate(-17.8)"><rect x="-2.0" y="-1.3" width="4.0" height="2.6" rx="0.6" fill="#444444"/><rect x="-1.7" y="-1.1" width="3.3" height="1.1" rx="0.5" fill="#f8f8f8"/></g><rect x="-3.6" y="-1.8" width="7.2" height="3.5" rx="0.6" fill="#a6a6a6" transform="translate(925.5,328.1) rotate(-17.8)"/><g transform="translate(930.3,326.6) rotate(-17.8)"><rect x="-2.0" y="-1.3" width="4.0" height="2.6" rx="0.6" fill="#444444"/><rect x="-1.7" y="-1.1" width="3.3" height="1.1" rx="0.5" fill="#f8f8f8"/></g><rect x="-3.0" y="-1.5" width="5.9" height="3.1" rx="0.6" fill="#505050" transform="translate(936.5,324.6) rotate(-17.8)"/><g transform="translate(942.8,322.6) rotate(-17.8)"><rect x="-2.0" y="-1.3" width="4.0" height="2.6" rx="0.6" fill="#444444"/><rect x="-1.7" y="-1.1" width="3.3" height="1.1" rx="0.5" fill="#f8f8f8"/></g><rect x="-1.6" y="-1.3" width="3.2" height="2.5" rx="0.6" fill="#767b84" transform="translate(948.6,320.7) rotate(-17.8)"/><g transform="translate(956.1,318.3) rotate(-17.8)"><rect x="-2.0" y="-1.3" width="4.0" height="2.5" rx="0.6" fill="#444444"/><rect x="-1.7" y="-1.1" width="3.3" height="1.1" rx="0.5" fill="#f8f8f8"/></g><rect x="-3.6" y="-1.7" width="7.2" height="3.4" rx="0.6" fill="#a6a6a6" transform="translate(965.7,315.3) rotate(-17.8)"/>
<polygon points="651.0,528.0 652.9,527.3 654.8,526.7 656.7,526.0 658.6,525.4 660.5,524.7 662.4,524.1 664.3,523.4 666.2,522.8 668.1,522.1 670.0,521.5 671.9,520.8 673.8,520.2 675.7,519.5 677.6,518.9 679.5,518.2 681.4,517.6 683.3,516.9 685.2,516.3 687.0,515.6 688.9,515.0 690.8,514.3 692.7,513.7 694.6,513.0 696.5,512.4 698.4,511.7 700.3,511.1 702.2,510.4 704.1,509.8 706.0,509.1 707.9,508.5 709.8,507.8 711.7,507.2 713.6,506.5 715.5,505.9 717.4,505.2 719.3,504.6 721.2,503.9 723.1,503.3 725.0,502.6 726.9,502.0 728.8,501.3 730.6,500.7 732.5,500.0 734.4,499.4 736.3,498.7 738.2,498.0 740.1,497.4 742.0,496.7 743.9,496.1 745.8,495.4 747.7,494.8 749.6,494.1 751.5,493.5 753.4,492.8 755.3,492.1 757.2,491.5 759.1,490.8 761.0,490.2 762.9,489.5 764.8,488.9 766.6,488.2 768.5,487.5 770.4,486.9 772.3,486.2 774.2,485.6 776.1,484.9 778.0,484.2 779.9,483.6 781.8,482.9 783.7,482.2 785.6,481.6 787.5,480.9 789.4,480.2 791.2,479.6 793.1,478.9 795.0,478.3 796.9,477.6 798.8,476.9 800.7,476.3 802.6,475.6 804.5,474.9 806.4,474.3 808.3,473.6 810.2,472.9 812.0,472.3 813.9,471.6 815.8,470.9 817.7,470.3 819.6,469.6 821.5,468.9 823.4,468.3 825.3,467.6 827.2,466.9 829.1,466.3 831.0,465.6 832.8,464.9 834.7,464.3 836.6,463.6 838.5,462.9 840.4,462.3 842.3,461.6 844.2,460.9 846.1,460.3 844.1,454.7 842.2,455.4 840.3,456.0 838.4,456.7 836.6,457.4 834.7,458.0 832.8,458.7 830.9,459.4 829.0,460.0 827.1,460.7 825.2,461.4 823.3,462.0 821.4,462.7 819.5,463.4 817.6,464.0 815.8,464.7 813.9,465.3 812.0,466.0 810.1,466.7 808.2,467.3 806.3,468.0 804.4,468.7 802.5,469.3 800.6,470.0 798.7,470.6 796.8,471.3 794.9,472.0 793.1,472.6 791.2,473.3 789.3,473.9 787.4,474.6 785.5,475.3 783.6,475.9 781.7,476.6 779.8,477.2 777.9,477.9 776.0,478.6 774.1,479.2 772.2,479.9 770.3,480.5 768.5,481.2 766.6,481.8 764.7,482.5 762.8,483.1 760.9,483.8 759.0,484.4 757.1,485.1 755.2,485.7 753.3,486.4 751.4,487.1 749.5,487.7 747.6,488.4 745.7,489.0 743.8,489.6 741.9,490.3 740.0,490.9 738.1,491.6 736.2,492.2 734.3,492.9 732.4,493.5 730.5,494.2 728.7,494.8 726.8,495.5 724.9,496.1 723.0,496.8 721.1,497.4 719.2,498.1 717.3,498.7 715.4,499.4 713.5,500.0 711.6,500.7 709.7,501.3 707.8,502.0 705.9,502.6 704.0,503.2 702.1,503.9 700.2,504.5 698.3,505.2 696.4,505.8 694.5,506.5 692.6,507.1 690.7,507.8 688.8,508.4 686.9,509.1 685.0,509.7 683.1,510.4 681.2,511.0 679.3,511.7 677.4,512.3 675.5,512.9 673.6,513.6 671.7,514.2 669.8,514.9 667.9,515.5 666.1,516.2 664.2,516.8 662.3,517.5 660.4,518.1 658.5,518.8 656.6,519.4 654.7,520.1 652.8,520.7 650.9,521.4 649.0,522.0" fill="#5c5c5c"/><polygon points="650.7,527.1 652.6,526.4 654.5,525.8 656.4,525.1 658.3,524.5 660.2,523.8 662.1,523.2 664.0,522.5 665.9,521.9 667.8,521.2 669.7,520.6 671.6,519.9 673.5,519.3 675.4,518.6 677.3,518.0 679.2,517.4 681.1,516.7 683.0,516.1 684.8,515.4 686.7,514.8 688.6,514.1 690.5,513.5 692.4,512.8 694.3,512.2 696.2,511.5 698.1,510.9 700.0,510.2 701.9,509.6 703.8,508.9 705.7,508.3 707.6,507.6 709.5,507.0 711.4,506.3 713.3,505.7 715.2,505.0 717.1,504.3 719.0,503.7 720.9,503.0 722.8,502.4 724.7,501.7 726.6,501.1 728.5,500.4 730.3,499.8 732.2,499.1 734.1,498.5 736.0,497.8 737.9,497.2 739.8,496.5 741.7,495.9 743.6,495.2 745.5,494.6 747.4,493.9 749.3,493.3 751.2,492.6 753.1,491.9 755.0,491.3 756.9,490.6 758.8,490.0 760.7,489.3 762.6,488.7 764.5,488.0 766.3,487.3 768.2,486.7 770.1,486.0 772.0,485.4 773.9,484.7 775.8,484.0 777.7,483.4 779.6,482.7 781.5,482.1 783.4,481.4 785.3,480.7 787.2,480.1 789.1,479.4 790.9,478.7 792.8,478.1 794.7,477.4 796.6,476.7 798.5,476.1 800.4,475.4 802.3,474.8 804.2,474.1 806.1,473.4 808.0,472.8 809.9,472.1 811.8,471.4 813.6,470.8 815.5,470.1 817.4,469.4 819.3,468.8 821.2,468.1 823.1,467.4 825.0,466.8 826.9,466.1 828.8,465.4 830.7,464.8 832.5,464.1 834.4,463.4 836.3,462.8 838.2,462.1 840.1,461.4 842.0,460.8 843.9,460.1 845.8,459.4 844.4,455.6 842.5,456.2 840.6,456.9 838.7,457.5 836.9,458.2 835.0,458.9 833.1,459.5 831.2,460.2 829.3,460.9 827.4,461.5 825.5,462.2 823.6,462.9 821.7,463.5 819.8,464.2 817.9,464.9 816.0,465.5 814.2,466.2 812.3,466.8 810.4,467.5 808.5,468.2 806.6,468.8 804.7,469.5 802.8,470.2 800.9,470.8 799.0,471.5 797.1,472.1 795.2,472.8 793.4,473.5 791.5,474.1 789.6,474.8 787.7,475.4 785.8,476.1 783.9,476.8 782.0,477.4 780.1,478.1 778.2,478.7 776.3,479.4 774.4,480.1 772.5,480.7 770.6,481.4 768.7,482.0 766.9,482.7 765.0,483.3 763.1,484.0 761.2,484.7 759.3,485.3 757.4,486.0 755.5,486.6 753.6,487.3 751.7,487.9 749.8,488.6 747.9,489.2 746.0,489.9 744.1,490.5 742.2,491.2 740.3,491.8 738.4,492.5 736.5,493.1 734.6,493.8 732.7,494.4 730.8,495.1 729.0,495.7 727.1,496.4 725.2,497.0 723.3,497.7 721.4,498.3 719.5,499.0 717.6,499.6 715.7,500.2 713.8,500.9 711.9,501.5 710.0,502.2 708.1,502.8 706.2,503.5 704.3,504.1 702.4,504.8 700.5,505.4 698.6,506.1 696.7,506.7 694.8,507.4 692.9,508.0 691.0,508.7 689.1,509.3 687.2,510.0 685.3,510.6 683.4,511.3 681.5,511.9 679.6,512.5 677.7,513.2 675.8,513.8 673.9,514.5 672.0,515.1 670.1,515.8 668.3,516.4 666.4,517.1 664.5,517.7 662.6,518.4 660.7,519.0 658.8,519.7 656.9,520.3 655.0,521.0 653.1,521.6 651.2,522.3 649.3,522.9" fill="#666666"/><polygon points="650.2,525.5 652.1,524.8 654.0,524.2 655.9,523.5 657.7,522.9 659.6,522.2 661.5,521.6 663.4,520.9 665.3,520.3 667.2,519.6 669.1,519.0 671.0,518.3 672.9,517.7 674.8,517.0 676.7,516.4 678.6,515.7 680.5,515.1 682.4,514.5 684.3,513.8 686.2,513.2 688.1,512.5 690.0,511.9 691.9,511.2 693.8,510.6 695.7,509.9 697.6,509.3 699.5,508.6 701.4,508.0 703.3,507.3 705.2,506.7 707.1,506.0 709.0,505.4 710.8,504.7 712.7,504.1 714.6,503.4 716.5,502.8 718.4,502.1 720.3,501.5 722.2,500.8 724.1,500.2 726.0,499.5 727.9,498.9 729.8,498.2 731.7,497.6 733.6,496.9 735.5,496.3 737.4,495.6 739.3,495.0 741.2,494.3 743.1,493.7 745.0,493.0 746.9,492.3 748.8,491.7 750.7,491.0 752.6,490.4 754.4,489.7 756.3,489.1 758.2,488.4 760.1,487.8 762.0,487.1 763.9,486.5 765.8,485.8 767.7,485.1 769.6,484.5 771.5,483.8 773.4,483.2 775.3,482.5 777.2,481.8 779.1,481.2 781.0,480.5 782.8,479.9 784.7,479.2 786.6,478.5 788.5,477.9 790.4,477.2 792.3,476.6 794.2,475.9 796.1,475.2 798.0,474.6 799.9,473.9 801.8,473.2 803.7,472.6 805.5,471.9 807.4,471.2 809.3,470.6 811.2,469.9 813.1,469.3 815.0,468.6 816.9,467.9 818.8,467.3 820.7,466.6 822.6,465.9 824.5,465.3 826.3,464.6 828.2,463.9 830.1,463.3 832.0,462.6 833.9,461.9 835.8,461.3 837.7,460.6 839.6,459.9 841.5,459.3 843.4,458.6 845.3,457.9 844.9,457.1 843.1,457.7 841.2,458.4 839.3,459.0 837.4,459.7 835.5,460.4 833.6,461.0 831.7,461.7 829.8,462.4 827.9,463.0 826.0,463.7 824.1,464.4 822.3,465.0 820.4,465.7 818.5,466.4 816.6,467.0 814.7,467.7 812.8,468.4 810.9,469.0 809.0,469.7 807.1,470.3 805.2,471.0 803.3,471.7 801.5,472.3 799.6,473.0 797.7,473.7 795.8,474.3 793.9,475.0 792.0,475.7 790.1,476.3 788.2,477.0 786.3,477.6 784.4,478.3 782.5,479.0 780.6,479.6 778.7,480.3 776.9,480.9 775.0,481.6 773.1,482.3 771.2,482.9 769.3,483.6 767.4,484.2 765.5,484.9 763.6,485.5 761.7,486.2 759.8,486.9 757.9,487.5 756.0,488.2 754.1,488.8 752.2,489.5 750.3,490.1 748.4,490.8 746.6,491.4 744.7,492.1 742.8,492.7 740.9,493.4 739.0,494.0 737.1,494.7 735.2,495.3 733.3,496.0 731.4,496.6 729.5,497.3 727.6,497.9 725.7,498.6 723.8,499.2 721.9,499.9 720.0,500.5 718.1,501.2 716.2,501.8 714.3,502.5 712.4,503.1 710.5,503.8 708.6,504.4 706.7,505.1 704.8,505.7 702.9,506.4 701.0,507.0 699.1,507.7 697.3,508.3 695.4,509.0 693.5,509.6 691.6,510.3 689.7,510.9 687.8,511.6 685.9,512.2 684.0,512.9 682.1,513.5 680.2,514.1 678.3,514.8 676.4,515.4 674.5,516.1 672.6,516.7 670.7,517.4 668.8,518.0 666.9,518.7 665.0,519.3 663.1,520.0 661.2,520.6 659.3,521.3 657.4,521.9 655.5,522.6 653.6,523.2 651.7,523.9 649.8,524.5" fill="#6d6d6d"/>
<polygon points="528.3,502.5 603.3,477.5 620.0,484.0 680.7,564.1 682.3,572.5 684.0,588.6 603.3,618.2 529.5,514.0" fill="#363636" />
<polygon points="528.3,502.5 601.6,602.4 603.3,618.2 529.5,514.0" fill="#3a3a3a" />
<polygon points="601.6,602.4 682.3,572.5 684.0,588.6 603.3,618.2" fill="#353535" />
<polygon points="528.3,502.5 603.3,477.5 620.0,484.0 680.7,564.1 682.3,572.5 601.6,602.4" fill="#4c4c4c" />
<line x1="529" y1="503.5" x2="602" y2="603" stroke="#5a5a5a" stroke-width="1"/>
<polygon points="530.7,508.5 535.9,515.7 536.5,520.7 531.3,513.4" fill="#2b2b2b" />
<polygon points="538.8,519.7 544.0,526.8 544.6,532.1 539.4,524.8" fill="#2b2b2b" />
<polygon points="546.9,530.8 552.1,538.0 552.7,543.5 547.5,536.2" fill="#2b2b2b" />
<polygon points="555.0,542.0 560.2,549.2 560.8,555.0 555.6,547.7" fill="#2b2b2b" />
<polygon points="563.1,553.2 568.3,560.3 568.9,566.4 563.7,559.1" fill="#2b2b2b" />
<polygon points="571.2,564.3 576.4,571.5 577.0,577.8 571.8,570.5" fill="#2b2b2b" />
<polygon points="579.3,575.5 584.5,582.7 585.1,589.3 580.0,582.0" fill="#2b2b2b" />
<polygon points="587.4,586.7 592.5,593.8 593.3,600.7 588.1,593.4" fill="#2b2b2b" />
<polygon points="595.5,597.8 600.6,605.0 601.4,612.1 596.2,604.8" fill="#2b2b2b" />
<polygon points="563.0,521.0 591.0,512.0 626.0,553.0 598.0,562.0" fill="#525252" stroke="#424242" stroke-width="0.7"/>
<line x1="597.0" y1="492.0" x2="659.0" y2="574.0" stroke="#565656" stroke-width="1.5"/>
<line x1="598.5" y1="491.5" x2="660.5" y2="573.5" stroke="#444" stroke-width="0.6"/>
<line x1="601.0" y1="490.7" x2="663.0" y2="572.7" stroke="#565656" stroke-width="1.5"/>
<line x1="602.5" y1="490.2" x2="664.5" y2="572.2" stroke="#444" stroke-width="0.6"/>
<line x1="605.0" y1="489.4" x2="667.0" y2="571.4" stroke="#565656" stroke-width="1.5"/>
<line x1="606.5" y1="488.9" x2="668.5" y2="570.9" stroke="#444" stroke-width="0.6"/>
<line x1="609.0" y1="488.0" x2="671.0" y2="570.0" stroke="#565656" stroke-width="1.5"/>
<line x1="610.5" y1="487.5" x2="672.5" y2="569.5" stroke="#444" stroke-width="0.6"/>
<rect x="598.7" y="477.2" width="3.6" height="2.6" fill="#252525"/>
<rect x="619.2" y="486.7" width="3.6" height="2.6" fill="#252525"/>
<rect x="679.2" y="564.7" width="3.6" height="2.6" fill="#252525"/>
<rect x="605.2" y="596.7" width="3.6" height="2.6" fill="#252525"/>
<rect x="640.2" y="555.7" width="3.6" height="2.6" fill="#252525"/>
<rect x="654.2" y="538.7" width="3.6" height="2.6" fill="#252525"/>
<rect x="630.2" y="504.7" width="3.6" height="2.6" fill="#252525"/>
<text x="0" y="0" font-size="13.0" font-weight="bold" fill="#f0f0f0" textLength="58.9" lengthAdjust="spacingAndGlyphs" transform="translate(547.3,498.5) rotate(52) scale(0.62,1)">max.36W</text>
<text x="0" y="0" font-size="13.0" font-weight="bold" fill="#f0f0f0" textLength="66.9" lengthAdjust="spacingAndGlyphs" transform="translate(586.0,523.0) rotate(49) scale(0.62,1)">max. 36W</text>
<text x="0" y="0" font-size="13.0" font-weight="bold" fill="#f0f0f0" textLength="66.1" lengthAdjust="spacingAndGlyphs" transform="translate(591.3,559.7) rotate(50) scale(0.62,1)">max. 36W</text>
<path d="M538.3,509.3 L544.0,507.1 L559.0,525.7 L551.5,528.3 M544.9,518.6 L548.9,516.8" fill="none" stroke="#e6e6e6" stroke-width="0.75"/>
<path d="M560.4,538.9 L566.1,537.2 L581.6,557.5 L574.1,559.3 M566.6,549.5 L571.0,547.8" fill="none" stroke="#e6e6e6" stroke-width="0.75"/>
<path d="M582.2,570.6 L589.5,568.4 L604.4,588.5 L597.5,591.7 M589.9,581.5 L596.4,578.6" fill="none" stroke="#e6e6e6" stroke-width="0.75"/>
<polygon points="477.1,535.0 482.3,533.0 483.7,533.5 488.4,532.1 489.8,532.6 494.0,530.9 495.1,531.3 502.5,527.7 504.2,527.5 505.3,528.9 507.8,528.7 512.2,535.8 512.2,537.8 481.1,548.7 477.1,540.1" fill="#333333" />
<polygon points="477.1,535.0 507.8,528.7 512.2,535.8 481.2,542.7" fill="#3d3d3d" />
<line x1="487.1" y1="538.5" x2="505.0" y2="532.7" stroke="#242424" stroke-width="1.7"/>
<polygon points="501.7,571.7 507.1,569.6 508.5,570.2 513.3,568.7 514.8,569.2 519.1,567.5 520.3,567.9 527.9,564.2 529.6,564.0 530.8,565.4 533.3,565.2 537.9,572.5 537.9,574.6 505.8,585.8 501.7,577.0" fill="#333333" />
<polygon points="501.7,571.7 533.3,565.2 537.9,572.5 505.9,579.6" fill="#3d3d3d" />
<line x1="512.0" y1="575.3" x2="530.5" y2="569.3" stroke="#242424" stroke-width="1.7"/>
<polygon points="531.2,614.9 536.8,612.7 538.2,613.4 543.1,611.8 544.7,612.3 549.1,610.6 550.4,611.0 558.2,607.2 559.9,607.0 561.2,608.4 563.7,608.2 568.5,615.7 568.5,617.9 535.4,629.4 531.2,620.4" fill="#333333" />
<polygon points="531.2,614.9 563.7,608.2 568.5,615.7 535.5,623.0" fill="#3d3d3d" />
<line x1="541.8" y1="618.6" x2="560.9" y2="612.4" stroke="#242424" stroke-width="1.7"/>
<polygon points="836.6,435.6 841.7,428.1 841.7,421.7 878.2,410.5 1277.3,274.7 1308.0,263.4 1313.0,263.6 1337.3,282.5 1337.3,311.2 1308.6,321.2 906.3,464.6 861.7,481.5 837.5,461.8" fill="#b4b4b4" />
<polygon points="836.6,435.6 860.9,455.4 861.7,481.5 837.5,461.8" fill="#a9a9a9" />
<polygon points="860.9,455.4 906.0,439.3 906.3,466.0 861.7,481.5" fill="#8c8c8c" />
<polygon points="841.7,421.7 878.2,410.5 906.0,439.3 860.9,455.4 836.6,435.6 841.7,428.1" fill="#b8b8b8" />
<defs><linearGradient id="psuf" gradientUnits="userSpaceOnUse" x1="0" y1="0" x2="2.2" y2="6.2" spreadMethod="pad"><stop offset="0" stop-color="#ececec"/><stop offset="1" stop-color="#b8b8b8"/></linearGradient></defs>
<polygon points="906.0,438.3 1308.9,297.4 1308.9,321.5 906.0,465.5" fill="#b7b7b7" />
<polygon points="906.0,441.4 1308.9,300.2 1308.9,303.4 906.0,445.0" fill="#cbcbcb" />
<polygon points="906.0,438.3 1308.9,297.4 1308.9,300.9 906.0,442.1" fill="#e4e4e4" />
<polygon points="878.2,410.5 1277.3,274.7 1308.6,298.4 906.3,439.3" fill="#fcfcfc" />
<line x1="879.5" y1="411.6" x2="1278.5" y2="275.8" stroke="#d4d4d4" stroke-width="2.4"/>
<line x1="908" y1="437.4" x2="1306.8" y2="297.4" stroke="#c8c8c8" stroke-width="0.6"/>
<line x1="892.7" y1="408.5" x2="918.5" y2="431.5" stroke="#4e4a5e" stroke-width="1.6"/>
<line x1="1269.9" y1="280.5" x2="1298.6" y2="299.3" stroke="#4e4a5e" stroke-width="1.6"/>
<polygon points="1308.6,298.4 1337.3,283.6 1337.3,311.2 1308.6,321.5" fill="#8c8c8c" />
<polygon points="1277.3,274.7 1308.0,263.4 1313.0,263.6 1337.3,283.0 1308.6,298.4" fill="#b8b8b8" />
<polygon points="1337.3,303.5 1341.5,302.0 1343.5,305.5 1343.0,309.5 1337.3,311.2" fill="#cfcfcf" />
<ellipse cx="853.7" cy="427.2" rx="5.2" ry="3.7" fill="#e4e4e4" stroke="#707070" stroke-width="0.9"/>
<path d="M850.8,427.8 L856.6,426.6 M853.2,424.9 L854.2,429.5" stroke="#6a6a6a" stroke-width="0.8"/>
<ellipse cx="868.4" cy="442.1" rx="5.4" ry="3.9" fill="#e4e4e4" stroke="#707070" stroke-width="0.9"/>
<path d="M865.4,442.7 L871.4,441.5 M867.9,439.7 L868.9,444.5" stroke="#6a6a6a" stroke-width="0.8"/>
<ellipse cx="1307.9" cy="271.9" rx="4.0" ry="2.8" fill="#cfcfcf" stroke="#5a5a5a" stroke-width="1.1"/>
<ellipse cx="1307.9" cy="272.3" rx="1.5" ry="1.2" fill="#444"/>
<ellipse cx="1325.4" cy="283.5" rx="4.1" ry="2.9" fill="#cfcfcf" stroke="#5a5a5a" stroke-width="1.1"/>
<ellipse cx="1325.4" cy="283.9" rx="1.6" ry="1.2" fill="#444"/>
<text x="0" y="0" font-size="8.2" font-weight="bold" fill="#222222" stroke="#222222" stroke-width="0.22" textLength="96.5" lengthAdjust="spacing" transform="translate(1210.0,313.0) rotate(161.6)">LED POWER SUPPLY</text>
<text x="0" y="0" font-size="5.3" font-weight="bold" fill="#353535" stroke="#353535" stroke-width="0.22" textLength="127.4" lengthAdjust="spacingAndGlyphs" transform="translate(1089.1,363.3) rotate(162.4)">Prim.:200-240VAC,50/60Hz, λ&gt;0.9</text>
<text x="0" y="0" font-size="5.3" font-weight="bold" fill="#353535" stroke="#353535" stroke-width="0.22" textLength="106.9" lengthAdjust="spacingAndGlyphs" transform="translate(1082.3,356.6) rotate(162.4)">Sec.:12VDC,Max-5A  Max.60W</text>
<text x="0" y="0" font-size="5.0" fill="#5a5a5a" stroke="#5a5a5a" stroke-width="0.22" textLength="50.8" lengthAdjust="spacingAndGlyphs" transform="translate(1075.0,351.9) rotate(162.4)">tc:80°C  ta:45°C</text>
<text x="0" y="0" font-size="5.4" font-weight="bold" fill="#353535" stroke="#353535" stroke-width="0.22" textLength="20.8" lengthAdjust="spacingAndGlyphs" transform="translate(978.1,385.2) rotate(162.4)">SELV</text>
<text x="0" y="0" font-size="8.5" font-weight="bold" fill="#2e2e2e" transform="translate(909.5,405.5) rotate(72)">CE</text>
<rect x="-6" y="-3.2" width="12" height="6.4" fill="none" stroke="#5a5a5a" stroke-width="0.8" transform="translate(926,403) rotate(-18)"/>
<rect x="-2.5" y="-1.6" width="5" height="3.2" fill="none" stroke="#6a6a6a" stroke-width="0.6" transform="translate(926,403) rotate(-18)"/>
<ellipse cx="939.0" cy="398.8" rx="5.2" ry="3.1" fill="#efefef" stroke="#4a4a4a" stroke-width="0.9" transform="rotate(-18 939.0 398.8)"/>
<ellipse cx="950.8" cy="394.6" rx="5.2" ry="3.1" fill="#efefef" stroke="#4a4a4a" stroke-width="0.9" transform="rotate(-18 950.8 394.6)"/>
<path d="M982.0,382.7 L986.0,377.5 L989.5,380.5 Z" fill="none" stroke="#8a8a8a" stroke-width="0.6"/>
<path d="M992.0,379.2 L996.0,374.0 L999.5,377.0 Z" fill="none" stroke="#8a8a8a" stroke-width="0.6"/>
<path d="M1002.0,375.7 L1006.0,370.5 L1009.5,373.5 Z" fill="none" stroke="#8a8a8a" stroke-width="0.6"/>
<rect x="-6" y="-3" width="12" height="6" fill="none" stroke="#5a5050" stroke-width="0.8" transform="translate(1191.0,307.0) rotate(-19)"/>
<line x1="-6" y1="-3" x2="6" y2="-3" stroke="#5a5050" stroke-width="1.4" transform="translate(1191.0,307.0) rotate(-19)"/>
<rect x="-6" y="-3" width="12" height="6" fill="none" stroke="#b0a8a8" stroke-width="0.8" transform="translate(1176.0,312.0) rotate(-19)"/>
<line x1="-6" y1="-3" x2="6" y2="-3" stroke="#b0a8a8" stroke-width="1.4" transform="translate(1176.0,312.0) rotate(-19)"/>
<rect x="-6" y="-3" width="12" height="6" fill="none" stroke="#5a5050" stroke-width="0.8" transform="translate(1164.5,320.5) rotate(-19)"/>
<line x1="-6" y1="-3" x2="6" y2="-3" stroke="#5a5050" stroke-width="1.4" transform="translate(1164.5,320.5) rotate(-19)"/>
<rect x="-6" y="-3" width="12" height="6" fill="none" stroke="#c0b8b8" stroke-width="0.8" transform="translate(1150.0,325.0) rotate(-19)"/>
<line x1="-6" y1="-3" x2="6" y2="-3" stroke="#c0b8b8" stroke-width="1.4" transform="translate(1150.0,325.0) rotate(-19)"/>
<path d="M898,425 l4,-1.3 l2,3 l-4,1.3 Z" fill="none" stroke="#777" stroke-width="0.6"/>
<text x="0" y="0" font-size="5.5" font-weight="bold" fill="#444" transform="translate(911.5,418) rotate(72)">AI</text>
<path d="M1284,285 l3,2.5 M1287,289 l4,3" stroke="#555" stroke-width="0.8"/>
<polygon points="1398.1,64.3 1408.4,67.2 1389.7,193.6 1379.4,188.0" fill="#d9d9d9" />
<polygon points="1398.1,64.3 1499.3,35.3 1509.6,41.5 1408.4,67.2" fill="#cfcfcf" />
<polygon points="1408.4,67.2 1509.6,41.5 1490.8,158.4 1389.7,193.6" fill="#a8a8a8" />
<ellipse cx="1451.3" cy="119.2" rx="19.8" ry="30.2" fill="#2f343b" transform="rotate(31 1451.3 119.2)"/>
<defs><linearGradient id="plg" x1="0" y1="0" x2="0" y2="1"><stop offset="0" stop-color="#c4c4c4"/><stop offset="0.45" stop-color="#d2d2d2"/><stop offset="1" stop-color="#dedede"/></linearGradient></defs>
<polygon points="1439.7,102.8 1455.0,101.4 1473.9,110.5 1475.4,120.0 1483.4,128.7 1492.8,130.2 1501.6,136.0 1502.3,140.4 1492.8,150.5 1484.1,150.5 1481.2,147.6 1460.8,140.4 1456.4,141.1 1447.7,138.2 1441.8,138.9 1429.5,128.7 1434.6,116.3" fill="url(#plg)" />
<polygon points="1439.7,102.8 1455.0,101.4 1473.9,110.5 1475.4,120.0 1462.0,117.0 1444.0,114.0" fill="#bcbcbc" />
<line x1="1446.0" y1="118.0" x2="1448.0" y2="115.0" stroke="#b4b4b4" stroke-width="0.5"/>
<line x1="1450.3" y1="119.7" x2="1452.3" y2="116.7" stroke="#b4b4b4" stroke-width="0.5"/>
<line x1="1454.7" y1="121.3" x2="1456.7" y2="118.3" stroke="#b4b4b4" stroke-width="0.5"/>
<line x1="1459.0" y1="123.0" x2="1461.0" y2="120.0" stroke="#b4b4b4" stroke-width="0.5"/>
<line x1="1463.3" y1="124.7" x2="1465.3" y2="121.7" stroke="#b4b4b4" stroke-width="0.5"/>
<line x1="1467.7" y1="126.3" x2="1469.7" y2="123.3" stroke="#b4b4b4" stroke-width="0.5"/>
<polygon points="1484.5,129.5 1492.8,130.2 1501.6,136.0 1502.3,140.4 1492.8,150.5 1484.1,150.5 1481.2,147.6 1483.0,138.0" fill="#d4d4d4" stroke="#bdbdbd" stroke-width="0.6"/>
<path d="M1336.5,286.5 C1343.2,283.7 1362.3,275.7 1376.8,269.8 C1391.3,263.9 1408.0,257.6 1423.6,251.1 C1439.2,244.5 1457.9,236.8 1470.4,230.5 C1482.9,224.2 1490.7,219.5 1498.5,213.6 C1506.3,207.7 1512.7,201.1 1517.2,194.9 C1521.7,188.7 1524.5,181.8 1525.7,176.2 C1527.0,170.6 1526.1,165.6 1524.7,161.2 C1523.3,156.8 1520.3,153.1 1517.2,150.0 C1514.1,146.9 1509.7,144.4 1506.0,142.5 C1502.3,140.6 1496.7,139.3 1494.8,138.7" fill="none" stroke="#b9b9b9" stroke-width="10"/>
<path d="M1336.5,286.5 C1343.2,283.7 1362.3,275.7 1376.8,269.8 C1391.3,263.9 1408.0,257.6 1423.6,251.1 C1439.2,244.5 1457.9,236.8 1470.4,230.5 C1482.9,224.2 1490.7,219.5 1498.5,213.6 C1506.3,207.7 1512.7,201.1 1517.2,194.9 C1521.7,188.7 1524.5,181.8 1525.7,176.2 C1527.0,170.6 1526.1,165.6 1524.7,161.2 C1523.3,156.8 1520.3,153.1 1517.2,150.0 C1514.1,146.9 1509.7,144.4 1506.0,142.5 C1502.3,140.6 1496.7,139.3 1494.8,138.7" fill="none" stroke="#d3d3d3" stroke-width="8"/>
<path d="M1336.5,286.5 C1343.2,283.7 1362.3,275.7 1376.8,269.8 C1391.3,263.9 1408.0,257.6 1423.6,251.1 C1439.2,244.5 1457.9,236.8 1470.4,230.5 C1482.9,224.2 1490.7,219.5 1498.5,213.6 C1506.3,207.7 1512.7,201.1 1517.2,194.9 C1521.7,188.7 1524.5,181.8 1525.7,176.2 C1527.0,170.6 1526.1,165.6 1524.7,161.2 C1523.3,156.8 1520.3,153.1 1517.2,150.0 C1514.1,146.9 1509.7,144.4 1506.0,142.5 C1502.3,140.6 1496.7,139.3 1494.8,138.7" fill="none" stroke="#e0e0e0" stroke-width="3" transform="translate(-0.8,-1.2)"/>
<text x="-2.13" y="0" font-size="32.10" fill="#000" style="font-kerning:none" transform="translate(646.50,405.70) rotate(-17.54) scale(1.0626,1)">max.3000mm</text>
<text x="-2.51" y="0" font-size="33.00" fill="#000" style="font-kerning:none" transform="translate(703.40,491.20) rotate(-18.30) scale(0.9492,1)">12V DC</text>
<text x="-1.29" y="0" font-size="32.20" fill="#000" style="font-kerning:none" transform="translate(1315.60,510.90) rotate(-21.20) scale(1.0643,1)">5000mm</text>
<text x="-2.87" y="0" font-size="35.00" fill="#000" style="font-kerning:none" transform="translate(1183.60,732.50) rotate(0.00) scale(0.9392,1)">R&gt;10mm</text>
<line x1="1086" y1="627.4" x2="1216.2" y2="689.9" stroke="#000" stroke-width="2.9"/>
<polygon points="1061.2,615.0 1091.2,621.2 1084.4,635.0" fill="#000" />
</svg>
</body></html>
